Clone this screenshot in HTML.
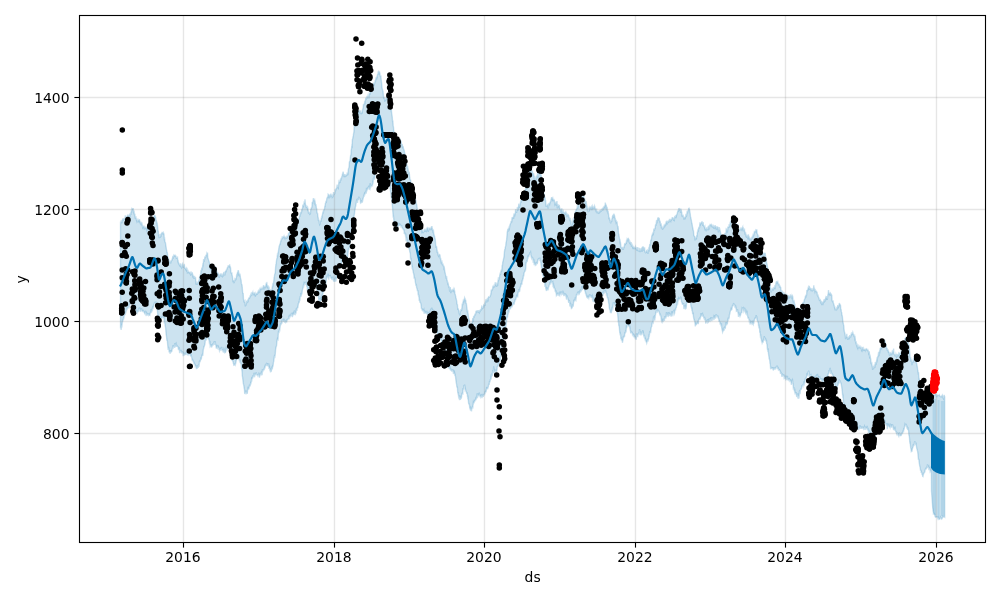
<!DOCTYPE html>
<html><head><meta charset="utf-8"><style>html,body{margin:0;padding:0;background:#fff;overflow:hidden}svg{display:block}</style></head>
<body><svg width="1000" height="600" viewBox="0 0 1000 600">
<rect width="1000" height="600" fill="#fff"/>
<polygon points="120.5,221.5 120.8,223.9 121.1,220.2 121.4,222.1 121.7,222.2 122,222.4 122.3,220.2 122.6,219.5 122.9,218.4 123.2,220.9 123.5,219.3 123.8,218.6 124.1,218.4 124.4,219 124.7,218.5 125,219.6 125.3,215.4 125.6,218.8 125.9,216.9 126.2,217.2 126.5,216.7 126.8,216.8 127.1,217.6 127.4,216.7 127.7,214.5 128,215.9 128.3,215.7 128.6,216 128.9,215.4 129.2,215.1 129.5,216.2 129.8,213.5 130.1,217.2 130.4,213.7 130.7,212.9 131,214.9 131.3,210.8 131.6,211.2 131.9,208.5 132.2,208.7 132.5,208.8 132.8,209.2 133.1,208.1 133.4,210.7 133.7,213.3 134,210.5 134.3,214.6 134.6,214.6 134.9,214.5 135.2,218.8 135.5,218 135.8,216.2 136.1,218.5 136.4,219.9 136.7,219.4 137,221.1 137.3,220.3 137.6,221.4 137.9,222.4 138.2,219.7 138.5,220.8 138.8,220 139.1,220.8 139.4,219.3 139.7,220.4 140,221.3 140.3,223.3 140.6,224.3 140.9,221.7 141.2,223 141.5,225.4 141.8,222.4 142.1,224.8 142.4,225.7 142.7,227.8 143,227.3 143.3,226.2 143.6,226.4 143.9,226.8 144.2,229.3 144.5,226.9 144.8,227.3 145.1,228.3 145.4,227.8 145.7,227.9 146,226.8 146.3,228.2 146.6,227.7 146.9,229.7 147.2,228.9 147.5,228 147.8,228.7 148.1,227.3 148.4,229 148.7,227.5 149,228.1 149.3,225.5 149.6,227.4 149.9,224.6 150.2,223.8 150.5,225.7 150.8,224.3 151.1,224.9 151.4,226.8 151.7,221.9 152,221.2 152.3,221.3 152.6,220.8 152.9,219 153.2,218.1 153.5,218.5 153.8,217.5 154.1,215 154.4,215.9 154.7,216.2 155,215 155.3,217.3 155.6,216.5 155.9,219.8 156.2,220 156.5,221.2 156.8,222.2 157.1,224.8 157.4,224.4 157.7,227.7 158,231.8 158.3,230.5 158.6,236.2 158.9,234.2 159.2,238.1 159.5,236.2 159.8,237.8 160.1,236.5 160.4,233.7 160.7,236.7 161,236.4 161.3,233.9 161.6,233.2 161.9,233.1 162.2,231.9 162.5,234.5 162.8,232.4 163.1,233.3 163.4,232.7 163.7,233.8 164,234 164.3,238.9 164.6,238.6 164.9,241.8 165.2,242.2 165.5,243 165.8,245.3 166.1,246.8 166.4,249.3 166.7,250.5 167,252.3 167.3,252.6 167.6,254.9 167.9,259.6 168.2,257.9 168.5,258.5 168.8,261.2 169.1,263.4 169.4,260.3 169.7,262.4 170,262.2 170.3,260.6 170.6,263.5 170.9,262 171.2,261.6 171.5,259.9 171.8,260.9 172.1,258.9 172.4,258.8 172.7,256.9 173,256 173.3,258.8 173.6,255.9 173.9,256.5 174.2,255.9 174.5,255.2 174.8,255.1 175.1,256.6 175.4,255.5 175.7,255.8 176,256.2 176.3,258.1 176.6,257.9 176.9,258.1 177.2,257.7 177.5,257.4 177.8,261.3 178.1,262.2 178.4,261.6 178.7,263.3 179,264.3 179.3,264.9 179.6,265.4 179.9,263.9 180.2,266.7 180.5,263.2 180.8,266.1 181.1,265.7 181.4,266.4 181.7,267.8 182,267.4 182.3,264.1 182.6,263.6 182.9,267.1 183.2,265 183.5,266.5 183.8,267.9 184.1,265 184.4,264.8 184.7,268.2 185,268.3 185.3,268.4 185.6,269.2 185.9,268.5 186.2,268.1 186.5,270.3 186.8,269.8 187.1,269.3 187.4,272.5 187.7,272.1 188,273.1 188.3,271.5 188.6,272.2 188.9,271.9 189.2,272.1 189.5,273.5 189.8,272.2 190.1,273.6 190.4,273.5 190.7,275.6 191,271.2 191.3,274.4 191.6,273.4 191.9,273.8 192.2,272.3 192.5,274 192.8,276.1 193.1,275.5 193.4,276.2 193.7,276.3 194,278.8 194.3,278 194.6,275.9 194.9,278.7 195.2,277.9 195.5,277.1 195.8,281.5 196.1,284.8 196.4,283.7 196.7,282.4 197,282.8 197.3,285 197.6,283.3 197.9,282.5 198.2,281.7 198.5,281.1 198.8,281.3 199.1,280.1 199.4,278.7 199.7,276.1 200,277 200.3,274.4 200.6,275.5 200.9,271.2 201.2,271.5 201.5,270.4 201.8,267.5 202.1,270.2 202.4,268.7 202.7,265 203,265.5 203.3,264 203.6,259.1 203.9,261.9 204.2,260.5 204.5,259.8 204.8,257.4 205.1,257.6 205.4,256.8 205.7,257.7 206,255.7 206.3,254.6 206.6,256 206.9,253.2 207.2,253.7 207.5,252.5 207.8,258 208.1,258.4 208.4,259.6 208.7,260.5 209,261 209.3,262.4 209.6,263 209.9,264.3 210.2,265.8 210.5,268.9 210.8,268.4 211.1,268.3 211.4,267.9 211.7,267.9 212,270.8 212.3,269.3 212.6,268.6 212.9,267.9 213.2,266.7 213.5,267.9 213.8,269 214.1,267.2 214.4,267.4 214.7,267.4 215,268 215.3,266.2 215.6,268.5 215.9,268.4 216.2,271.3 216.5,269.8 216.8,272.3 217.1,274.1 217.4,272.3 217.7,272.5 218,274.1 218.3,274.3 218.6,273.4 218.9,275.7 219.2,278 219.5,275.3 219.8,275.5 220.1,274.5 220.4,276.1 220.7,273.9 221,273.9 221.3,276.8 221.6,273.7 221.9,276.1 222.2,276.5 222.5,274.7 222.8,274.9 223.1,276.6 223.4,273.7 223.7,273.1 224,272 224.3,273.7 224.6,275.5 224.9,274.5 225.2,271.6 225.5,271.2 225.8,271 226.1,271.3 226.4,269.9 226.7,269.8 227,269.1 227.3,267.7 227.6,267.3 227.9,266.8 228.2,265.8 228.5,265.9 228.8,267.4 229.1,265.8 229.4,265.7 229.7,264.4 230,268.1 230.3,266.3 230.6,268.1 230.9,272.2 231.2,273.1 231.5,273.2 231.8,272.3 232.1,275.3 232.4,276.1 232.7,279 233,282.3 233.3,280.8 233.6,280.5 233.9,280.6 234.2,282.2 234.5,281.8 234.8,279.8 235.1,280.6 235.4,278.1 235.7,280.1 236,279.1 236.3,278.2 236.6,275.2 236.9,275.5 237.2,273.8 237.5,272.6 237.8,272.1 238.1,270.7 238.4,270.7 238.7,274 239,273.4 239.3,274.6 239.6,276.4 239.9,273.6 240.2,275.6 240.5,277.7 240.8,279.3 241.1,279.7 241.4,283.4 241.7,284.4 242,284.8 242.3,287.5 242.6,292 242.9,293.9 243.2,293 243.5,299.4 243.8,300.1 244.1,302.5 244.4,301.2 244.7,301.9 245,301.3 245.3,306.4 245.6,303.2 245.9,305.6 246.2,302.5 246.5,303.4 246.8,300.5 247.1,301.7 247.4,303 247.7,299.6 248,302.1 248.3,300.7 248.6,298.4 248.9,298.6 249.2,298.2 249.5,298.2 249.8,297.1 250.1,296.2 250.4,296.4 250.7,295 251,294.1 251.3,295.3 251.6,296 251.9,292.4 252.2,294 252.5,292.7 252.8,292 253.1,294.2 253.4,292.5 253.7,295.2 254,292.4 254.3,294.1 254.6,293.5 254.9,293 255.2,294.9 255.5,294.2 255.8,295.2 256.1,294.4 256.4,292.9 256.7,294 257,294 257.3,294.9 257.6,292.2 257.9,293 258.2,290.5 258.5,293.3 258.8,290.7 259.1,289.5 259.4,291.4 259.7,292.6 260,288.9 260.3,289.2 260.6,289.3 260.9,288.5 261.2,290.2 261.5,288.4 261.8,288.3 262.1,289.7 262.4,287.7 262.7,288.9 263,286.8 263.3,286.3 263.6,285.2 263.9,289.7 264.2,286.7 264.5,287.1 264.8,286.5 265.1,286.5 265.4,286.1 265.7,288.3 266,284.1 266.3,283.2 266.6,283.8 266.9,283.4 267.2,286.5 267.5,287.1 267.8,285.6 268.1,285.8 268.4,288 268.7,291.2 269,286.6 269.3,291.7 269.6,290.4 269.9,293.6 270.2,290.9 270.5,291.9 270.8,289.9 271.1,290.1 271.4,292.6 271.7,291.2 272,288.9 272.3,287.5 272.6,285.2 272.9,285.9 273.2,284.8 273.5,283 273.8,280.8 274.1,277.3 274.4,276.4 274.7,274.2 275,273.6 275.3,272.1 275.6,267.2 275.9,264.3 276.2,263.2 276.5,260.7 276.8,258.7 277.1,257.9 277.4,255 277.7,255.5 278,253 278.3,252 278.6,249.9 278.9,247.7 279.2,246 279.5,245.6 279.8,244.2 280.1,244.2 280.4,243.1 280.7,240.6 281,241.7 281.3,239.2 281.6,239.4 281.9,239.2 282.2,236.3 282.5,238.5 282.8,238.2 283.1,237.4 283.4,236.9 283.7,237 284,236.2 284.3,237.3 284.6,237.1 284.9,238 285.2,236.5 285.5,238.4 285.8,238.4 286.1,238 286.4,237.6 286.7,238.7 287,235.5 287.3,237.7 287.6,236.8 287.9,236.1 288.2,235.5 288.5,233.4 288.8,233.2 289.1,233.6 289.4,232.6 289.7,231.7 290,228.7 290.3,230.8 290.6,231.1 290.9,230.5 291.2,229.2 291.5,226.6 291.8,229.6 292.1,227.9 292.4,224.6 292.7,228.1 293,225.4 293.3,225.4 293.6,226 293.9,228.2 294.2,225.8 294.5,226.4 294.8,228 295.1,227.5 295.4,224.9 295.7,224.2 296,222.4 296.3,222.5 296.6,223.4 296.9,222.8 297.2,221.8 297.5,222.4 297.8,219.5 298.1,219.8 298.4,220.2 298.7,219.4 299,219.3 299.3,217.7 299.6,216 299.9,216.1 300.2,213.6 300.5,212 300.8,214.2 301.1,212.6 301.4,212.4 301.7,209.1 302,210.1 302.3,208.9 302.6,207.6 302.9,204.6 303.2,205.9 303.5,206.2 303.8,204.5 304.1,202.4 304.4,202.7 304.7,203.7 305,199.3 305.3,203.3 305.6,204.7 305.9,205.5 306.2,207.3 306.5,207.2 306.8,206.7 307.1,207.3 307.4,208.7 307.7,207.8 308,209.3 308.3,211.4 308.6,213.7 308.9,211.8 309.2,212.7 309.5,213.6 309.8,215 310.1,212.8 310.4,213.9 310.7,209.5 311,209.3 311.3,207.9 311.6,207.9 311.9,207 312.2,202.4 312.5,202 312.8,202.5 313.1,200.2 313.4,198.1 313.7,200.9 314,199.9 314.3,200.5 314.6,200 314.9,203 315.2,202.5 315.5,205.4 315.8,204.1 316.1,205.5 316.4,208.3 316.7,208.7 317,212.2 317.3,213.4 317.6,213.5 317.9,216.6 318.2,217.7 318.5,220.9 318.8,220 319.1,221 319.4,223.4 319.7,224.6 320,224 320.3,221 320.6,220.7 320.9,221.9 321.2,219.2 321.5,217.5 321.8,218.1 322.1,217.6 322.4,214.9 322.7,212.8 323,211.9 323.3,213.5 323.6,210.4 323.9,210.1 324.2,209.3 324.5,208.7 324.8,206.3 325.1,206.3 325.4,203.3 325.7,202.9 326,200.9 326.3,202.6 326.6,200 326.9,198 327.2,197.6 327.5,197 327.8,197.7 328.1,194.2 328.4,194.5 328.7,195 329,198.5 329.3,196.3 329.6,194.7 329.9,195.7 330.2,197.4 330.5,194.4 330.8,194.2 331.1,196.3 331.4,195.5 331.7,195.8 332,194.3 332.3,197.5 332.6,197.3 332.9,195.7 333.2,195.8 333.5,192.1 333.8,195.2 334.1,193.7 334.4,193.9 334.7,193.6 335,191.7 335.3,189.2 335.6,191.2 335.9,189.1 336.2,189 336.5,188 336.8,187.7 337.1,184.5 337.4,188.5 337.7,186.7 338,187.2 338.3,187.8 338.6,184.7 338.9,181.8 339.2,182.4 339.5,181.5 339.8,181.8 340.1,182 340.4,178.7 340.7,181 341,177.8 341.3,179.2 341.6,177.6 341.9,176.2 342.2,175.5 342.5,173.9 342.8,173.2 343.1,171.5 343.4,173.6 343.7,176.1 344,176.5 344.3,176 344.6,175.5 344.9,174.1 345.2,177.1 345.5,175.4 345.8,175.5 346.1,175.2 346.4,175.6 346.7,174.7 347,174.9 347.3,172.9 347.6,173 347.9,175.2 348.2,170.6 348.5,168.7 348.8,167.9 349.1,166.3 349.4,162 349.7,161.3 350,160.7 350.3,157.8 350.6,155.5 350.9,155.2 351.2,150.1 351.5,148.8 351.8,145.8 352.1,146.2 352.4,139.4 352.7,138.8 353,136.7 353.3,135.9 353.6,133.4 353.9,132.1 354.2,125.9 354.5,126.6 354.8,122.9 355.1,120.3 355.4,119.8 355.7,116.1 356,113 356.3,114.4 356.6,112.2 356.9,112.9 357.2,113.9 357.5,113.5 357.8,114.9 358.1,112.3 358.4,110.4 358.7,111.3 359,111.1 359.3,110.8 359.6,113.1 359.9,111.8 360.2,110.3 360.5,113.9 360.8,112.9 361.1,113.5 361.4,112.9 361.7,113 362,111.4 362.3,111.9 362.6,109.8 362.9,108.6 363.2,107.6 363.5,104.1 363.8,104.9 364.1,103.9 364.4,103.7 364.7,100.9 365,104.1 365.3,101.4 365.6,99 365.9,97.7 366.2,98.9 366.5,98.4 366.8,97 367.1,97.5 367.4,96.1 367.7,97.3 368,95.3 368.3,95.8 368.6,96.8 368.9,98.5 369.2,93.5 369.5,93.8 369.8,92.9 370.1,94.6 370.4,91.7 370.7,91.9 371,91.9 371.3,89.9 371.6,89.1 371.9,89 372.2,86 372.5,86.1 372.8,86.6 373.1,86.6 373.4,85.4 373.7,82.6 374,83.5 374.3,84.4 374.6,83.4 374.9,81.9 375.2,80.1 375.5,81.4 375.8,79.2 376.1,77.6 376.4,77.3 376.7,79.3 377,76.7 377.3,76.9 377.6,73.8 377.9,74.6 378.2,71.8 378.5,71.5 378.8,74.7 379.1,72.5 379.4,71.4 379.7,72.7 380,74.2 380.3,76.7 380.6,75.8 380.9,75.9 381.2,79.8 381.5,82.2 381.8,84.6 382.1,88.3 382.4,89 382.7,91.4 383,90.6 383.3,94.5 383.6,97.5 383.9,97.1 384.2,97.6 384.5,98.7 384.8,101.6 385.1,98.6 385.4,99.7 385.7,100.2 386,100.1 386.3,98 386.6,98.4 386.9,97 387.2,97 387.5,96.1 387.8,94.4 388.1,95.4 388.4,96.3 388.7,93.9 389,95.1 389.3,97.4 389.6,96.5 389.9,99.9 390.2,100.1 390.5,104.9 390.8,108.6 391.1,110.4 391.4,109.7 391.7,113.3 392,115 392.3,117.4 392.6,121.7 392.9,120.5 393.2,126 393.5,127 393.8,131.3 394.1,132 394.4,132.8 394.7,135.4 395,137.2 395.3,136.9 395.6,138.1 395.9,137.4 396.2,135.8 396.5,140.2 396.8,140.4 397.1,140.1 397.4,140.2 397.7,141.7 398,139.9 398.3,139.6 398.6,140.3 398.9,142.1 399.2,138.8 399.5,142.1 399.8,139.9 400.1,139.5 400.4,143 400.7,141.7 401,140.7 401.3,142.5 401.6,144.7 401.9,145.6 402.2,144.1 402.5,145.9 402.8,147.1 403.1,146.3 403.4,148.6 403.7,149.2 404,149.7 404.3,151 404.6,153 404.9,154.2 405.2,154.8 405.5,156.3 405.8,159.7 406.1,160 406.4,162.4 406.7,164.3 407,165 407.3,168.7 407.6,166.1 407.9,169.7 408.2,169.6 408.5,173.8 408.8,175 409.1,171.5 409.4,174.1 409.7,177.5 410,178.8 410.3,180 410.6,180.1 410.9,181.9 411.2,183.3 411.5,183.4 411.8,185.9 412.1,182.6 412.4,187.4 412.7,186.2 413,189.8 413.3,189.3 413.6,189.5 413.9,192.3 414.2,191.7 414.5,192.9 414.8,193.3 415.1,196.6 415.4,198.7 415.7,200.8 416,200.8 416.3,203.9 416.6,204.1 416.9,205.5 417.2,208 417.5,210.2 417.8,210 418.1,211.7 418.4,213.4 418.7,215.3 419,215.5 419.3,219.6 419.6,219.3 419.9,221.9 420.2,221.6 420.5,224.6 420.8,225.9 421.1,226 421.4,230.4 421.7,229.3 422,232.2 422.3,231.8 422.6,230.3 422.9,231 423.2,232.3 423.5,231.9 423.8,231.9 424.1,231.4 424.4,229.3 424.7,231.3 425,228.6 425.3,231.8 425.6,230.2 425.9,230 426.2,230.5 426.5,231 426.8,228.6 427.1,228 427.4,228.8 427.7,227.5 428,228.8 428.3,232 428.6,228.5 428.9,230.5 429.2,227.6 429.5,229.4 429.8,228.3 430.1,228.3 430.4,228.8 430.7,230.1 431,227.8 431.3,227.6 431.6,226.2 431.9,228.4 432.2,227.9 432.5,230.1 432.8,229.9 433.1,233.2 433.4,229.5 433.7,232.8 434,235.5 434.3,235.4 434.6,236.3 434.9,238.5 435.2,238.7 435.5,242.3 435.8,247 436.1,247 436.4,245.8 436.7,247.7 437,249.9 437.3,252.9 437.6,251.6 437.9,252.6 438.2,255.4 438.5,256 438.8,254.9 439.1,254.5 439.4,254.5 439.7,256.1 440,254.6 440.3,259.1 440.6,257.9 440.9,260.1 441.2,262.7 441.5,262.6 441.8,260.4 442.1,263.9 442.4,265.2 442.7,263.6 443,264.2 443.3,266.3 443.6,265.3 443.9,270.3 444.2,266.3 444.5,269.1 444.8,271.3 445.1,272.5 445.4,274.2 445.7,275.5 446,276.1 446.3,279 446.6,276 446.9,280 447.2,280.2 447.5,282.5 447.8,283.7 448.1,283.2 448.4,284.4 448.7,287.1 449,287.2 449.3,286.4 449.6,290.6 449.9,291.4 450.2,287.1 450.5,289.8 450.8,293.1 451.1,291.2 451.4,290.8 451.7,290.4 452,290 452.3,290.4 452.6,290 452.9,291.6 453.2,290.1 453.5,290 453.8,289.1 454.1,290.7 454.4,289.9 454.7,291.5 455,294 455.3,294.5 455.6,296.1 455.9,297.5 456.2,298.7 456.5,300.2 456.8,301.7 457.1,304.8 457.4,304.1 457.7,308.8 458,308.6 458.3,308.8 458.6,310.3 458.9,311 459.2,313 459.5,312.7 459.8,315.5 460.1,313.1 460.4,310.7 460.7,311.8 461,309 461.3,310.2 461.6,310.2 461.9,308.2 462.2,304.2 462.5,303.5 462.8,305.3 463.1,302 463.4,300.2 463.7,300.4 464,301.2 464.3,299.4 464.6,297.9 464.9,298.8 465.2,300.2 465.5,299.8 465.8,300.6 466.1,303.5 466.4,303.6 466.7,306.3 467,308 467.3,312.4 467.6,309.9 467.9,312.6 468.2,314.3 468.5,316.9 468.8,319.6 469.1,319.4 469.4,320.8 469.7,321.3 470,323.6 470.3,326.2 470.6,325.9 470.9,324.3 471.2,324.6 471.5,324.5 471.8,324.3 472.1,322.1 472.4,321.7 472.7,318.8 473,318.8 473.3,321.6 473.6,315.8 473.9,317.4 474.2,317.3 474.5,315.8 474.8,314.7 475.1,315 475.4,314.5 475.7,313.8 476,310.9 476.3,312.5 476.6,311 476.9,310.9 477.2,311.4 477.5,311.6 477.8,311.9 478.1,310 478.4,311.9 478.7,312.3 479,312.3 479.3,312.7 479.6,310.8 479.9,310.8 480.2,312.1 480.5,309.1 480.8,310.8 481.1,309.5 481.4,309.2 481.7,306.8 482,307.3 482.3,307.9 482.6,308.5 482.9,308.1 483.2,306.2 483.5,305.6 483.8,304.3 484.1,305.4 484.4,304.2 484.7,304.8 485,305.9 485.3,303.1 485.6,300.7 485.9,301.1 486.2,299.8 486.5,299.7 486.8,302.5 487.1,300.5 487.4,297.8 487.7,300.1 488,300.4 488.3,297.8 488.6,296.9 488.9,296.8 489.2,297 489.5,296.9 489.8,296.9 490.1,296.2 490.4,295.4 490.7,294.9 491,293.2 491.3,289.6 491.6,290.7 491.9,290.5 492.2,288.8 492.5,289.7 492.8,287.2 493.1,285.7 493.4,288.1 493.7,286.6 494,285.7 494.3,286.6 494.6,286.7 494.9,285.8 495.2,282.2 495.5,284.6 495.8,285 496.1,284.3 496.4,285.8 496.7,286.8 497,284.3 497.3,282.6 497.6,285.9 497.9,281.6 498.2,279.6 498.5,280.4 498.8,279.7 499.1,277.2 499.4,278.2 499.7,275.5 500,274 500.3,274.4 500.6,274.1 500.9,271.2 501.2,271.2 501.5,269.3 501.8,271.5 502.1,265.3 502.4,266.3 502.7,262.7 503,260.9 503.3,260.2 503.6,258.6 503.9,257.3 504.2,254.2 504.5,251.2 504.8,249.3 505.1,248.7 505.4,246.9 505.7,245.9 506,242.7 506.3,241.5 506.6,240.1 506.9,236.3 507.2,232.3 507.5,230.9 507.8,229.1 508.1,231.8 508.4,227.7 508.7,229.6 509,228 509.3,228.8 509.6,227.1 509.9,224.9 510.2,224 510.5,223.6 510.8,222.9 511.1,221.2 511.4,221.1 511.7,222.5 512,217.4 512.3,219.2 512.6,217 512.9,217.8 513.2,218 513.5,216.3 513.8,216.8 514.1,213.2 514.4,216.2 514.7,213.5 515,214.6 515.3,213.4 515.6,209.2 515.9,211 516.2,211.7 516.5,212.8 516.8,210.5 517.1,209.9 517.4,207.1 517.7,210.2 518,210 518.3,207.1 518.6,206.1 518.9,203.6 519.2,206.2 519.5,208 519.8,204.7 520.1,204.8 520.4,203.2 520.7,200.6 521,202.9 521.3,199 521.6,199.7 521.9,199.7 522.2,199.9 522.5,198.7 522.8,198.1 523.1,196 523.4,194.8 523.7,195.9 524,194.3 524.3,192.9 524.6,192.3 524.9,192.5 525.2,189.7 525.5,189.3 525.8,187.7 526.1,188.8 526.4,187.7 526.7,188.4 527,182.5 527.3,182.1 527.6,182.7 527.9,179.8 528.2,178.1 528.5,179.3 528.8,175.1 529.1,172.5 529.4,170.8 529.7,171.8 530,170.7 530.3,168.3 530.6,168.8 530.9,171.1 531.2,171.5 531.5,170.4 531.8,172.5 532.1,173 532.4,170.6 532.7,173.1 533,174.8 533.3,174.2 533.6,173 533.9,176.2 534.2,178.3 534.5,180.2 534.8,175.7 535.1,182.3 535.4,177.4 535.7,179.9 536,179.9 536.3,179.2 536.6,177.6 536.9,175.4 537.2,177.2 537.5,174.9 537.8,172 538.1,178.3 538.4,175 538.7,175.8 539,171.7 539.3,174.3 539.6,174.2 539.9,174.3 540.2,173 540.5,172.5 540.8,175.5 541.1,174.6 541.4,177.1 541.7,181.2 542,181.6 542.3,184.4 542.6,186.3 542.9,190.6 543.2,191.5 543.5,191.4 543.8,194.5 544.1,193.5 544.4,195.5 544.7,198.6 545,197.4 545.3,200.1 545.6,200.3 545.9,203.6 546.2,206.9 546.5,204.9 546.8,206.7 547.1,205.5 547.4,205.1 547.7,204.7 548,207.8 548.3,208.5 548.6,205.5 548.9,203.4 549.2,204.7 549.5,202.7 549.8,203.6 550.1,202.3 550.4,201.7 550.7,201.5 551,199.3 551.3,199.1 551.6,197.1 551.9,198.6 552.2,197.4 552.5,199.3 552.8,198.5 553.1,200.2 553.4,201 553.7,198.9 554,200 554.3,200.2 554.6,202.7 554.9,204.3 555.2,203.5 555.5,202.3 555.8,205.1 556.1,201.6 556.4,205.9 556.7,203.4 557,201 557.3,208.3 557.6,207.1 557.9,204 558.2,205.9 558.5,205.7 558.8,206.5 559.1,204.8 559.4,206.3 559.7,208.2 560,208.4 560.3,210.1 560.6,209.1 560.9,212.6 561.2,209 561.5,210.7 561.8,208.3 562.1,209.6 562.4,213.4 562.7,210.8 563,213.1 563.3,212.6 563.6,211.5 563.9,212.6 564.2,212.6 564.5,212.7 564.8,214.3 565.1,214.2 565.4,212.6 565.7,212.1 566,213.6 566.3,213.2 566.6,214.7 566.9,217.1 567.2,215.2 567.5,214.5 567.8,214.9 568.1,214.7 568.4,215.2 568.7,215.8 569,217.3 569.3,217.9 569.6,220.2 569.9,219.4 570.2,220.4 570.5,219.8 570.8,224.2 571.1,223.4 571.4,225.4 571.7,224.2 572,224.9 572.3,222 572.6,222.5 572.9,224.2 573.2,218.2 573.5,220.4 573.8,220.2 574.1,217.6 574.4,217.1 574.7,216.9 575,213.4 575.3,213.9 575.6,211.2 575.9,210.5 576.2,209.5 576.5,209.2 576.8,208.7 577.1,208.2 577.4,204.9 577.7,208.6 578,206.7 578.3,205.4 578.6,203.2 578.9,202.9 579.2,203 579.5,202.2 579.8,198.7 580.1,201.4 580.4,203.7 580.7,196.8 581,200.1 581.3,198.7 581.6,197.6 581.9,199.1 582.2,195.3 582.5,196.7 582.8,198.2 583.1,195.9 583.4,195.9 583.7,197.1 584,197 584.3,200.5 584.6,198.2 584.9,201.6 585.2,199.7 585.5,203.3 585.8,203.3 586.1,201 586.4,205.5 586.7,205.1 587,206.9 587.3,210.5 587.6,207.8 587.9,208.5 588.2,212.2 588.5,210.5 588.8,212 589.1,209.8 589.4,207.4 589.7,207.9 590,209.1 590.3,208.5 590.6,207.2 590.9,207.3 591.2,207.2 591.5,206.7 591.8,210.1 592.1,207.6 592.4,206.1 592.7,207 593,208.7 593.3,208.6 593.6,207.6 593.9,207 594.2,208 594.5,205.9 594.8,206.5 595.1,209.5 595.4,208 595.7,209.4 596,210.9 596.3,210.5 596.6,210 596.9,213.3 597.2,211.8 597.5,210.9 597.8,212.8 598.1,212.9 598.4,211.6 598.7,213 599,212.8 599.3,210.3 599.6,212.5 599.9,212.2 600.2,211.7 600.5,209.7 600.8,211.1 601.1,211.2 601.4,211 601.7,209 602,210.9 602.3,208 602.6,208.9 602.9,210.5 603.2,207.4 603.5,207.2 603.8,208.9 604.1,206.5 604.4,206.1 604.7,206.4 605,207 605.3,202.6 605.6,204.5 605.9,204.7 606.2,205.3 606.5,206.5 606.8,207.4 607.1,209.9 607.4,209.2 607.7,211.5 608,212.8 608.3,212.4 608.6,214.6 608.9,218 609.2,217.6 609.5,217.8 609.8,219.9 610.1,220 610.4,222.4 610.7,223.4 611,221 611.3,221 611.6,221.9 611.9,218.7 612.2,218.6 612.5,216.1 612.8,215.5 613.1,215.1 613.4,218.1 613.7,214.5 614,214.3 614.3,214.9 614.6,216 614.9,218 615.2,218.2 615.5,221.5 615.8,219.9 616.1,222.2 616.4,221.5 616.7,222.8 617,221.2 617.3,224.5 617.6,226.3 617.9,228 618.2,227.6 618.5,233.6 618.8,234 619.1,235.9 619.4,238 619.7,239.7 620,242.2 620.3,241.5 620.6,243.5 620.9,246.6 621.2,247.5 621.5,247.8 621.8,247.8 622.1,247.6 622.4,248.5 622.7,249.9 623,246.8 623.3,249.9 623.6,248.7 623.9,246.7 624.2,247.9 624.5,244.6 624.8,243.7 625.1,243.8 625.4,244.3 625.7,243.8 626,242.9 626.3,243.1 626.6,239.5 626.9,242.2 627.2,239.1 627.5,239.6 627.8,239.7 628.1,238.6 628.4,238.5 628.7,239.4 629,241.1 629.3,242.4 629.6,242.9 629.9,241.5 630.2,242.3 630.5,242.7 630.8,244.9 631.1,242.1 631.4,246.7 631.7,244.7 632,244.5 632.3,246.1 632.6,247.2 632.9,246.4 633.2,247.5 633.5,246.5 633.8,248.1 634.1,248.3 634.4,246.8 634.7,249 635,247.7 635.3,247.9 635.6,246.8 635.9,247.9 636.2,249.6 636.5,247.2 636.8,250 637.1,249.9 637.4,250.1 637.7,247.1 638,250.1 638.3,251.4 638.6,249.7 638.9,251 639.2,247.9 639.5,252 639.8,250.2 640.1,252.1 640.4,248.4 640.7,251.5 641,250 641.3,251 641.6,248.3 641.9,248.3 642.2,251.6 642.5,247.1 642.8,247 643.1,247.4 643.4,246.5 643.7,249.7 644,250.8 644.3,248.2 644.6,247.4 644.9,251.7 645.2,252.2 645.5,252.4 645.8,253.2 646.1,251 646.4,252 646.7,250.4 647,250.2 647.3,253 647.6,250.5 647.9,254 648.2,250.7 648.5,249.2 648.8,250.1 649.1,250.4 649.4,247.5 649.7,244.1 650,244.9 650.3,244.9 650.6,241.3 650.9,239.7 651.2,240.8 651.5,238.5 651.8,235.7 652.1,235.6 652.4,234.1 652.7,234.5 653,233.3 653.3,233.8 653.6,232.3 653.9,228.5 654.2,230.2 654.5,230 654.8,228.6 655.1,228.5 655.4,225.6 655.7,224.2 656,225.8 656.3,222.3 656.6,220.1 656.9,223.4 657.2,220.3 657.5,220 657.8,218 658.1,217.7 658.4,217.8 658.7,219.1 659,220.5 659.3,217.8 659.6,222.5 659.9,220.8 660.2,221.7 660.5,224.7 660.8,224.5 661.1,223.4 661.4,228.5 661.7,225.7 662,227.8 662.3,228.1 662.6,230 662.9,227.4 663.2,229 663.5,226.3 663.8,228.1 664.1,225 664.4,224.9 664.7,227.2 665,224.6 665.3,223.7 665.6,226 665.9,223.2 666.2,221.4 666.5,223.3 666.8,220.7 667.1,223.7 667.4,223.7 667.7,221.3 668,221.2 668.3,222.1 668.6,221.8 668.9,220.5 669.2,222.4 669.5,218.9 669.8,220.8 670.1,220.6 670.4,220.6 670.7,221.1 671,218.8 671.3,220.8 671.6,219.6 671.9,218.7 672.2,217.6 672.5,217.6 672.8,219.5 673.1,217.6 673.4,218.8 673.7,220 674,219.8 674.3,220.2 674.6,217.4 674.9,215.9 675.2,218.1 675.5,216.6 675.8,217 676.1,214.9 676.4,215.8 676.7,214.7 677,213.9 677.3,212.9 677.6,212.1 677.9,211.1 678.2,210.4 678.5,210.7 678.8,208.2 679.1,210.7 679.4,208.2 679.7,209.9 680,208.9 680.3,209.3 680.6,213 680.9,210.6 681.2,210.1 681.5,211.5 681.8,212.7 682.1,216.6 682.4,214.8 682.7,216.4 683,214.6 683.3,216.9 683.6,217.8 683.9,219.7 684.2,216.7 684.5,218.6 684.8,218.3 685.1,216.6 685.4,217.8 685.7,217.1 686,213.9 686.3,216.7 686.6,215.6 686.9,213.2 687.2,210.9 687.5,213.5 687.8,210.9 688.1,210.9 688.4,210.6 688.7,207.7 689,209.3 689.3,208.8 689.6,210.1 689.9,211.7 690.2,213.5 690.5,216.8 690.8,217.4 691.1,218.9 691.4,220.5 691.7,223.1 692,223.2 692.3,225.3 692.6,227.5 692.9,228.3 693.2,230.3 693.5,231 693.8,235.7 694.1,236 694.4,236.1 694.7,236.5 695,240.4 695.3,238.5 695.6,238.2 695.9,238.4 696.2,237.6 696.5,238.1 696.8,235.1 697.1,236.6 697.4,231.6 697.7,232.5 698,229.2 698.3,231.8 698.6,228 698.9,227.5 699.2,228 699.5,227.7 699.8,224 700.1,224.5 700.4,222.6 700.7,224.1 701,223.4 701.3,222.8 701.6,222.1 701.9,222.4 702.2,222.1 702.5,224.1 702.8,226 703.1,222.1 703.4,225.1 703.7,225.3 704,227.1 704.3,225.8 704.6,227.4 704.9,226.7 705.2,229.4 705.5,229.1 705.8,229 706.1,230 706.4,229.2 706.7,227.4 707,230.1 707.3,229.3 707.6,228.4 707.9,229.6 708.2,229.5 708.5,226.2 708.8,226.2 709.1,229 709.4,228.6 709.7,225.5 710,224.8 710.3,225.4 710.6,225.5 710.9,224 711.2,226.1 711.5,224.4 711.8,224.6 712.1,227.4 712.4,225.4 712.7,226.3 713,227.3 713.3,227.6 713.6,226.2 713.9,226.8 714.2,225.7 714.5,229 714.8,227.6 715.1,225.2 715.4,226.6 715.7,227.5 716,227.2 716.3,229.1 716.6,228.7 716.9,226.6 717.2,227.5 717.5,226.4 717.8,228.7 718.1,228.9 718.4,232.5 718.7,229.5 719,227 719.3,229.3 719.6,230.9 719.9,229.8 720.2,231 720.5,232.5 720.8,234.3 721.1,234.6 721.4,234.6 721.7,237.7 722,237 722.3,237.7 722.6,237 722.9,237.9 723.2,239.5 723.5,236.1 723.8,237.4 724.1,237.7 724.4,235.5 724.7,235.5 725,232.9 725.3,235.3 725.6,234.3 725.9,232.4 726.2,229.1 726.5,229.4 726.8,231.4 727.1,231.8 727.4,229.4 727.7,230.1 728,227.2 728.3,227.3 728.6,227 728.9,227.1 729.2,224.1 729.5,226.7 729.8,226.6 730.1,222.8 730.4,221.9 730.7,223.5 731,221.5 731.3,218.6 731.6,222.1 731.9,220.6 732.2,219 732.5,221.7 732.8,218.5 733.1,216.8 733.4,217.6 733.7,216.2 734,216.8 734.3,219 734.6,218.4 734.9,219.3 735.2,222.8 735.5,222.4 735.8,223.1 736.1,223.4 736.4,224.1 736.7,226 737,224.8 737.3,227.9 737.6,224.9 737.9,226.4 738.2,225.6 738.5,227.5 738.8,229.2 739.1,231 739.4,228.9 739.7,230.1 740,230 740.3,229.4 740.6,228.8 740.9,230.1 741.2,227.5 741.5,229.7 741.8,229.3 742.1,228.2 742.4,227.5 742.7,226.9 743,231.1 743.3,227.2 743.6,231.3 743.9,230.6 744.2,230 744.5,229.6 744.8,233.2 745.1,234.7 745.4,231.9 745.7,233.4 746,235.7 746.3,235.4 746.6,238 746.9,235.1 747.2,236.9 747.5,234.9 747.8,239.5 748.1,236.1 748.4,234.4 748.7,237.3 749,237.5 749.3,240.3 749.6,237.6 749.9,238.1 750.2,239 750.5,240.3 750.8,238.2 751.1,239.7 751.4,239 751.7,237.8 752,238.1 752.3,237.5 752.6,235.6 752.9,237.7 753.2,233.5 753.5,236.1 753.8,235.1 754.1,233.1 754.4,231.5 754.7,231.6 755,231.9 755.3,231.7 755.6,230.6 755.9,231.3 756.2,229.4 756.5,230.7 756.8,229.3 757.1,233.4 757.4,233.9 757.7,234.4 758,237.8 758.3,238.5 758.6,235.3 758.9,240.3 759.2,239.8 759.5,244.5 759.8,248 760.1,245.7 760.4,248.2 760.7,249.5 761,252 761.3,253.8 761.6,255.8 761.9,253.6 762.2,257.2 762.5,254 762.8,255.4 763.1,256.4 763.4,255.5 763.7,253.1 764,253.1 764.3,253.1 764.6,253.5 764.9,255.3 765.2,252.8 765.5,256 765.8,257.6 766.1,259.1 766.4,260.5 766.7,263.5 767,263.8 767.3,266 767.6,267.6 767.9,271.2 768.2,268.7 768.5,275.1 768.8,275.4 769.1,277.8 769.4,279.2 769.7,280.4 770,284.6 770.3,286.2 770.6,289.4 770.9,288 771.2,292.4 771.5,291.2 771.8,290.5 772.1,289.7 772.4,289.4 772.7,288.8 773,289.3 773.3,289.7 773.6,289.2 773.9,287.2 774.2,288.2 774.5,286.8 774.8,287.5 775.1,289.1 775.4,286.8 775.7,284.8 776,282.4 776.3,282 776.6,281 776.9,283.6 777.2,281.4 777.5,282.4 777.8,281.8 778.1,283.2 778.4,285.5 778.7,283.4 779,284.6 779.3,284.7 779.6,287.7 779.9,286 780.2,286.6 780.5,287 780.8,287.7 781.1,290.7 781.4,294.1 781.7,290 782,293 782.3,292.6 782.6,291.4 782.9,292.9 783.2,293.4 783.5,293.2 783.8,297.1 784.1,292.5 784.4,295.8 784.7,296.1 785,295.1 785.3,296.2 785.6,297.3 785.9,296.5 786.2,296.9 786.5,297.3 786.8,293.8 787.1,298.4 787.4,299.6 787.7,298 788,298.1 788.3,295 788.6,296.8 788.9,296 789.2,296.3 789.5,298.3 789.8,296 790.1,296.8 790.4,294.4 790.7,296.7 791,296.9 791.3,295.8 791.6,295.8 791.9,299.2 792.2,295.4 792.5,295.9 792.8,296.9 793.1,300.3 793.4,302.4 793.7,301.2 794,300.9 794.3,302.3 794.6,305.4 794.9,303.9 795.2,308.1 795.5,309.2 795.8,308.5 796.1,310.3 796.4,311.4 796.7,313.5 797,311.1 797.3,314.8 797.6,313.5 797.9,313.4 798.2,314.5 798.5,313.9 798.8,312.3 799.1,310.9 799.4,311.1 799.7,313.5 800,313.4 800.3,311 800.6,310.9 800.9,307.9 801.2,307.8 801.5,307.5 801.8,305.1 802.1,304.5 802.4,305.2 802.7,304 803,302.3 803.3,303.4 803.6,301.7 803.9,302.6 804.2,300.5 804.5,299.3 804.8,299 805.1,297.8 805.4,296.3 805.7,295.7 806,296.3 806.3,295.1 806.6,295 806.9,290.1 807.2,290.8 807.5,289.9 807.8,289.7 808.1,288 808.4,287.2 808.7,288.4 809,287.3 809.3,285.8 809.6,289.3 809.9,289.3 810.2,287.7 810.5,290 810.8,288.4 811.1,291.2 811.4,289.8 811.7,289.3 812,290.1 812.3,289.6 812.6,290.7 812.9,290.5 813.2,290.2 813.5,289.3 813.8,285.2 814.1,290.1 814.4,287.6 814.7,290.4 815,291.8 815.3,290.9 815.6,290.3 815.9,290.9 816.2,291.4 816.5,291.4 816.8,292 817.1,292.3 817.4,295.8 817.7,295 818,297.1 818.3,296.2 818.6,297.4 818.9,297.8 819.2,299.3 819.5,300.4 819.8,300.3 820.1,299.6 820.4,300 820.7,303.5 821,301.3 821.3,301.5 821.6,303.9 821.9,303.5 822.2,302.8 822.5,301.6 822.8,305.1 823.1,302.5 823.4,302.6 823.7,301.5 824,299.7 824.3,299.6 824.6,301.6 824.9,301.3 825.2,300 825.5,298.3 825.8,297.3 826.1,298.1 826.4,296.1 826.7,298.6 827,298.3 827.3,300 827.6,297 827.9,294.6 828.2,293.8 828.5,290 828.8,293.2 829.1,293.2 829.4,294.3 829.7,293.5 830,293.2 830.3,292.9 830.6,293.9 830.9,295.8 831.2,293.6 831.5,295.5 831.8,295.5 832.1,300.6 832.4,301.3 832.7,301.7 833,300.2 833.3,303 833.6,303.5 833.9,304.9 834.2,305.5 834.5,307.3 834.8,307.1 835.1,309.6 835.4,309.5 835.7,309.2 836,309.7 836.3,308.9 836.6,310.2 836.9,308.2 837.2,308.4 837.5,307 837.8,305.1 838.1,307.8 838.4,304.9 838.7,306.8 839,306.1 839.3,303.1 839.6,303.9 839.9,304.5 840.2,304.7 840.5,305.1 840.8,309.1 841.1,309.3 841.4,311.9 841.7,312.6 842,315.3 842.3,315.8 842.6,318.7 842.9,321.6 843.2,323 843.5,324.5 843.8,325.8 844.1,329.5 844.4,331.8 844.7,332.7 845,333.6 845.3,336.1 845.6,339.2 845.9,335.9 846.2,337 846.5,337.3 846.8,333.8 847.1,337.6 847.4,336.8 847.7,339.9 848,338 848.3,337.5 848.6,338.3 848.9,338.6 849.2,337.3 849.5,337.5 849.8,335.2 850.1,336 850.4,336.6 850.7,337.4 851,335 851.3,333.8 851.6,334.4 851.9,333.7 852.2,334.2 852.5,333.4 852.8,332.3 853.1,333.4 853.4,334.2 853.7,335.4 854,336.4 854.3,336.3 854.6,335.8 854.9,338.8 855.2,338.2 855.5,341.9 855.8,342.7 856.1,341.3 856.4,344.9 856.7,345.7 857,345.1 857.3,347.5 857.6,348.1 857.9,344.4 858.2,347.6 858.5,347.1 858.8,347.4 859.1,348.4 859.4,346.6 859.7,347.1 860,347.1 860.3,347.4 860.6,348.5 860.9,347 861.2,347.7 861.5,349.9 861.8,349.2 862.1,349.9 862.4,347 862.7,348.5 863,348.8 863.3,349.6 863.6,348.8 863.9,350.8 864.2,349.5 864.5,349.5 864.8,349.4 865.1,350.2 865.4,348.5 865.7,350.4 866,349.4 866.3,349 866.6,348.8 866.9,349.4 867.2,350.1 867.5,350.2 867.8,349.9 868.1,351.2 868.4,351.1 868.7,353.5 869,352.9 869.3,351.3 869.6,356.9 869.9,356.4 870.2,356 870.5,358.5 870.8,358.9 871.1,364.1 871.4,363.3 871.7,361.9 872,365.9 872.3,365.9 872.6,370 872.9,367 873.2,365.9 873.5,369.1 873.8,368.1 874.1,367.4 874.4,364.4 874.7,366.9 875,367.6 875.3,362 875.6,365.1 875.9,361.8 876.2,364.7 876.5,361.2 876.8,359.5 877.1,360.3 877.4,358.6 877.7,356.3 878,357.1 878.3,354.7 878.6,352.1 878.9,356.3 879.2,352.4 879.5,351.2 879.8,351.7 880.1,348.5 880.4,348.1 880.7,348.5 881,347.7 881.3,347.6 881.6,348.2 881.9,345.2 882.2,345.6 882.5,344.9 882.8,341.9 883.1,342.8 883.4,340.5 883.7,342.6 884,341.4 884.3,341.2 884.6,339.8 884.9,342.5 885.2,342.1 885.5,344.9 885.8,344.7 886.1,344.7 886.4,347.9 886.7,348.5 887,347.7 887.3,350.8 887.6,349.6 887.9,350.3 888.2,351.4 888.5,350.9 888.8,351.8 889.1,352.6 889.4,355.1 889.7,355.2 890,352.9 890.3,355.2 890.6,353 890.9,353.3 891.2,353.8 891.5,352.8 891.8,355.3 892.1,352.3 892.4,350.3 892.7,353.5 893,351.4 893.3,351.8 893.6,348.6 893.9,354.1 894.2,354.2 894.5,354.5 894.8,355 895.1,356.3 895.4,354.3 895.7,355.9 896,354 896.3,354.8 896.6,356.9 896.9,356.2 897.2,354 897.5,356.3 897.8,355.5 898.1,354.6 898.4,356.1 898.7,354.9 899,353.2 899.3,353.6 899.6,357.2 899.9,352.6 900.2,354.6 900.5,354.8 900.8,354.4 901.1,351.4 901.4,351.8 901.7,351.5 902,351.4 902.3,348.3 902.6,346.5 902.9,348.1 903.2,347.1 903.5,345.1 903.8,342.7 904.1,343 904.4,341.6 904.7,341.6 905,338 905.3,339.1 905.6,338.3 905.9,337 906.2,338.9 906.5,339.1 906.8,339.1 907.1,340.8 907.4,339.2 907.7,341.7 908,343.1 908.3,343.8 908.6,345.9 908.9,344.4 909.2,345.8 909.5,350.1 909.8,352.8 910.1,357.3 910.4,357.8 910.7,357.8 911,361.8 911.3,360.4 911.6,360.1 911.9,365.3 912.2,362.1 912.5,362.2 912.8,361.5 913.1,362.6 913.4,360.1 913.7,360.7 914,357.1 914.3,356 914.6,359.1 914.9,358.7 915.2,357.5 915.5,357.3 915.8,358.3 916.1,358.5 916.4,363 916.7,363.6 917,365.2 917.3,366.8 917.6,369.4 917.9,370.5 918.2,372.7 918.5,372 918.8,376 919.1,380 919.4,378.4 919.7,380.7 920,383.9 920.3,385.9 920.6,387.4 920.9,386.4 921.2,391 921.5,390.6 921.8,392.4 922.1,395.2 922.4,394.6 922.7,396.1 923,399.1 923.3,395.9 923.6,395.6 923.9,393.3 924.2,393.4 924.5,392.6 924.8,393 925.1,392 925.4,392.3 925.7,392.7 926,391.4 926.3,390.6 926.6,390.5 926.9,392.8 927.2,392.4 927.5,393.9 927.8,394.5 928.1,393.4 928.4,395.5 928.7,393.5 929,399.1 929.3,398.5 929.6,397.4 929.9,396.9 930.2,399.6 930.5,397.4 930.8,399.5 931.1,402.2 931.4,401.9 931.5,397.1 932.1,397 932.7,396.9 933.3,395.7 933.9,395 934.5,395 935.1,394.4 935.7,393.6 936.3,395.8 936.9,396.5 937.5,395.1 938.1,395.3 938.7,395.5 939.3,394.8 939.9,396.2 940.5,396.5 941.1,397 941.7,396 942.3,395.1 942.9,397.7 943.5,398.7 944.1,394.9 944.7,396.9 944.7,517.2 944.1,516.8 943.5,517 942.9,516.4 942.3,518.1 941.7,519.1 941.1,518.3 940.5,517.1 939.9,519 939.3,519.3 938.7,517.7 938.1,518.9 937.5,517.2 936.9,516.8 936.3,517 935.7,517.2 935.1,516.7 934.5,513.9 933.9,513.4 933.3,511.2 932.7,507.4 932.1,499.6 931.5,490.9 931.4,472.2 931.1,469 930.8,471.1 930.5,471.1 930.2,471.6 929.9,468.2 929.6,468.8 929.3,468.1 929,470.2 928.7,466.8 928.4,467.3 928.1,466.9 927.8,465.2 927.5,464.4 927.2,468 926.9,466.2 926.6,469 926.3,467.3 926,469.6 925.7,468.6 925.4,469 925.1,470.2 924.8,472 924.5,472.4 924.2,472.5 923.9,473.2 923.6,474 923.3,474.3 923,476.6 922.7,476.4 922.4,474 922.1,474.9 921.8,472.7 921.5,472 921.2,473 920.9,469.8 920.6,471 920.3,468.8 920,466.8 919.7,466.2 919.4,463.9 919.1,462.1 918.8,458.9 918.5,459.9 918.2,457.1 917.9,453.6 917.6,451.3 917.3,450.5 917,449.2 916.7,448.2 916.4,446.1 916.1,442.9 915.8,445.2 915.5,442.3 915.2,442.1 914.9,442 914.6,442 914.3,443.5 914,445.5 913.7,445.9 913.4,444.1 913.1,446.7 912.8,447.6 912.5,448.4 912.2,449.6 911.9,451.3 911.6,451.3 911.3,451.6 911,448.9 910.7,447.9 910.4,445.4 910.1,442.4 909.8,442.6 909.5,438.4 909.2,435.4 908.9,435.3 908.6,430.7 908.3,430.1 908,427.4 907.7,429.8 907.4,428.6 907.1,427 906.8,427.3 906.5,425.3 906.2,423.9 905.9,426.3 905.6,424.2 905.3,425 905,424.3 904.7,426 904.4,427.5 904.1,429.1 903.8,429 903.5,432.2 903.2,430.6 902.9,431.4 902.6,433.2 902.3,433.5 902,433.1 901.7,433.1 901.4,434.7 901.1,435.5 900.8,435.7 900.5,435.4 900.2,435.1 899.9,436 899.6,433.4 899.3,433.1 899,433.5 898.7,436 898.4,435.4 898.1,433.9 897.8,433.1 897.5,433.1 897.2,433.2 896.9,434.3 896.6,433.5 896.3,431 896,432.1 895.7,431.4 895.4,429.9 895.1,426.5 894.8,430.5 894.5,429.3 894.2,429.3 893.9,427.7 893.6,430.1 893.3,428.4 893,426.7 892.7,424.7 892.4,426.6 892.1,424 891.8,426.4 891.5,427.7 891.2,425.6 890.9,427.4 890.6,424.5 890.3,424.3 890,427.5 889.7,426.9 889.4,426.9 889.1,426.4 888.8,425.1 888.5,425.9 888.2,426.1 887.9,424.9 887.6,425.9 887.3,429.2 887,424.3 886.7,423.3 886.4,425.9 886.1,424.4 885.8,423.3 885.5,424.6 885.2,421.2 884.9,421.3 884.6,421.8 884.3,420.7 884,418.6 883.7,420.7 883.4,418.8 883.1,420.5 882.8,422.1 882.5,426.2 882.2,424.9 881.9,425.6 881.6,424.8 881.3,427.1 881,428.3 880.7,424 880.4,427.3 880.1,425.7 879.8,427 879.5,430.5 879.2,427.2 878.9,428.6 878.6,428.9 878.3,426.4 878,430 877.7,429.7 877.4,429 877.1,427.6 876.8,431 876.5,429.8 876.2,435.2 875.9,433.4 875.6,434.6 875.3,436.9 875,435.4 874.7,437.2 874.4,440.6 874.1,440.2 873.8,439.9 873.5,441.1 873.2,442.3 872.9,444.1 872.6,441.3 872.3,440.6 872,440.8 871.7,436.5 871.4,437.9 871.1,435.9 870.8,435.9 870.5,436.4 870.2,431.7 869.9,433.7 869.6,435.1 869.3,430.5 869,433.2 868.7,431.1 868.4,431.6 868.1,427.9 867.8,429.4 867.5,430.3 867.2,425.9 866.9,428.5 866.6,427.9 866.3,428.3 866,427.7 865.7,427.3 865.4,427.5 865.1,429.8 864.8,428.1 864.5,426.3 864.2,427.1 863.9,429.6 863.6,427.5 863.3,428.6 863,427.6 862.7,427.9 862.4,427.7 862.1,426.5 861.8,428.9 861.5,427.6 861.2,427.8 860.9,426.9 860.6,426.6 860.3,428.9 860,425.2 859.7,427.5 859.4,428.1 859.1,429.3 858.8,426.9 858.5,430.2 858.2,427.6 857.9,427.4 857.6,426.7 857.3,429.1 857,424 856.7,424.6 856.4,423.8 856.1,424.4 855.8,425.9 855.5,426.1 855.2,424.9 854.9,422.7 854.6,421.9 854.3,422.1 854,417.4 853.7,418.7 853.4,416.2 853.1,419.7 852.8,416.7 852.5,413.6 852.2,414.6 851.9,415.6 851.6,418.1 851.3,421.4 851,417.9 850.7,419.5 850.4,421 850.1,421.2 849.8,421.2 849.5,421.8 849.2,423.4 848.9,421.7 848.6,423.4 848.3,421.4 848,422.7 847.7,419.8 847.4,422.1 847.1,421.5 846.8,418.2 846.5,417.2 846.2,416.7 845.9,418.1 845.6,416.2 845.3,416.2 845,414.5 844.7,413.6 844.4,412.8 844.1,406.7 843.8,403.6 843.5,402.6 843.2,396.4 842.9,395.1 842.6,395.7 842.3,391.7 842,389.5 841.7,387.1 841.4,385.1 841.1,383.2 840.8,383 840.5,382.3 840.2,380.6 839.9,381.7 839.6,380.6 839.3,379.6 839,381.8 838.7,382.8 838.4,384 838.1,383.5 837.8,384.6 837.5,385.9 837.2,386.6 836.9,388.5 836.6,387.9 836.3,390.2 836,386.2 835.7,387 835.4,385.3 835.1,386.4 834.8,382.3 834.5,385.2 834.2,379.3 833.9,380.9 833.6,379.5 833.3,375.7 833,377.5 832.7,374.1 832.4,375.2 832.1,373.4 831.8,373.3 831.5,373.4 831.2,371.3 830.9,370.4 830.6,373.9 830.3,367.9 830,368.7 829.7,370.9 829.4,372.3 829.1,370.1 828.8,373.3 828.5,373.6 828.2,373.9 827.9,376.3 827.6,378.1 827.3,377.7 827,378 826.7,378.4 826.4,376.9 826.1,379.2 825.8,379.4 825.5,377.7 825.2,379.1 824.9,381.9 824.6,381.4 824.3,383.3 824,382.6 823.7,379.3 823.4,380.8 823.1,378.4 822.8,381 822.5,382.1 822.2,380 821.9,381 821.6,379.4 821.3,379.7 821,378.1 820.7,379.2 820.4,379.3 820.1,379 819.8,377.3 819.5,377.7 819.2,376.7 818.9,379.4 818.6,377.8 818.3,378.5 818,377.6 817.7,375.7 817.4,376.5 817.1,374.1 816.8,377.2 816.5,376.6 816.2,375.9 815.9,376 815.6,377.9 815.3,377.1 815,376.1 814.7,377.7 814.4,377.6 814.1,379.9 813.8,378.9 813.5,376.4 813.2,379.7 812.9,376.4 812.6,381 812.3,379.8 812,377 811.7,380.8 811.4,378 811.1,377.7 810.8,374.6 810.5,374.8 810.2,374.8 809.9,374.4 809.6,374.2 809.3,378.2 809,372.2 808.7,370.7 808.4,372.6 808.1,371.6 807.8,375.2 807.5,375.4 807.2,374.5 806.9,374.2 806.6,376.5 806.3,378 806,378.1 805.7,378.1 805.4,378.5 805.1,380.7 804.8,382.6 804.5,383.8 804.2,382.7 803.9,381.4 803.6,385.5 803.3,383.8 803,385.9 802.7,385.2 802.4,385.3 802.1,385.5 801.8,386.7 801.5,388.9 801.2,389.3 800.9,389 800.6,389.3 800.3,390 800,394.3 799.7,390.8 799.4,391.2 799.1,396.6 798.8,396 798.5,395.4 798.2,399 797.9,393.4 797.6,397.7 797.3,394.6 797,394.5 796.7,397 796.4,394.9 796.1,392.8 795.8,392.8 795.5,393.3 795.2,393.6 794.9,391 794.6,391.7 794.3,390.6 794,387.3 793.7,388.6 793.4,388.8 793.1,384.5 792.8,382.7 792.5,380.1 792.2,380.8 791.9,383.1 791.6,383.6 791.3,384.8 791,379.5 790.7,381.7 790.4,380.5 790.1,381 789.8,379.7 789.5,379.1 789.2,379.9 788.9,378.2 788.6,379.5 788.3,380.6 788,378.8 787.7,378.8 787.4,375.9 787.1,380 786.8,378.9 786.5,377.2 786.2,377.3 785.9,375.6 785.6,379 785.3,378.4 785,379.3 784.7,375.6 784.4,376.9 784.1,377.5 783.8,374.4 783.5,376.4 783.2,375.1 782.9,375.3 782.6,375.6 782.3,373.3 782,376.9 781.7,374.9 781.4,373 781.1,372.7 780.8,372.1 780.5,374 780.2,371 779.9,370.2 779.6,369.9 779.3,370.2 779,369.8 778.7,369 778.4,369.5 778.1,367.5 777.8,367.3 777.5,369.2 777.2,365.5 776.9,367.3 776.6,365.8 776.3,367 776,367.3 775.7,368.5 775.4,368 775.1,368.4 774.8,367.6 774.5,369.7 774.2,368.2 773.9,367.1 773.6,369.4 773.3,370.5 773,368.5 772.7,368.1 772.4,368.6 772.1,368.3 771.8,367.2 771.5,368.9 771.2,367.7 770.9,367.1 770.6,369.3 770.3,364.2 770,363.5 769.7,360.1 769.4,359.2 769.1,358.5 768.8,355.8 768.5,353.8 768.2,349.5 767.9,349.8 767.6,350.3 767.3,348.4 767,343.8 766.7,344.5 766.4,339.9 766.1,341.5 765.8,340.1 765.5,338.2 765.2,340.4 764.9,337.4 764.6,338.4 764.3,336.2 764,338.8 763.7,341 763.4,338.9 763.1,342.6 762.8,341.7 762.5,342.1 762.2,342.9 761.9,341.1 761.6,341.3 761.3,339.1 761,338.6 760.7,335.6 760.4,336 760.1,331.4 759.8,332.9 759.5,327.6 759.2,328.6 758.9,325.8 758.6,326.1 758.3,322.6 758,322.4 757.7,321.2 757.4,321.1 757.1,319.6 756.8,317.5 756.5,317.9 756.2,315 755.9,318.3 755.6,317.6 755.3,317.9 755,319.1 754.7,317.8 754.4,321.1 754.1,319.9 753.8,323.7 753.5,321.8 753.2,324.4 752.9,323.8 752.6,322.9 752.3,323.5 752,321.4 751.7,321.7 751.4,323.8 751.1,321.7 750.8,323.4 750.5,322.9 750.2,323.3 749.9,319.8 749.6,320.5 749.3,321.3 749,319.5 748.7,318.5 748.4,317.2 748.1,318.6 747.8,316.9 747.5,315.3 747.2,312.1 746.9,311.4 746.6,313.1 746.3,313.8 746,312.7 745.7,313 745.4,311.3 745.1,308.6 744.8,309.8 744.5,307.6 744.2,310.7 743.9,311.5 743.6,310 743.3,307.5 743,307.6 742.7,307.8 742.4,309.4 742.1,308.8 741.8,313.1 741.5,312.4 741.2,313 740.9,313.4 740.6,314.9 740.3,315.5 740,316.3 739.7,315.4 739.4,314.1 739.1,316.2 738.8,312.2 738.5,317 738.2,313.6 737.9,312.4 737.6,310.3 737.3,310.6 737,309.5 736.7,311.1 736.4,311.3 736.1,306.8 735.8,308.6 735.5,305.2 735.2,308.1 734.9,304.6 734.6,305.6 734.3,304.3 734,304.1 733.7,304.5 733.4,304.1 733.1,305.7 732.8,305.7 732.5,305.6 732.2,307.4 731.9,309.2 731.6,309.9 731.3,310.1 731,309.1 730.7,310.4 730.4,311 730.1,312.3 729.8,314.1 729.5,314.4 729.2,317.8 728.9,318.7 728.6,319.3 728.3,317.6 728,319.3 727.7,319.7 727.4,323.7 727.1,324 726.8,322.4 726.5,324.9 726.2,324.8 725.9,322 725.6,325 725.3,328.7 725,327.5 724.7,328.4 724.4,327.6 724.1,327.9 723.8,331 723.5,329.6 723.2,330.7 722.9,331.6 722.6,332.2 722.3,329.4 722,329.5 721.7,327.6 721.4,323.4 721.1,326.4 720.8,323.6 720.5,323.4 720.2,324.6 719.9,322.1 719.6,321.8 719.3,321 719,321.1 718.7,318.3 718.4,319.1 718.1,315.6 717.8,316.8 717.5,316.9 717.2,315.8 716.9,315.5 716.6,315.2 716.3,316.1 716,314.5 715.7,315.8 715.4,318.6 715.1,315 714.8,318.1 714.5,318.6 714.2,317.5 713.9,316.5 713.6,317.7 713.3,318.3 713,320.2 712.7,317.8 712.4,318.9 712.1,317.5 711.8,321.2 711.5,318.1 711.2,317.3 710.9,319.5 710.6,320.2 710.3,318.7 710,319.2 709.7,318.4 709.4,321 709.1,320.7 708.8,320.1 708.5,321.3 708.2,322.3 707.9,322.6 707.6,319.1 707.3,320.8 707,321.6 706.7,321.3 706.4,320.3 706.1,322.6 705.8,323.6 705.5,319.6 705.2,319.1 704.9,320.4 704.6,316.9 704.3,317.8 704,318.2 703.7,317.2 703.4,316.2 703.1,314.7 702.8,316.7 702.5,313.6 702.2,313.9 701.9,316.3 701.6,315.5 701.3,315.2 701,313.1 700.7,316.7 700.4,317.9 700.1,316.9 699.8,318.4 699.5,318.6 699.2,319.9 698.9,318.7 698.6,320.1 698.3,324.1 698,323 697.7,322.3 697.4,324 697.1,322.9 696.8,324.2 696.5,322.8 696.2,325.2 695.9,324 695.6,324.9 695.3,326.3 695,323.6 694.7,321 694.4,320.5 694.1,319.9 693.8,318.6 693.5,316.8 693.2,313.8 692.9,314.1 692.6,313.8 692.3,310.2 692,308.7 691.7,309.3 691.4,307.5 691.1,306.7 690.8,305.1 690.5,302.3 690.2,299 689.9,299 689.6,297.7 689.3,298.5 689,298.3 688.7,296.2 688.4,298.4 688.1,300.3 687.8,303 687.5,300.2 687.2,302.3 686.9,302.5 686.6,302.2 686.3,307.2 686,306.8 685.7,306.2 685.4,309.5 685.1,308 684.8,307 684.5,305.4 684.2,308.3 683.9,308.4 683.6,303.8 683.3,303.9 683,304 682.7,304.3 682.4,304.2 682.1,303 681.8,302.2 681.5,301.7 681.2,297.9 680.9,297.2 680.6,297.1 680.3,298.9 680,299 679.7,298.8 679.4,298.5 679.1,299.2 678.8,299.8 678.5,298.7 678.2,299.8 677.9,299.5 677.6,304.6 677.3,300.8 677,305.7 676.7,304.2 676.4,307.4 676.1,307.8 675.8,308.4 675.5,310.6 675.2,308.9 674.9,310.6 674.6,313.4 674.3,314.1 674,311.3 673.7,309.7 673.4,313.5 673.1,311 672.8,313.8 672.5,313.1 672.2,314.2 671.9,316.4 671.6,311.4 671.3,315 671,316.6 670.7,313.5 670.4,315.6 670.1,314.2 669.8,314.1 669.5,313.6 669.2,315.4 668.9,315.7 668.6,316 668.3,312.1 668,315.1 667.7,315 667.4,313.2 667.1,316.3 666.8,316.4 666.5,312 666.2,315.4 665.9,318.5 665.6,317.7 665.3,316.1 665,317.3 664.7,316.3 664.4,320.9 664.1,318.9 663.8,319 663.5,320.5 663.2,320.5 662.9,322.1 662.6,320.8 662.3,321.7 662,320.4 661.7,321.3 661.4,320.5 661.1,318.1 660.8,316.1 660.5,314.7 660.2,314.2 659.9,314.8 659.6,313.9 659.3,312.3 659,311.8 658.7,311.3 658.4,309.8 658.1,310.9 657.8,311 657.5,309.2 657.2,312.7 656.9,308.8 656.6,310.8 656.3,311 656,312.9 655.7,313 655.4,315.7 655.1,315 654.8,320.4 654.5,315.2 654.2,320.6 653.9,319.1 653.6,316.2 653.3,319.9 653,324.1 652.7,321.3 652.4,322.6 652.1,323 651.8,326.2 651.5,326.8 651.2,327.6 650.9,329.8 650.6,333.1 650.3,330.8 650,332.9 649.7,331.3 649.4,335.6 649.1,335.3 648.8,338.1 648.5,339.1 648.2,339.7 647.9,341.7 647.6,338.7 647.3,340.1 647,341.9 646.7,343.1 646.4,342 646.1,341.8 645.8,340.2 645.5,339.1 645.2,339.6 644.9,338 644.6,336 644.3,334.9 644,336.5 643.7,335.6 643.4,332.9 643.1,333.3 642.8,330 642.5,332.7 642.2,332.9 641.9,331.6 641.6,333.8 641.3,333.8 641,335.4 640.7,331.4 640.4,332.9 640.1,335.3 639.8,330.5 639.5,329.2 639.2,334.5 638.9,332 638.6,334.6 638.3,333.2 638,335.1 637.7,334.3 637.4,337 637.1,335.6 636.8,335 636.5,333.4 636.2,339.8 635.9,338.6 635.6,336.6 635.3,339.3 635,336.1 634.7,337.6 634.4,336.3 634.1,337.3 633.8,335.7 633.5,334.8 633.2,335.2 632.9,333.4 632.6,335.6 632.3,332.2 632,333.4 631.7,331.3 631.4,333.1 631.1,332.2 630.8,333.4 630.5,331.4 630.2,330.3 629.9,327.2 629.6,327.4 629.3,323.5 629,326 628.7,326 628.4,326 628.1,325.7 627.8,323.6 627.5,323.4 627.2,323.2 626.9,327.1 626.6,328 626.3,327.4 626,332.4 625.7,330.2 625.4,332.4 625.1,333.7 624.8,332 624.5,337 624.2,335.9 623.9,336.9 623.6,338 623.3,336.4 623,339.9 622.7,341.3 622.4,342.8 622.1,340 621.8,339.4 621.5,340.6 621.2,337.3 620.9,339 620.6,334.7 620.3,333.3 620,333.8 619.7,332.2 619.4,328.8 619.1,324.9 618.8,326.1 618.5,321 618.2,321.2 617.9,316.8 617.6,314.2 617.3,311.5 617,311.6 616.7,308.8 616.4,309.6 616.1,307.5 615.8,305.7 615.5,306.1 615.2,304.5 614.9,305.1 614.6,303.5 614.3,303.8 614,303.1 613.7,303.6 613.4,302.3 613.1,305.9 612.8,308.9 612.5,308.5 612.2,306.7 611.9,310.7 611.6,311.1 611.3,313.1 611,310.9 610.7,312.5 610.4,312.4 610.1,310.5 609.8,309.6 609.5,309.2 609.2,307.2 608.9,303.6 608.6,303 608.3,299.7 608,299.2 607.7,297.2 607.4,298.3 607.1,296 606.8,293 606.5,296.1 606.2,292.8 605.9,291.6 605.6,292.7 605.3,291.2 605,290.8 604.7,291.6 604.4,289.7 604.1,293.2 603.8,294.1 603.5,292.1 603.2,291.2 602.9,296 602.6,292.7 602.3,292.8 602,293.9 601.7,296.1 601.4,293.3 601.1,297.4 600.8,299.3 600.5,298.3 600.2,301.4 599.9,299.3 599.6,299 599.3,299 599,300.5 598.7,302.1 598.4,300.5 598.1,300.8 597.8,301 597.5,300.2 597.2,301.4 596.9,300.4 596.6,299.4 596.3,301.7 596,303 595.7,301.6 595.4,301.5 595.1,301.2 594.8,301.1 594.5,302.3 594.2,300.9 593.9,298.7 593.6,297.3 593.3,301.8 593,300.2 592.7,297.6 592.4,298.3 592.1,295.8 591.8,296.5 591.5,296.7 591.2,297.9 590.9,296.1 590.6,296.2 590.3,294.6 590,297 589.7,294.2 589.4,296.6 589.1,296.6 588.8,298.2 588.5,297.4 588.2,296.6 587.9,298.3 587.6,296.9 587.3,297.5 587,296.7 586.7,296.9 586.4,295.7 586.1,294.9 585.8,293.3 585.5,293.4 585.2,290.4 584.9,291.5 584.6,289.5 584.3,288.4 584,288.2 583.7,286.8 583.4,287.6 583.1,287.4 582.8,287 582.5,288.7 582.2,290.2 581.9,287.5 581.6,287.3 581.3,290.3 581,291.7 580.7,289.4 580.4,292.6 580.1,289.9 579.8,292.4 579.5,293 579.2,294.5 578.9,291 578.6,293.8 578.3,293.2 578,293.5 577.7,292.6 577.4,293 577.1,294.7 576.8,294.5 576.5,294.6 576.2,297.3 575.9,300.2 575.6,299.7 575.3,297.3 575,301.1 574.7,300.4 574.4,299.1 574.1,301.2 573.8,301.1 573.5,303.3 573.2,306.6 572.9,304.2 572.6,306.2 572.3,307.3 572,307.3 571.7,308.5 571.4,308.6 571.1,307 570.8,304.1 570.5,303.6 570.2,306.6 569.9,305.7 569.6,301.1 569.3,300.9 569,300.5 568.7,302.9 568.4,300.8 568.1,299.1 567.8,298.3 567.5,297.3 567.2,296.4 566.9,295.6 566.6,299.6 566.3,297.9 566,295.3 565.7,295.6 565.4,293.4 565.1,295.2 564.8,295.2 564.5,294.1 564.2,294 563.9,296.2 563.6,293.4 563.3,293.7 563,290.7 562.7,293.1 562.4,294.5 562.1,292.3 561.8,293.1 561.5,293.8 561.2,291.3 560.9,292.3 560.6,294.6 560.3,293.7 560,293.1 559.7,295.7 559.4,295.3 559.1,292.7 558.8,293.9 558.5,292.8 558.2,295.7 557.9,294.3 557.6,294.5 557.3,293.6 557,294 556.7,295.3 556.4,295.7 556.1,291.2 555.8,291.3 555.5,291.9 555.2,291.3 554.9,288.8 554.6,288.1 554.3,288.2 554,285.7 553.7,288.2 553.4,283.2 553.1,287.1 552.8,282.3 552.5,282.7 552.2,281.2 551.9,282.3 551.6,282.5 551.3,280 551,280.3 550.7,282.9 550.4,282.4 550.1,283.6 549.8,283.3 549.5,284.9 549.2,285.1 548.9,286.6 548.6,287 548.3,287.7 548,290.3 547.7,288.3 547.4,290.1 547.1,288.4 546.8,288 546.5,291 546.2,289.8 545.9,289.2 545.6,286.5 545.3,282.7 545,287 544.7,282.2 544.4,280.9 544.1,280.2 543.8,276.4 543.5,276.9 543.2,276 542.9,275 542.6,273.9 542.3,271.6 542,269.7 541.7,267.8 541.4,267.7 541.1,262.3 540.8,263 540.5,260.6 540.2,259.9 539.9,258.7 539.6,259.3 539.3,257.9 539,259.1 538.7,259.1 538.4,259.6 538.1,259.3 537.8,259.9 537.5,262.6 537.2,264 536.9,262.8 536.6,262.6 536.3,264.1 536,263.7 535.7,265 535.4,265.3 535.1,262.8 534.8,264.7 534.5,261.9 534.2,265.2 533.9,259.9 533.6,258.9 533.3,263 533,260.7 532.7,257.9 532.4,257.9 532.1,257.2 531.8,257.2 531.5,258.1 531.2,256.8 530.9,254.9 530.6,252.4 530.3,253.1 530,252 529.7,255.3 529.4,254.2 529.1,254.7 528.8,257.2 528.5,255.7 528.2,257.2 527.9,256.5 527.6,257.4 527.3,261 527,260.9 526.7,260.1 526.4,263.4 526.1,261.9 525.8,267.8 525.5,270.2 525.2,270.1 524.9,271.5 524.6,271.9 524.3,272.2 524,273.8 523.7,276.4 523.4,275.4 523.1,279.1 522.8,278 522.5,281.4 522.2,279.8 521.9,284.7 521.6,283 521.3,285.2 521,283.4 520.7,286.6 520.4,286.9 520.1,287.9 519.8,290.4 519.5,291.8 519.2,289.7 518.9,289.7 518.6,292.7 518.3,291 518,293.8 517.7,296.5 517.4,296.2 517.1,296.4 516.8,296.9 516.5,296 516.2,297.3 515.9,298.9 515.6,299.8 515.3,299.8 515,299.9 514.7,301.8 514.4,302 514.1,304.7 513.8,302.4 513.5,304.6 513.2,303.5 512.9,304.9 512.6,304.9 512.3,306.1 512,306.7 511.7,306.5 511.4,306.7 511.1,307.2 510.8,307.4 510.5,308.8 510.2,308.8 509.9,308.2 509.6,307.5 509.3,308.1 509,311.7 508.7,312.3 508.4,310.6 508.1,314.3 507.8,314.4 507.5,317 507.2,317.5 506.9,316.8 506.6,320.6 506.3,323.4 506,325.6 505.7,327.4 505.4,325.3 505.1,329.2 504.8,333.5 504.5,331.9 504.2,336 503.9,338.1 503.6,338.6 503.3,341.2 503,345.5 502.7,342.3 502.4,347.1 502.1,346.2 501.8,351.6 501.5,353.4 501.2,354.4 500.9,353.9 500.6,356.5 500.3,360.7 500,358.6 499.7,358.1 499.4,363.1 499.1,360.5 498.8,363.4 498.5,363.1 498.2,366.3 497.9,364.9 497.6,367.2 497.3,366.2 497,370 496.7,370.9 496.4,372.6 496.1,370.9 495.8,369.5 495.5,371.5 495.2,370.6 494.9,372.9 494.6,371 494.3,371.8 494,370.5 493.7,366.4 493.4,370.4 493.1,373.3 492.8,370.1 492.5,372.7 492.2,376.3 491.9,373.7 491.6,374.7 491.3,377.4 491,376.7 490.7,379.1 490.4,379.3 490.1,381.1 489.8,382.4 489.5,381.1 489.2,385 488.9,384.1 488.6,384.3 488.3,387.1 488,387.3 487.7,389.2 487.4,387 487.1,388.8 486.8,389.1 486.5,388.5 486.2,390.8 485.9,392.5 485.6,391.6 485.3,392.6 485,392.2 484.7,394 484.4,393.7 484.1,394.7 483.8,395.3 483.5,394.1 483.2,397 482.9,395.3 482.6,397 482.3,394.5 482,398.2 481.7,394.9 481.4,395.2 481.1,396.7 480.8,396.5 480.5,395.8 480.2,396.9 479.9,396.1 479.6,395.1 479.3,392.7 479,395 478.7,394.7 478.4,396.3 478.1,394.5 477.8,393.5 477.5,398.1 477.2,393.4 476.9,397.3 476.6,397.6 476.3,399.3 476,396.9 475.7,400.5 475.4,399.4 475.1,400.4 474.8,401.2 474.5,401.7 474.2,401.1 473.9,402.5 473.6,403.4 473.3,402.7 473,405.6 472.7,408.6 472.4,406.8 472.1,407.3 471.8,408.7 471.5,411.4 471.2,408.4 470.9,409.6 470.6,409.9 470.3,408 470,408.7 469.7,407.8 469.4,404.6 469.1,403.3 468.8,404.4 468.5,402.3 468.2,398.7 467.9,396.8 467.6,397.4 467.3,394.6 467,392.4 466.7,394 466.4,392.1 466.1,391.4 465.8,390.7 465.5,389.3 465.2,389.9 464.9,386.4 464.6,384.7 464.3,386.7 464,385.1 463.7,387.9 463.4,389.8 463.1,388.1 462.8,394 462.5,393.9 462.2,393.1 461.9,393.3 461.6,396.5 461.3,398.7 461,396.5 460.7,398.1 460.4,399.8 460.1,396.9 459.8,395.4 459.5,400.3 459.2,397 458.9,396.3 458.6,396.8 458.3,392.4 458,393.5 457.7,392.3 457.4,387.4 457.1,387.4 456.8,386.5 456.5,383.8 456.2,382.7 455.9,380.3 455.6,377.3 455.3,375.4 455,374.6 454.7,373.2 454.4,374.1 454.1,373.2 453.8,370 453.5,373.9 453.2,372.1 452.9,369.4 452.6,370.2 452.3,370 452,371.7 451.7,370.5 451.4,368.9 451.1,370.4 450.8,370.1 450.5,369.1 450.2,369.2 449.9,366.8 449.6,366.9 449.3,368.9 449,367.9 448.7,365.7 448.4,367.9 448.1,365.8 447.8,365.3 447.5,365.2 447.2,363.6 446.9,363 446.6,358.9 446.3,360.4 446,358.5 445.7,359.3 445.4,356.9 445.1,354.9 444.8,353.5 444.5,349.8 444.2,350.3 443.9,349.7 443.6,349.4 443.3,348.7 443,346 442.7,344.2 442.4,344.5 442.1,343.1 441.8,343.8 441.5,342.4 441.2,339.3 440.9,339.3 440.6,340.5 440.3,338.3 440,337.3 439.7,337.6 439.4,337.3 439.1,336.2 438.8,336.2 438.5,334.1 438.2,336.2 437.9,334.9 437.6,334.6 437.3,332.9 437,331.5 436.7,330.6 436.4,328 436.1,326.6 435.8,326.9 435.5,322.3 435.2,320 434.9,318.8 434.6,318.7 434.3,318.2 434,313.1 433.7,314 433.4,312.5 433.1,312.5 432.8,309.4 432.5,312 432.2,310 431.9,310.7 431.6,308.4 431.3,308.7 431,311.1 430.7,308.9 430.4,312.4 430.1,311.7 429.8,312.8 429.5,315.4 429.2,313.5 428.9,313.6 428.6,311.9 428.3,314 428,312.8 427.7,315.1 427.4,313.7 427.1,312.6 426.8,313.7 426.5,313.5 426.2,310.8 425.9,312.9 425.6,313 425.3,313 425,310.9 424.7,313.3 424.4,310 424.1,313.7 423.8,309.7 423.5,310.3 423.2,311.7 422.9,309.9 422.6,310.1 422.3,310.9 422,308 421.7,309 421.4,308.6 421.1,305.4 420.8,303.6 420.5,302.7 420.2,302.3 419.9,302.2 419.6,299.7 419.3,301 419,297.6 418.7,294.6 418.4,295.3 418.1,294.2 417.8,290 417.5,291.5 417.2,289.6 416.9,288.4 416.6,287.6 416.3,284.2 416,285.8 415.7,283.8 415.4,282.7 415.1,280.2 414.8,278.6 414.5,277.1 414.2,278.8 413.9,275.1 413.6,273.5 413.3,272.5 413,270.8 412.7,269.5 412.4,267.1 412.1,267.5 411.8,263.9 411.5,263.3 411.2,259.4 410.9,258 410.6,259.7 410.3,253.3 410,252.8 409.7,251.3 409.4,248.9 409.1,248.1 408.8,248.2 408.5,244.4 408.2,245.8 407.9,243.8 407.6,239.6 407.3,242.7 407,241.4 406.7,237.9 406.4,236.9 406.1,241.1 405.8,235.3 405.5,235.7 405.2,232.8 404.9,234.3 404.6,232.4 404.3,233.9 404,229.8 403.7,229.6 403.4,229.8 403.1,229 402.8,228.7 402.5,228 402.2,227.9 401.9,226.9 401.6,225 401.3,226.3 401,226.6 400.7,225 400.4,224.6 400.1,225.4 399.8,225.4 399.5,223.6 399.2,225.6 398.9,223 398.6,224.3 398.3,226.2 398,226 397.7,224 397.4,227.5 397.1,225.3 396.8,227.1 396.5,226.2 396.2,226.1 395.9,226 395.6,225.6 395.3,223.8 395,224.4 394.7,222.2 394.4,222.2 394.1,221.8 393.8,219.8 393.5,216.4 393.2,216.6 392.9,213.1 392.6,208.5 392.3,205.5 392,201.7 391.7,200.7 391.4,198 391.1,196.7 390.8,192.6 390.5,191.4 390.2,188.6 389.9,185.6 389.6,178.8 389.3,178.8 389,176.4 388.7,178.3 388.4,177.8 388.1,177.5 387.8,177.1 387.5,177.5 387.2,177.9 386.9,179.6 386.6,179.1 386.3,179.5 386,181.1 385.7,184.2 385.4,182.3 385.1,182.6 384.8,182.4 384.5,182.4 384.2,181.8 383.9,179.6 383.6,179.2 383.3,177.3 383,176.3 382.7,175.8 382.4,173.3 382.1,171.9 381.8,169.7 381.5,169 381.2,164.4 380.9,165.1 380.6,160.7 380.3,159.7 380,160.6 379.7,159 379.4,157.3 379.1,155.2 378.8,155.4 378.5,157.5 378.2,160.9 377.9,159.8 377.6,161.4 377.3,165.4 377,161.8 376.7,168.1 376.4,169.9 376.1,170.2 375.8,171.4 375.5,172.5 375.2,172.2 374.9,175.7 374.6,179.2 374.3,179.1 374,176.7 373.7,179.1 373.4,178.1 373.1,182.3 372.8,182 372.5,185.2 372.2,184.7 371.9,185.4 371.6,185.7 371.3,186 371,186.8 370.7,187.4 370.4,185.4 370.1,183.2 369.8,189.4 369.5,189.2 369.2,186.1 368.9,188.2 368.6,186.7 368.3,187.1 368,188.5 367.7,188.2 367.4,189.2 367.1,189.8 366.8,191.4 366.5,187.9 366.2,193.6 365.9,191 365.6,192 365.3,193.3 365,194 364.7,194.9 364.4,193.8 364.1,194.9 363.8,195.4 363.5,196.9 363.2,198.2 362.9,199.6 362.6,198.8 362.3,201.6 362,202.7 361.7,200 361.4,202.4 361.1,202.3 360.8,202.7 360.5,203 360.2,200 359.9,198.5 359.6,198.3 359.3,198.6 359,197.7 358.7,196.8 358.4,200.3 358.1,199.4 357.8,198.6 357.5,202.9 357.2,198.8 356.9,200.2 356.6,200.4 356.3,202.6 356,204.2 355.7,206.2 355.4,206.7 355.1,209.4 354.8,210.2 354.5,213.7 354.2,215.1 353.9,217.3 353.6,219.9 353.3,223 353,222.9 352.7,225.3 352.4,229.3 352.1,229.7 351.8,231.7 351.5,234.7 351.2,234.6 350.9,239.5 350.6,239.9 350.3,240.8 350,242.6 349.7,246.7 349.4,247.5 349.1,248.1 348.8,250 348.5,248.5 348.2,251.7 347.9,253.5 347.6,257.8 347.3,258.6 347,260.8 346.7,258.8 346.4,260.9 346.1,260.9 345.8,260 345.5,263.3 345.2,260.2 344.9,258.7 344.6,259.3 344.3,261.3 344,258.9 343.7,260.1 343.4,257.6 343.1,257.5 342.8,260.2 342.5,259.3 342.2,258.6 341.9,261.5 341.6,263.8 341.3,263.6 341,262.7 340.7,266.2 340.4,265.5 340.1,268 339.8,265.3 339.5,269.1 339.2,268.3 338.9,269.2 338.6,268.6 338.3,270.6 338,272.4 337.7,274 337.4,275.9 337.1,272.4 336.8,276 336.5,277.3 336.2,279.5 335.9,278.8 335.6,278.3 335.3,281 335,280.9 334.7,279.2 334.4,279.7 334.1,281.9 333.8,281 333.5,280.3 333.2,279.1 332.9,277.3 332.6,277.9 332.3,279 332,280 331.7,278.2 331.4,278.5 331.1,278.4 330.8,276.7 330.5,275.9 330.2,276.5 329.9,275.9 329.6,275.9 329.3,275.7 329,276.9 328.7,279.6 328.4,275.4 328.1,276 327.8,275.3 327.5,276.9 327.2,277.1 326.9,278.3 326.6,275.6 326.3,280.9 326,282.8 325.7,284.2 325.4,283.9 325.1,283.4 324.8,285 324.5,288 324.2,289.6 323.9,288.8 323.6,290.9 323.3,290.9 323,293.1 322.7,294 322.4,295.4 322.1,294.5 321.8,298.6 321.5,300.8 321.2,299.6 320.9,298.6 320.6,299.7 320.3,302.7 320,298.9 319.7,299.2 319.4,299.5 319.1,301.3 318.8,299.9 318.5,296.7 318.2,295 317.9,295.1 317.6,293 317.3,290.2 317,288.6 316.7,288.9 316.4,287.8 316.1,286.5 315.8,282.4 315.5,286.6 315.2,282 314.9,282.4 314.6,280.5 314.3,281.5 314,279.3 313.7,278.4 313.4,279.8 313.1,281.6 312.8,282.4 312.5,287.6 312.2,285.2 311.9,284.5 311.6,285.9 311.3,288.3 311,287 310.7,291 310.4,291.2 310.1,291.5 309.8,294.1 309.5,290 309.2,294.4 308.9,291.4 308.6,287.6 308.3,291.3 308,290.6 307.7,288 307.4,291.5 307.1,284.9 306.8,287 306.5,285 306.2,284.3 305.9,282.5 305.6,283.1 305.3,282.1 305,283.5 304.7,283 304.4,284 304.1,283.4 303.8,285.4 303.5,284.6 303.2,287.3 302.9,288.2 302.6,289.4 302.3,290.4 302,293.3 301.7,294.1 301.4,295.1 301.1,294.4 300.8,294.1 300.5,297.2 300.2,296.2 299.9,300.8 299.6,298.5 299.3,302.6 299,301.4 298.7,303.2 298.4,303.6 298.1,305.7 297.8,308.2 297.5,307.4 297.2,307.8 296.9,310.9 296.6,310 296.3,308.2 296,312.9 295.7,313.6 295.4,312.1 295.1,313.5 294.8,314.7 294.5,310.5 294.2,311.7 293.9,315.1 293.6,314.2 293.3,313.5 293,314.6 292.7,314.1 292.4,317.3 292.1,314.5 291.8,313.7 291.5,312.9 291.2,315.4 290.9,315.8 290.6,316.1 290.3,314.6 290,316.8 289.7,317.5 289.4,314.8 289.1,316.8 288.8,317.9 288.5,318.7 288.2,318.9 287.9,319.5 287.6,319.8 287.3,319.5 287,319.6 286.7,321.8 286.4,321.7 286.1,322.1 285.8,322.5 285.5,321.3 285.2,321.2 284.9,320.7 284.6,322.7 284.3,318.9 284,319.8 283.7,321.8 283.4,320.9 283.1,319.9 282.8,320.5 282.5,319.6 282.2,321.7 281.9,321.3 281.6,324 281.3,322.9 281,325.1 280.7,323.3 280.4,324.9 280.1,327.5 279.8,330 279.5,329.6 279.2,330.6 278.9,333.1 278.6,330.8 278.3,334.1 278,339.7 277.7,339.4 277.4,338.9 277.1,340.4 276.8,343 276.5,346 276.2,346.6 275.9,348 275.6,349.7 275.3,353.9 275,356.2 274.7,355.6 274.4,356 274.1,358.7 273.8,361.4 273.5,362.1 273.2,364.8 272.9,366.5 272.6,367 272.3,369.5 272,367.2 271.7,367.8 271.4,370.7 271.1,371.8 270.8,369 270.5,372.4 270.2,369.4 269.9,369.7 269.6,367.4 269.3,368 269,368.1 268.7,363.3 268.4,367 268.1,363.2 267.8,365.2 267.5,366 267.2,363.9 266.9,363.6 266.6,365.3 266.3,363.2 266,366.3 265.7,364.3 265.4,366.2 265.1,365.9 264.8,367.9 264.5,367.6 264.2,369.4 263.9,369.3 263.6,370.1 263.3,369.9 263,369 262.7,372.1 262.4,369.3 262.1,375.1 261.8,372.5 261.5,372.3 261.2,375.4 260.9,372.6 260.6,374.5 260.3,374.3 260,374.5 259.7,376.4 259.4,377.7 259.1,373.6 258.8,372.7 258.5,375 258.2,375.1 257.9,375.8 257.6,375 257.3,375.1 257,375 256.7,374.3 256.4,373.1 256.1,372.3 255.8,375.3 255.5,373.5 255.2,375.1 254.9,373.3 254.6,377.3 254.3,375.1 254,372.7 253.7,377.1 253.4,376.1 253.1,375 252.8,377.5 252.5,378.8 252.2,376.9 251.9,379.6 251.6,379 251.3,381.4 251,383.1 250.7,382.7 250.4,384.2 250.1,385.9 249.8,386.2 249.5,384.7 249.2,387 248.9,388.9 248.6,389.1 248.3,388.4 248,387.8 247.7,388.6 247.4,392.4 247.1,393.9 246.8,390.7 246.5,391.5 246.2,393.2 245.9,392.9 245.6,391.7 245.3,391.2 245,393.6 244.7,393.4 244.4,389.2 244.1,388 243.8,385.5 243.5,384.4 243.2,382.9 242.9,380.2 242.6,377.4 242.3,375.8 242,369.3 241.7,369.8 241.4,368 241.1,362.8 240.8,364.1 240.5,362.6 240.2,360.9 239.9,361.4 239.6,359.8 239.3,360.1 239,357.5 238.7,359.4 238.4,357.6 238.1,353.9 237.8,355.4 237.5,356.6 237.2,357.7 236.9,358.6 236.6,359 236.3,360.7 236,360.2 235.7,363.3 235.4,364.5 235.1,363.6 234.8,364.1 234.5,364.7 234.2,365.3 233.9,365.4 233.6,363.9 233.3,363.3 233,361.7 232.7,361 232.4,360.8 232.1,360.3 231.8,358.8 231.5,356.8 231.2,356.1 230.9,355.9 230.6,353.6 230.3,353.1 230,350.3 229.7,350.3 229.4,348.5 229.1,345.8 228.8,348.1 228.5,348 228.2,345.1 227.9,347.8 227.6,348.6 227.3,347.3 227,348.9 226.7,347.6 226.4,349.4 226.1,348.8 225.8,351.2 225.5,352.4 225.2,352.4 224.9,352.8 224.6,352.2 224.3,349.8 224,349.1 223.7,350.6 223.4,352.6 223.1,350.2 222.8,350.1 222.5,349.8 222.2,350.4 221.9,349.9 221.6,346.9 221.3,348.8 221,348.4 220.7,349.7 220.4,349.2 220.1,349.2 219.8,350.1 219.5,350.8 219.2,348.2 218.9,347.9 218.6,347.1 218.3,348.3 218,347.7 217.7,346.6 217.4,345 217.1,347.7 216.8,347.1 216.5,348 216.2,347.9 215.9,344.9 215.6,344.9 215.3,342.2 215,341.1 214.7,344.9 214.4,341.5 214.1,342.3 213.8,341.6 213.5,345.1 213.2,343.1 212.9,345.7 212.6,343.9 212.3,344.9 212,346.3 211.7,346.2 211.4,347.5 211.1,344.1 210.8,344.8 210.5,345.8 210.2,346.3 209.9,340.8 209.6,344.3 209.3,342.1 209,337.7 208.7,340.1 208.4,338.2 208.1,339.2 207.8,335.2 207.5,336.5 207.2,336 206.9,336.1 206.6,336.6 206.3,339.2 206,340.6 205.7,339.1 205.4,339.6 205.1,342.9 204.8,345 204.5,345.4 204.2,346.7 203.9,346.7 203.6,348.7 203.3,349.5 203,353.5 202.7,355.9 202.4,353.9 202.1,356.2 201.8,354.7 201.5,358 201.2,359.5 200.9,357.4 200.6,359.2 200.3,361.7 200,360.2 199.7,362.1 199.4,361.9 199.1,365.6 198.8,365.3 198.5,364.2 198.2,367.9 197.9,365.2 197.6,367 197.3,367.9 197,367.7 196.7,368.1 196.4,369.1 196.1,365.1 195.8,366.9 195.5,365.8 195.2,366.3 194.9,364.2 194.6,363.6 194.3,364.7 194,362.4 193.7,362.6 193.4,361.7 193.1,360.8 192.8,360.1 192.5,360.6 192.2,360.4 191.9,358.4 191.6,357.2 191.3,355.6 191,356.3 190.7,356 190.4,354.9 190.1,352.4 189.8,353.7 189.5,353.7 189.2,354.2 188.9,350.6 188.6,354.9 188.3,354.1 188,354 187.7,354.5 187.4,353.3 187.1,352.7 186.8,353.3 186.5,351.8 186.2,353.7 185.9,353.3 185.6,354.4 185.3,354.4 185,354.3 184.7,354.9 184.4,354.5 184.1,353.2 183.8,354.3 183.5,351.9 183.2,356.1 182.9,353 182.6,352.3 182.3,351.4 182,353.7 181.7,352 181.4,352.1 181.1,349.9 180.8,352.1 180.5,350 180.2,351.1 179.9,349.9 179.6,353.1 179.3,347.4 179,349.4 178.7,349.3 178.4,349.4 178.1,347 177.8,346.6 177.5,346.5 177.2,346.4 176.9,344.9 176.6,346.8 176.3,345.8 176,343.4 175.7,343.8 175.4,346.5 175.1,346.3 174.8,343 174.5,345.1 174.2,347.9 173.9,346.4 173.6,347.2 173.3,346 173,345.1 172.7,347 172.4,348.3 172.1,349.6 171.8,351.3 171.5,351.6 171.2,351.7 170.9,352.2 170.6,350 170.3,352.1 170,353.7 169.7,351.5 169.4,351.7 169.1,351.7 168.8,348.2 168.5,347 168.2,350 167.9,347.3 167.6,344 167.3,340.2 167,341 166.7,338.7 166.4,335.7 166.1,334.2 165.8,330.1 165.5,327.3 165.2,325.8 164.9,323.5 164.6,321.9 164.3,322.2 164,317.6 163.7,318 163.4,316.9 163.1,318.1 162.8,316.9 162.5,315.6 162.2,317 161.9,317.9 161.6,317.7 161.3,318.2 161,319.1 160.7,316.6 160.4,320.1 160.1,317.6 159.8,322.7 159.5,322.2 159.2,321.6 158.9,319.9 158.6,320.1 158.3,319.5 158,316.8 157.7,314.2 157.4,310.7 157.1,309.4 156.8,306.7 156.5,306.8 156.2,304.4 155.9,301.6 155.6,304.3 155.3,302.6 155,302.5 154.7,302.5 154.4,303 154.1,304.1 153.8,304.6 153.5,307.3 153.2,306.9 152.9,306.7 152.6,309.1 152.3,308.5 152,309.9 151.7,311.9 151.4,312.2 151.1,309.1 150.8,313.1 150.5,312.4 150.2,313.2 149.9,315 149.6,314.6 149.3,315.9 149,314.7 148.7,315.2 148.4,313.7 148.1,313.6 147.8,315.5 147.5,314.1 147.2,313.7 146.9,314.7 146.6,315 146.3,312.8 146,313.2 145.7,312.5 145.4,310.7 145.1,314.2 144.8,313.7 144.5,313 144.2,312.7 143.9,312.1 143.6,311 143.3,310.6 143,311.1 142.7,310.9 142.4,311.3 142.1,310.7 141.8,309.8 141.5,308 141.2,310.6 140.9,308.7 140.6,311.8 140.3,309.9 140,309.7 139.7,307.4 139.4,309.5 139.1,308.8 138.8,307.9 138.5,309.7 138.2,312.2 137.9,310.3 137.6,311.4 137.3,312.5 137,311.5 136.7,312.2 136.4,310.5 136.1,312.6 135.8,309.3 135.5,307.3 135.2,309.4 134.9,304.2 134.6,305.1 134.3,304.3 134,304 133.7,303.5 133.4,301.4 133.1,300.7 132.8,298.1 132.5,300.1 132.2,299.1 131.9,298.7 131.6,299.6 131.3,304.5 131,299.6 130.7,300.2 130.4,303.8 130.1,303.7 129.8,305.1 129.5,304.3 129.2,304.9 128.9,308.5 128.6,305.6 128.3,306 128,306.8 127.7,308.1 127.4,308.7 127.1,307.4 126.8,310.2 126.5,308.6 126.2,310.9 125.9,312.2 125.6,313.3 125.3,312.3 125,313.7 124.7,314.3 124.4,314.9 124.1,316.5 123.8,318.3 123.5,318.1 123.2,319.7 122.9,319.7 122.6,321.7 122.3,322.1 122,325.5 121.7,324.9 121.4,326.1 121.1,329.9 120.8,326.4 120.5,328.4" fill="#0072B2" fill-opacity="0.2" stroke="#0072B2" stroke-opacity="0.2" stroke-width="1.39"/>
<g stroke="#808080" stroke-opacity="0.2" stroke-width="1.39"><line x1="183.5" y1="15.5" x2="183.5" y2="542.5"/><line x1="334.5" y1="15.5" x2="334.5" y2="542.5"/><line x1="484.5" y1="15.5" x2="484.5" y2="542.5"/><line x1="635.5" y1="15.5" x2="635.5" y2="542.5"/><line x1="785.5" y1="15.5" x2="785.5" y2="542.5"/><line x1="936.5" y1="15.5" x2="936.5" y2="542.5"/><line x1="79.5" y1="433.5" x2="985.5" y2="433.5"/><line x1="79.5" y1="321.5" x2="985.5" y2="321.5"/><line x1="79.5" y1="209.5" x2="985.5" y2="209.5"/><line x1="79.5" y1="97.5" x2="985.5" y2="97.5"/></g>
<g fill="#000"><circle cx="121.7" cy="312.9" r="2.75"/><circle cx="121.7" cy="310.4" r="2.75"/><circle cx="121.7" cy="311.7" r="2.75"/><circle cx="121.7" cy="308.4" r="2.75"/><circle cx="121.7" cy="312.7" r="2.75"/><circle cx="121.7" cy="309.1" r="2.75"/><circle cx="121.7" cy="305.8" r="2.75"/><circle cx="122.2" cy="244.8" r="2.75"/><circle cx="122.2" cy="242.7" r="2.75"/><circle cx="122.2" cy="255.6" r="2.75"/><circle cx="122.2" cy="270.1" r="2.75"/><circle cx="122.2" cy="292.2" r="2.75"/><circle cx="122.2" cy="277.8" r="2.75"/><circle cx="122.2" cy="242.4" r="2.75"/><circle cx="124.7" cy="252.5" r="2.75"/><circle cx="125.1" cy="254" r="2.75"/><circle cx="125.2" cy="246.8" r="2.75"/><circle cx="125.4" cy="255.2" r="2.75"/><circle cx="125.4" cy="304.1" r="2.75"/><circle cx="125.7" cy="268.8" r="2.75"/><circle cx="126.2" cy="283.1" r="2.75"/><circle cx="126.2" cy="277.7" r="2.75"/><circle cx="126.3" cy="282.7" r="2.75"/><circle cx="126.3" cy="256.2" r="2.75"/><circle cx="126.4" cy="274.1" r="2.75"/><circle cx="126.4" cy="281.2" r="2.75"/><circle cx="127" cy="223.1" r="2.75"/><circle cx="127.1" cy="274.4" r="2.75"/><circle cx="127.4" cy="244.6" r="2.75"/><circle cx="127.7" cy="221.1" r="2.75"/><circle cx="127.7" cy="269.9" r="2.75"/><circle cx="127.8" cy="235.9" r="2.75"/><circle cx="127.9" cy="219.5" r="2.75"/><circle cx="131.7" cy="293.3" r="2.75"/><circle cx="132.2" cy="300.8" r="2.75"/><circle cx="132.3" cy="289.1" r="2.75"/><circle cx="132.5" cy="271.7" r="2.75"/><circle cx="132.5" cy="301.7" r="2.75"/><circle cx="132.8" cy="311.2" r="2.75"/><circle cx="133.1" cy="291.3" r="2.75"/><circle cx="133.4" cy="307.6" r="2.75"/><circle cx="133.5" cy="313.2" r="2.75"/><circle cx="134.1" cy="297.3" r="2.75"/><circle cx="134.2" cy="274.4" r="2.75"/><circle cx="134.4" cy="274.3" r="2.75"/><circle cx="134.7" cy="280.7" r="2.75"/><circle cx="134.7" cy="298.2" r="2.75"/><circle cx="134.9" cy="275.2" r="2.75"/><circle cx="134.9" cy="284.8" r="2.75"/><circle cx="135" cy="271" r="2.75"/><circle cx="135.1" cy="290" r="2.75"/><circle cx="135.3" cy="288.3" r="2.75"/><circle cx="139.3" cy="284.6" r="2.75"/><circle cx="139.4" cy="281.2" r="2.75"/><circle cx="139.4" cy="282.9" r="2.75"/><circle cx="139.7" cy="279" r="2.75"/><circle cx="140.1" cy="282" r="2.75"/><circle cx="140.5" cy="294.7" r="2.75"/><circle cx="140.6" cy="291.7" r="2.75"/><circle cx="140.6" cy="288.2" r="2.75"/><circle cx="140.9" cy="296.2" r="2.75"/><circle cx="141.1" cy="286.1" r="2.75"/><circle cx="141.1" cy="283.6" r="2.75"/><circle cx="141.2" cy="297.9" r="2.75"/><circle cx="141.3" cy="299.6" r="2.75"/><circle cx="141.8" cy="291.5" r="2.75"/><circle cx="142" cy="298.3" r="2.75"/><circle cx="142.1" cy="298.2" r="2.75"/><circle cx="142.5" cy="301" r="2.75"/><circle cx="142.6" cy="297.8" r="2.75"/><circle cx="142.9" cy="299.5" r="2.75"/><circle cx="143" cy="291.2" r="2.75"/><circle cx="143.7" cy="295.6" r="2.75"/><circle cx="143.8" cy="288.1" r="2.75"/><circle cx="143.9" cy="302.2" r="2.75"/><circle cx="144.7" cy="304" r="2.75"/><circle cx="145.1" cy="299.8" r="2.75"/><circle cx="145.2" cy="302.3" r="2.75"/><circle cx="145.4" cy="299.9" r="2.75"/><circle cx="145.5" cy="281.6" r="2.75"/><circle cx="145.9" cy="301.3" r="2.75"/><circle cx="145.9" cy="304.1" r="2.75"/><circle cx="149.8" cy="227" r="2.75"/><circle cx="149.8" cy="225.6" r="2.75"/><circle cx="150.3" cy="233.2" r="2.75"/><circle cx="150.6" cy="208.5" r="2.75"/><circle cx="150.6" cy="212.9" r="2.75"/><circle cx="151" cy="218.9" r="2.75"/><circle cx="151" cy="211.2" r="2.75"/><circle cx="151.1" cy="223.3" r="2.75"/><circle cx="151.1" cy="221.5" r="2.75"/><circle cx="151.2" cy="212.7" r="2.75"/><circle cx="151.5" cy="235.1" r="2.75"/><circle cx="151.7" cy="236.9" r="2.75"/><circle cx="152" cy="212.6" r="2.75"/><circle cx="152.1" cy="219.7" r="2.75"/><circle cx="152.1" cy="228.4" r="2.75"/><circle cx="152.3" cy="237.6" r="2.75"/><circle cx="152.3" cy="242.9" r="2.75"/><circle cx="153" cy="245.6" r="2.75"/><circle cx="153.1" cy="231.2" r="2.75"/><circle cx="149.8" cy="260.2" r="2.75"/><circle cx="149.8" cy="262.4" r="2.75"/><circle cx="149.8" cy="260" r="2.75"/><circle cx="149.9" cy="259.9" r="2.75"/><circle cx="150.1" cy="260.9" r="2.75"/><circle cx="150.9" cy="261" r="2.75"/><circle cx="151.3" cy="261.5" r="2.75"/><circle cx="151.3" cy="261.1" r="2.75"/><circle cx="151.7" cy="262.5" r="2.75"/><circle cx="151.7" cy="260.7" r="2.75"/><circle cx="151.9" cy="261.8" r="2.75"/><circle cx="152.2" cy="260.1" r="2.75"/><circle cx="152.4" cy="260.4" r="2.75"/><circle cx="152.4" cy="261.3" r="2.75"/><circle cx="152.4" cy="260.9" r="2.75"/><circle cx="152.8" cy="262.1" r="2.75"/><circle cx="152.9" cy="263.9" r="2.75"/><circle cx="153.1" cy="260.3" r="2.75"/><circle cx="153.1" cy="260.7" r="2.75"/><circle cx="157" cy="276.5" r="2.75"/><circle cx="157.1" cy="275.1" r="2.75"/><circle cx="157.1" cy="279.8" r="2.75"/><circle cx="157.2" cy="293.7" r="2.75"/><circle cx="157.4" cy="318.2" r="2.75"/><circle cx="157.6" cy="320.5" r="2.75"/><circle cx="157.6" cy="325.3" r="2.75"/><circle cx="157.6" cy="335.3" r="2.75"/><circle cx="157.7" cy="339.7" r="2.75"/><circle cx="157.7" cy="305.6" r="2.75"/><circle cx="157.9" cy="261" r="2.75"/><circle cx="158" cy="260.3" r="2.75"/><circle cx="158.1" cy="326.2" r="2.75"/><circle cx="158.2" cy="325" r="2.75"/><circle cx="158.5" cy="306.9" r="2.75"/><circle cx="158.7" cy="337.5" r="2.75"/><circle cx="159" cy="320.4" r="2.75"/><circle cx="159.4" cy="295.9" r="2.75"/><circle cx="159.4" cy="291.9" r="2.75"/><circle cx="160.9" cy="286.5" r="2.75"/><circle cx="161.1" cy="305.4" r="2.75"/><circle cx="161.2" cy="272.1" r="2.75"/><circle cx="164.9" cy="262.9" r="2.75"/><circle cx="164.9" cy="259.4" r="2.75"/><circle cx="164.9" cy="258.3" r="2.75"/><circle cx="165" cy="258" r="2.75"/><circle cx="165.2" cy="262.8" r="2.75"/><circle cx="165.3" cy="263.7" r="2.75"/><circle cx="165.4" cy="263.7" r="2.75"/><circle cx="165.4" cy="263.4" r="2.75"/><circle cx="165.5" cy="259.3" r="2.75"/><circle cx="165.5" cy="259.8" r="2.75"/><circle cx="165.9" cy="261" r="2.75"/><circle cx="165.9" cy="264" r="2.75"/><circle cx="166" cy="262.5" r="2.75"/><circle cx="166" cy="264.1" r="2.75"/><circle cx="164.7" cy="284.2" r="2.75"/><circle cx="165.4" cy="288.2" r="2.75"/><circle cx="165.4" cy="314.1" r="2.75"/><circle cx="165.6" cy="302.8" r="2.75"/><circle cx="165.7" cy="295.3" r="2.75"/><circle cx="166.2" cy="298.3" r="2.75"/><circle cx="166.2" cy="290.5" r="2.75"/><circle cx="166.6" cy="288" r="2.75"/><circle cx="166.9" cy="288.4" r="2.75"/><circle cx="167.5" cy="314" r="2.75"/><circle cx="168.1" cy="314.2" r="2.75"/><circle cx="168.9" cy="295.5" r="2.75"/><circle cx="169" cy="312.6" r="2.75"/><circle cx="169.1" cy="285.9" r="2.75"/><circle cx="169.2" cy="292.4" r="2.75"/><circle cx="169.2" cy="283.1" r="2.75"/><circle cx="169.3" cy="296.5" r="2.75"/><circle cx="169.4" cy="273.7" r="2.75"/><circle cx="169.4" cy="282.3" r="2.75"/><circle cx="169.7" cy="317.6" r="2.75"/><circle cx="169.8" cy="319.5" r="2.75"/><circle cx="169.9" cy="315.7" r="2.75"/><circle cx="169.9" cy="315.1" r="2.75"/><circle cx="170" cy="299.4" r="2.75"/><circle cx="170.3" cy="303.1" r="2.75"/><circle cx="174.1" cy="306.9" r="2.75"/><circle cx="175" cy="312.1" r="2.75"/><circle cx="175.3" cy="291.3" r="2.75"/><circle cx="175.3" cy="321.1" r="2.75"/><circle cx="175.3" cy="298.6" r="2.75"/><circle cx="176" cy="300.5" r="2.75"/><circle cx="176.5" cy="292.9" r="2.75"/><circle cx="176.8" cy="309.4" r="2.75"/><circle cx="176.9" cy="321.8" r="2.75"/><circle cx="176.9" cy="317.9" r="2.75"/><circle cx="177" cy="322.6" r="2.75"/><circle cx="177.2" cy="306" r="2.75"/><circle cx="178" cy="300.9" r="2.75"/><circle cx="178" cy="305.3" r="2.75"/><circle cx="178.1" cy="321.3" r="2.75"/><circle cx="178.2" cy="305.3" r="2.75"/><circle cx="178.4" cy="310.4" r="2.75"/><circle cx="178.5" cy="319.4" r="2.75"/><circle cx="178.7" cy="310" r="2.75"/><circle cx="178.7" cy="308.1" r="2.75"/><circle cx="178.7" cy="311.9" r="2.75"/><circle cx="178.9" cy="319.8" r="2.75"/><circle cx="179" cy="312.2" r="2.75"/><circle cx="179.6" cy="296.2" r="2.75"/><circle cx="179.8" cy="294.5" r="2.75"/><circle cx="180.3" cy="296.3" r="2.75"/><circle cx="180.4" cy="323.3" r="2.75"/><circle cx="180.9" cy="291.3" r="2.75"/><circle cx="181.3" cy="315.7" r="2.75"/><circle cx="181.4" cy="320.5" r="2.75"/><circle cx="181.4" cy="322.9" r="2.75"/><circle cx="181.6" cy="301.2" r="2.75"/><circle cx="181.6" cy="295.4" r="2.75"/><circle cx="181.8" cy="291" r="2.75"/><circle cx="182.5" cy="309.5" r="2.75"/><circle cx="182.6" cy="298.7" r="2.75"/><circle cx="182.6" cy="290.9" r="2.75"/><circle cx="182.9" cy="307.2" r="2.75"/><circle cx="183.2" cy="319" r="2.75"/><circle cx="183.6" cy="305.3" r="2.75"/><circle cx="184.1" cy="301.2" r="2.75"/><circle cx="184.5" cy="300.4" r="2.75"/><circle cx="188.9" cy="248.4" r="2.75"/><circle cx="189" cy="252.6" r="2.75"/><circle cx="189.2" cy="255.1" r="2.75"/><circle cx="189.4" cy="247.7" r="2.75"/><circle cx="189.5" cy="247.3" r="2.75"/><circle cx="189.7" cy="247.4" r="2.75"/><circle cx="189.8" cy="245.7" r="2.75"/><circle cx="190" cy="254.6" r="2.75"/><circle cx="190.2" cy="248.4" r="2.75"/><circle cx="190.2" cy="245.4" r="2.75"/><circle cx="190.2" cy="249.4" r="2.75"/><circle cx="190.2" cy="250.1" r="2.75"/><circle cx="190.3" cy="251.4" r="2.75"/><circle cx="190.3" cy="247.7" r="2.75"/><circle cx="188.8" cy="313.6" r="2.75"/><circle cx="189" cy="340.2" r="2.75"/><circle cx="189.1" cy="315.3" r="2.75"/><circle cx="189.2" cy="290.6" r="2.75"/><circle cx="189.3" cy="298.2" r="2.75"/><circle cx="189.3" cy="350.9" r="2.75"/><circle cx="189.5" cy="366.5" r="2.75"/><circle cx="189.5" cy="334.4" r="2.75"/><circle cx="189.5" cy="314.6" r="2.75"/><circle cx="189.7" cy="314.1" r="2.75"/><circle cx="189.7" cy="311.5" r="2.75"/><circle cx="189.8" cy="337.6" r="2.75"/><circle cx="190.1" cy="322.4" r="2.75"/><circle cx="190.2" cy="366.2" r="2.75"/><circle cx="193.8" cy="340.2" r="2.75"/><circle cx="193.9" cy="338" r="2.75"/><circle cx="193.9" cy="346.3" r="2.75"/><circle cx="193.9" cy="329.7" r="2.75"/><circle cx="194" cy="327.7" r="2.75"/><circle cx="194.1" cy="331.7" r="2.75"/><circle cx="194.4" cy="328.2" r="2.75"/><circle cx="194.5" cy="348" r="2.75"/><circle cx="194.9" cy="334.8" r="2.75"/><circle cx="195.3" cy="327.3" r="2.75"/><circle cx="195.4" cy="334" r="2.75"/><circle cx="195.6" cy="334.3" r="2.75"/><circle cx="195.7" cy="339.8" r="2.75"/><circle cx="195.8" cy="336.9" r="2.75"/><circle cx="195.9" cy="328.2" r="2.75"/><circle cx="195.9" cy="341.1" r="2.75"/><circle cx="199.9" cy="322.7" r="2.75"/><circle cx="200.5" cy="334" r="2.75"/><circle cx="200.7" cy="313.3" r="2.75"/><circle cx="201.3" cy="318.8" r="2.75"/><circle cx="201.6" cy="336" r="2.75"/><circle cx="201.8" cy="292.1" r="2.75"/><circle cx="202" cy="301.4" r="2.75"/><circle cx="203.3" cy="315.5" r="2.75"/><circle cx="203.3" cy="280.5" r="2.75"/><circle cx="203.8" cy="307.4" r="2.75"/><circle cx="203.8" cy="316.7" r="2.75"/><circle cx="203.8" cy="321.6" r="2.75"/><circle cx="204" cy="289.1" r="2.75"/><circle cx="204" cy="319.5" r="2.75"/><circle cx="204.1" cy="315.9" r="2.75"/><circle cx="204.3" cy="291.2" r="2.75"/><circle cx="204.4" cy="276" r="2.75"/><circle cx="204.8" cy="279.9" r="2.75"/><circle cx="204.8" cy="284.4" r="2.75"/><circle cx="204.9" cy="289.6" r="2.75"/><circle cx="205.7" cy="284.8" r="2.75"/><circle cx="205.9" cy="297.5" r="2.75"/><circle cx="206" cy="297.3" r="2.75"/><circle cx="206.5" cy="323.1" r="2.75"/><circle cx="206.6" cy="313.6" r="2.75"/><circle cx="206.8" cy="335.1" r="2.75"/><circle cx="207.1" cy="291.3" r="2.75"/><circle cx="207.2" cy="287.7" r="2.75"/><circle cx="207.3" cy="315.7" r="2.75"/><circle cx="207.4" cy="325.4" r="2.75"/><circle cx="207.6" cy="328.6" r="2.75"/><circle cx="207.8" cy="301.5" r="2.75"/><circle cx="208.2" cy="276.8" r="2.75"/><circle cx="201.7" cy="283.6" r="2.75"/><circle cx="201.7" cy="299.7" r="2.75"/><circle cx="201.8" cy="309.3" r="2.75"/><circle cx="202" cy="324.4" r="2.75"/><circle cx="202.1" cy="337" r="2.75"/><circle cx="202.1" cy="332.4" r="2.75"/><circle cx="202.4" cy="295.8" r="2.75"/><circle cx="202.5" cy="277.3" r="2.75"/><circle cx="202.5" cy="282.5" r="2.75"/><circle cx="202.5" cy="290.1" r="2.75"/><circle cx="202.6" cy="289.9" r="2.75"/><circle cx="202.7" cy="293.1" r="2.75"/><circle cx="203" cy="313.3" r="2.75"/><circle cx="203.3" cy="333.9" r="2.75"/><circle cx="206.7" cy="323.7" r="2.75"/><circle cx="206.7" cy="329.8" r="2.75"/><circle cx="206.7" cy="328.4" r="2.75"/><circle cx="206.8" cy="330.4" r="2.75"/><circle cx="206.9" cy="326.4" r="2.75"/><circle cx="206.9" cy="315" r="2.75"/><circle cx="207.2" cy="312.6" r="2.75"/><circle cx="207.3" cy="329.7" r="2.75"/><circle cx="207.7" cy="321.1" r="2.75"/><circle cx="207.7" cy="328.7" r="2.75"/><circle cx="207.9" cy="325.3" r="2.75"/><circle cx="208.2" cy="309.9" r="2.75"/><circle cx="208.3" cy="312.8" r="2.75"/><circle cx="208.3" cy="318.5" r="2.75"/><circle cx="211.7" cy="300.2" r="2.75"/><circle cx="212" cy="276.2" r="2.75"/><circle cx="212" cy="266.3" r="2.75"/><circle cx="212.1" cy="291" r="2.75"/><circle cx="212.2" cy="304.9" r="2.75"/><circle cx="212.5" cy="301.4" r="2.75"/><circle cx="212.5" cy="277.9" r="2.75"/><circle cx="212.7" cy="276.7" r="2.75"/><circle cx="212.7" cy="298.9" r="2.75"/><circle cx="212.9" cy="307.8" r="2.75"/><circle cx="213" cy="296.5" r="2.75"/><circle cx="213" cy="296.2" r="2.75"/><circle cx="213.2" cy="306.2" r="2.75"/><circle cx="213.3" cy="288.2" r="2.75"/><circle cx="214" cy="301.9" r="2.75"/><circle cx="214" cy="272" r="2.75"/><circle cx="214.1" cy="296.5" r="2.75"/><circle cx="214.2" cy="269.2" r="2.75"/><circle cx="214.8" cy="275.1" r="2.75"/><circle cx="218.7" cy="287" r="2.75"/><circle cx="218.8" cy="301.4" r="2.75"/><circle cx="218.9" cy="310.8" r="2.75"/><circle cx="219.1" cy="303.4" r="2.75"/><circle cx="219.2" cy="316" r="2.75"/><circle cx="219.6" cy="302.1" r="2.75"/><circle cx="220" cy="309.5" r="2.75"/><circle cx="220.3" cy="311.6" r="2.75"/><circle cx="220.4" cy="306.6" r="2.75"/><circle cx="220.6" cy="306.5" r="2.75"/><circle cx="220.7" cy="293.7" r="2.75"/><circle cx="220.7" cy="299.1" r="2.75"/><circle cx="220.9" cy="298.1" r="2.75"/><circle cx="221" cy="300.9" r="2.75"/><circle cx="221.1" cy="307.2" r="2.75"/><circle cx="221.2" cy="297.4" r="2.75"/><circle cx="222.4" cy="323.7" r="2.75"/><circle cx="222.7" cy="320.1" r="2.75"/><circle cx="222.9" cy="321" r="2.75"/><circle cx="223.5" cy="316.5" r="2.75"/><circle cx="223.8" cy="316.4" r="2.75"/><circle cx="223.9" cy="316.1" r="2.75"/><circle cx="224.1" cy="322.1" r="2.75"/><circle cx="224.3" cy="317.6" r="2.75"/><circle cx="224.6" cy="316.2" r="2.75"/><circle cx="225" cy="318.5" r="2.75"/><circle cx="225" cy="322.8" r="2.75"/><circle cx="225.6" cy="327.7" r="2.75"/><circle cx="225.7" cy="318.7" r="2.75"/><circle cx="226.2" cy="323.1" r="2.75"/><circle cx="226.5" cy="323.5" r="2.75"/><circle cx="226.7" cy="331.8" r="2.75"/><circle cx="226.8" cy="326.2" r="2.75"/><circle cx="226.8" cy="327.1" r="2.75"/><circle cx="226.9" cy="319.7" r="2.75"/><circle cx="227" cy="324.8" r="2.75"/><circle cx="227.2" cy="325" r="2.75"/><circle cx="227.4" cy="328.1" r="2.75"/><circle cx="227.6" cy="321.6" r="2.75"/><circle cx="227.6" cy="328" r="2.75"/><circle cx="228" cy="319.3" r="2.75"/><circle cx="228.2" cy="315.9" r="2.75"/><circle cx="228.3" cy="320.4" r="2.75"/><circle cx="228.3" cy="318.3" r="2.75"/><circle cx="229.7" cy="346.2" r="2.75"/><circle cx="230.1" cy="341.4" r="2.75"/><circle cx="230.4" cy="337.7" r="2.75"/><circle cx="230.6" cy="335.5" r="2.75"/><circle cx="231.2" cy="342.8" r="2.75"/><circle cx="231.3" cy="343.4" r="2.75"/><circle cx="231.4" cy="350.7" r="2.75"/><circle cx="231.6" cy="336.5" r="2.75"/><circle cx="231.9" cy="352" r="2.75"/><circle cx="232.2" cy="344.2" r="2.75"/><circle cx="232.2" cy="354.7" r="2.75"/><circle cx="232.5" cy="356.9" r="2.75"/><circle cx="232.8" cy="342.5" r="2.75"/><circle cx="233" cy="340.9" r="2.75"/><circle cx="233" cy="326.8" r="2.75"/><circle cx="233.5" cy="336.1" r="2.75"/><circle cx="234" cy="332.2" r="2.75"/><circle cx="234.1" cy="351.9" r="2.75"/><circle cx="234.1" cy="345.1" r="2.75"/><circle cx="234.8" cy="345.4" r="2.75"/><circle cx="235.3" cy="351.4" r="2.75"/><circle cx="235.4" cy="342.6" r="2.75"/><circle cx="235.7" cy="346.5" r="2.75"/><circle cx="235.9" cy="350" r="2.75"/><circle cx="236.5" cy="340.7" r="2.75"/><circle cx="236.5" cy="343.5" r="2.75"/><circle cx="236.7" cy="356.4" r="2.75"/><circle cx="237.3" cy="343.4" r="2.75"/><circle cx="237.9" cy="338" r="2.75"/><circle cx="238.1" cy="334.6" r="2.75"/><circle cx="238.3" cy="339.2" r="2.75"/><circle cx="238.5" cy="334.5" r="2.75"/><circle cx="238.7" cy="323.4" r="2.75"/><circle cx="239.1" cy="337" r="2.75"/><circle cx="239.6" cy="348.4" r="2.75"/><circle cx="239.8" cy="339.8" r="2.75"/><circle cx="239.9" cy="337" r="2.75"/><circle cx="240.1" cy="329.2" r="2.75"/><circle cx="240.1" cy="326.1" r="2.75"/><circle cx="244.9" cy="365.9" r="2.75"/><circle cx="245" cy="366.3" r="2.75"/><circle cx="245.1" cy="360.7" r="2.75"/><circle cx="245.3" cy="351.3" r="2.75"/><circle cx="245.8" cy="345.7" r="2.75"/><circle cx="246" cy="358.9" r="2.75"/><circle cx="246.4" cy="351.5" r="2.75"/><circle cx="246.5" cy="350.1" r="2.75"/><circle cx="246.6" cy="351.8" r="2.75"/><circle cx="246.6" cy="353.2" r="2.75"/><circle cx="247" cy="350.8" r="2.75"/><circle cx="247.2" cy="343.6" r="2.75"/><circle cx="247.9" cy="348.6" r="2.75"/><circle cx="248.1" cy="345" r="2.75"/><circle cx="248.8" cy="364.2" r="2.75"/><circle cx="248.9" cy="362.5" r="2.75"/><circle cx="250" cy="349.8" r="2.75"/><circle cx="250" cy="345.2" r="2.75"/><circle cx="250.3" cy="348" r="2.75"/><circle cx="250.3" cy="344.3" r="2.75"/><circle cx="250.3" cy="343.7" r="2.75"/><circle cx="250.4" cy="353.2" r="2.75"/><circle cx="250.4" cy="343.7" r="2.75"/><circle cx="250.8" cy="348.6" r="2.75"/><circle cx="251" cy="355.8" r="2.75"/><circle cx="251.1" cy="360.6" r="2.75"/><circle cx="251.2" cy="366.9" r="2.75"/><circle cx="251.3" cy="364.6" r="2.75"/><circle cx="255.1" cy="319.5" r="2.75"/><circle cx="255.2" cy="321.5" r="2.75"/><circle cx="255.3" cy="340.6" r="2.75"/><circle cx="255.4" cy="336.9" r="2.75"/><circle cx="255.7" cy="316.7" r="2.75"/><circle cx="256" cy="336.3" r="2.75"/><circle cx="256.3" cy="336" r="2.75"/><circle cx="256.4" cy="340.7" r="2.75"/><circle cx="256.5" cy="330.8" r="2.75"/><circle cx="256.6" cy="335.3" r="2.75"/><circle cx="256.6" cy="340.2" r="2.75"/><circle cx="256.6" cy="332.8" r="2.75"/><circle cx="257.1" cy="320.2" r="2.75"/><circle cx="258.1" cy="328.3" r="2.75"/><circle cx="258.5" cy="328.9" r="2.75"/><circle cx="258.7" cy="325.7" r="2.75"/><circle cx="258.9" cy="316.1" r="2.75"/><circle cx="259.4" cy="324.3" r="2.75"/><circle cx="259.4" cy="321.8" r="2.75"/><circle cx="259.8" cy="318.2" r="2.75"/><circle cx="259.8" cy="317.4" r="2.75"/><circle cx="260.2" cy="324" r="2.75"/><circle cx="260.3" cy="326.9" r="2.75"/><circle cx="260.5" cy="317.7" r="2.75"/><circle cx="260.7" cy="321.8" r="2.75"/><circle cx="260.8" cy="330.1" r="2.75"/><circle cx="261.1" cy="326.1" r="2.75"/><circle cx="261.3" cy="322.4" r="2.75"/><circle cx="264.8" cy="326.1" r="2.75"/><circle cx="264.8" cy="326.7" r="2.75"/><circle cx="264.8" cy="326.8" r="2.75"/><circle cx="265" cy="324.1" r="2.75"/><circle cx="265.3" cy="324.5" r="2.75"/><circle cx="265.8" cy="318.5" r="2.75"/><circle cx="265.8" cy="314.3" r="2.75"/><circle cx="266.5" cy="307.2" r="2.75"/><circle cx="266.5" cy="300.9" r="2.75"/><circle cx="266.5" cy="305.1" r="2.75"/><circle cx="266.9" cy="299.2" r="2.75"/><circle cx="267.1" cy="293.2" r="2.75"/><circle cx="268.1" cy="315" r="2.75"/><circle cx="268.8" cy="311.2" r="2.75"/><circle cx="268.9" cy="292.9" r="2.75"/><circle cx="269.7" cy="317.5" r="2.75"/><circle cx="269.7" cy="325.5" r="2.75"/><circle cx="269.8" cy="314.1" r="2.75"/><circle cx="270.3" cy="317.7" r="2.75"/><circle cx="270.5" cy="324.8" r="2.75"/><circle cx="271" cy="325.7" r="2.75"/><circle cx="271.2" cy="320.3" r="2.75"/><circle cx="271.6" cy="322" r="2.75"/><circle cx="271.7" cy="310.1" r="2.75"/><circle cx="271.8" cy="295.1" r="2.75"/><circle cx="271.9" cy="302.2" r="2.75"/><circle cx="272.5" cy="326.1" r="2.75"/><circle cx="272.6" cy="307.8" r="2.75"/><circle cx="272.7" cy="293.1" r="2.75"/><circle cx="273.3" cy="297.7" r="2.75"/><circle cx="273.4" cy="301.7" r="2.75"/><circle cx="273.5" cy="305.3" r="2.75"/><circle cx="273.8" cy="313.8" r="2.75"/><circle cx="274.5" cy="326.7" r="2.75"/><circle cx="274.5" cy="302.6" r="2.75"/><circle cx="274.7" cy="319.2" r="2.75"/><circle cx="274.9" cy="325.5" r="2.75"/><circle cx="275.1" cy="324" r="2.75"/><circle cx="275.3" cy="321" r="2.75"/><circle cx="278.9" cy="315.9" r="2.75"/><circle cx="279" cy="309.8" r="2.75"/><circle cx="279" cy="283.9" r="2.75"/><circle cx="279.2" cy="311.6" r="2.75"/><circle cx="279.2" cy="301.7" r="2.75"/><circle cx="279.3" cy="299.5" r="2.75"/><circle cx="279.4" cy="316.2" r="2.75"/><circle cx="279.4" cy="313.7" r="2.75"/><circle cx="279.5" cy="302.5" r="2.75"/><circle cx="279.7" cy="285.5" r="2.75"/><circle cx="279.8" cy="312.1" r="2.75"/><circle cx="279.9" cy="304.3" r="2.75"/><circle cx="280" cy="310.4" r="2.75"/><circle cx="280.1" cy="290.6" r="2.75"/><circle cx="281.8" cy="276.6" r="2.75"/><circle cx="282.1" cy="270.9" r="2.75"/><circle cx="282.7" cy="256.3" r="2.75"/><circle cx="283.3" cy="256" r="2.75"/><circle cx="283.5" cy="268.4" r="2.75"/><circle cx="283.7" cy="262.1" r="2.75"/><circle cx="284" cy="260.5" r="2.75"/><circle cx="284.1" cy="270.5" r="2.75"/><circle cx="284.1" cy="280.7" r="2.75"/><circle cx="284.2" cy="281.5" r="2.75"/><circle cx="284.5" cy="278.2" r="2.75"/><circle cx="284.6" cy="259.5" r="2.75"/><circle cx="285" cy="256.9" r="2.75"/><circle cx="285.1" cy="258.3" r="2.75"/><circle cx="285.3" cy="257" r="2.75"/><circle cx="285.3" cy="260.9" r="2.75"/><circle cx="285.7" cy="256.9" r="2.75"/><circle cx="285.8" cy="267.2" r="2.75"/><circle cx="286.1" cy="260.7" r="2.75"/><circle cx="286.2" cy="261.1" r="2.75"/><circle cx="286.2" cy="277.1" r="2.75"/><circle cx="286.3" cy="267.7" r="2.75"/><circle cx="289.9" cy="243.9" r="2.75"/><circle cx="290.1" cy="270.6" r="2.75"/><circle cx="290.2" cy="228.5" r="2.75"/><circle cx="290.2" cy="268.3" r="2.75"/><circle cx="290.3" cy="266" r="2.75"/><circle cx="290.5" cy="268" r="2.75"/><circle cx="291.1" cy="245.5" r="2.75"/><circle cx="291.6" cy="262.5" r="2.75"/><circle cx="291.7" cy="238.5" r="2.75"/><circle cx="291.8" cy="237.2" r="2.75"/><circle cx="291.9" cy="272.9" r="2.75"/><circle cx="292.1" cy="244.3" r="2.75"/><circle cx="292.1" cy="259.8" r="2.75"/><circle cx="292.1" cy="258.6" r="2.75"/><circle cx="292.5" cy="241.5" r="2.75"/><circle cx="292.5" cy="231.8" r="2.75"/><circle cx="292.7" cy="240.2" r="2.75"/><circle cx="293.1" cy="244.3" r="2.75"/><circle cx="293.3" cy="276.6" r="2.75"/><circle cx="293.8" cy="215.4" r="2.75"/><circle cx="294" cy="233.9" r="2.75"/><circle cx="294" cy="225.8" r="2.75"/><circle cx="294" cy="219.7" r="2.75"/><circle cx="294.3" cy="218.7" r="2.75"/><circle cx="294.6" cy="234.1" r="2.75"/><circle cx="294.6" cy="209.5" r="2.75"/><circle cx="294.6" cy="227.5" r="2.75"/><circle cx="295" cy="225.1" r="2.75"/><circle cx="295.1" cy="233.7" r="2.75"/><circle cx="295.4" cy="233.1" r="2.75"/><circle cx="295.6" cy="213.7" r="2.75"/><circle cx="295.7" cy="205.1" r="2.75"/><circle cx="295.8" cy="220.7" r="2.75"/><circle cx="295.8" cy="221.3" r="2.75"/><circle cx="296.1" cy="222" r="2.75"/><circle cx="296.8" cy="265.9" r="2.75"/><circle cx="296.8" cy="272.6" r="2.75"/><circle cx="296.8" cy="268.3" r="2.75"/><circle cx="297" cy="257.5" r="2.75"/><circle cx="297" cy="252.3" r="2.75"/><circle cx="297" cy="266.2" r="2.75"/><circle cx="297.1" cy="265.3" r="2.75"/><circle cx="297.2" cy="261" r="2.75"/><circle cx="297.3" cy="257.1" r="2.75"/><circle cx="297.5" cy="271.6" r="2.75"/><circle cx="297.8" cy="269.9" r="2.75"/><circle cx="298" cy="273.9" r="2.75"/><circle cx="298.1" cy="271" r="2.75"/><circle cx="298.2" cy="268.6" r="2.75"/><circle cx="299.7" cy="266.4" r="2.75"/><circle cx="300.1" cy="264.9" r="2.75"/><circle cx="300.4" cy="254.6" r="2.75"/><circle cx="300.7" cy="248.8" r="2.75"/><circle cx="300.8" cy="251.3" r="2.75"/><circle cx="301.6" cy="261.2" r="2.75"/><circle cx="301.7" cy="255.7" r="2.75"/><circle cx="301.9" cy="264.3" r="2.75"/><circle cx="302" cy="262.7" r="2.75"/><circle cx="302" cy="252.7" r="2.75"/><circle cx="302.2" cy="252.8" r="2.75"/><circle cx="302.3" cy="256.4" r="2.75"/><circle cx="302.4" cy="252.5" r="2.75"/><circle cx="302.8" cy="247.1" r="2.75"/><circle cx="303.1" cy="232.7" r="2.75"/><circle cx="303.5" cy="239.2" r="2.75"/><circle cx="304" cy="246" r="2.75"/><circle cx="304.2" cy="249.4" r="2.75"/><circle cx="304.7" cy="248" r="2.75"/><circle cx="305.1" cy="251.7" r="2.75"/><circle cx="305.3" cy="230.6" r="2.75"/><circle cx="305.4" cy="236" r="2.75"/><circle cx="305.5" cy="234.3" r="2.75"/><circle cx="305.5" cy="251" r="2.75"/><circle cx="305.5" cy="233.7" r="2.75"/><circle cx="305.6" cy="251.5" r="2.75"/><circle cx="305.6" cy="261.4" r="2.75"/><circle cx="306.3" cy="267.1" r="2.75"/><circle cx="309.7" cy="299.9" r="2.75"/><circle cx="309.9" cy="291.4" r="2.75"/><circle cx="309.9" cy="283.4" r="2.75"/><circle cx="310.4" cy="293.7" r="2.75"/><circle cx="310.5" cy="273" r="2.75"/><circle cx="310.9" cy="278.6" r="2.75"/><circle cx="311" cy="281.4" r="2.75"/><circle cx="311.6" cy="281.7" r="2.75"/><circle cx="311.6" cy="301" r="2.75"/><circle cx="311.8" cy="291.6" r="2.75"/><circle cx="312.1" cy="287.1" r="2.75"/><circle cx="312.1" cy="300.9" r="2.75"/><circle cx="312.3" cy="298.1" r="2.75"/><circle cx="312.7" cy="274" r="2.75"/><circle cx="313" cy="287" r="2.75"/><circle cx="313.8" cy="284.9" r="2.75"/><circle cx="313.9" cy="271.7" r="2.75"/><circle cx="314" cy="284.4" r="2.75"/><circle cx="314.3" cy="266.3" r="2.75"/><circle cx="314.6" cy="268.1" r="2.75"/><circle cx="315.4" cy="261.9" r="2.75"/><circle cx="315.8" cy="257.3" r="2.75"/><circle cx="316.3" cy="258.4" r="2.75"/><circle cx="316.5" cy="281.2" r="2.75"/><circle cx="316.6" cy="293.6" r="2.75"/><circle cx="316.7" cy="305.4" r="2.75"/><circle cx="317.2" cy="305.9" r="2.75"/><circle cx="317.8" cy="303.4" r="2.75"/><circle cx="318.6" cy="266.2" r="2.75"/><circle cx="319.1" cy="287.5" r="2.75"/><circle cx="319.1" cy="263.6" r="2.75"/><circle cx="319.2" cy="275.2" r="2.75"/><circle cx="319.3" cy="264.2" r="2.75"/><circle cx="319.4" cy="286.9" r="2.75"/><circle cx="320.2" cy="274.3" r="2.75"/><circle cx="320.2" cy="269.2" r="2.75"/><circle cx="320.4" cy="304.5" r="2.75"/><circle cx="320.5" cy="287.2" r="2.75"/><circle cx="320.5" cy="256.3" r="2.75"/><circle cx="320.5" cy="271.5" r="2.75"/><circle cx="321.1" cy="275.9" r="2.75"/><circle cx="321.9" cy="270.3" r="2.75"/><circle cx="322.9" cy="288.9" r="2.75"/><circle cx="323" cy="272.8" r="2.75"/><circle cx="323.1" cy="282.3" r="2.75"/><circle cx="323.2" cy="261" r="2.75"/><circle cx="323.3" cy="256.6" r="2.75"/><circle cx="324.2" cy="269.1" r="2.75"/><circle cx="324.2" cy="286.2" r="2.75"/><circle cx="324.5" cy="299.6" r="2.75"/><circle cx="324.5" cy="304.9" r="2.75"/><circle cx="324.6" cy="300" r="2.75"/><circle cx="324.6" cy="297.7" r="2.75"/><circle cx="326.8" cy="228.1" r="2.75"/><circle cx="327" cy="227.5" r="2.75"/><circle cx="327.2" cy="232.1" r="2.75"/><circle cx="327.2" cy="233.8" r="2.75"/><circle cx="327.5" cy="238.6" r="2.75"/><circle cx="328.1" cy="228" r="2.75"/><circle cx="328.2" cy="234.5" r="2.75"/><circle cx="328.6" cy="244.1" r="2.75"/><circle cx="328.8" cy="240.9" r="2.75"/><circle cx="328.9" cy="232" r="2.75"/><circle cx="329.1" cy="231.5" r="2.75"/><circle cx="329.4" cy="241.9" r="2.75"/><circle cx="330" cy="237" r="2.75"/><circle cx="330.4" cy="235.5" r="2.75"/><circle cx="330.5" cy="240.7" r="2.75"/><circle cx="330.8" cy="233.2" r="2.75"/><circle cx="330.9" cy="240.3" r="2.75"/><circle cx="331" cy="232.1" r="2.75"/><circle cx="331" cy="219.5" r="2.75"/><circle cx="331.2" cy="233.5" r="2.75"/><circle cx="331.2" cy="240.6" r="2.75"/><circle cx="331.2" cy="232.5" r="2.75"/><circle cx="334.7" cy="234.9" r="2.75"/><circle cx="335.1" cy="234.8" r="2.75"/><circle cx="335.2" cy="249.4" r="2.75"/><circle cx="335.3" cy="236.4" r="2.75"/><circle cx="335.3" cy="236.2" r="2.75"/><circle cx="335.4" cy="241.6" r="2.75"/><circle cx="335.7" cy="271.5" r="2.75"/><circle cx="335.9" cy="267.9" r="2.75"/><circle cx="336.4" cy="237.9" r="2.75"/><circle cx="336.6" cy="251.3" r="2.75"/><circle cx="336.8" cy="272.6" r="2.75"/><circle cx="336.9" cy="234.3" r="2.75"/><circle cx="337" cy="248.1" r="2.75"/><circle cx="338.4" cy="252.3" r="2.75"/><circle cx="339.4" cy="239.5" r="2.75"/><circle cx="339.4" cy="243.3" r="2.75"/><circle cx="339.5" cy="252.1" r="2.75"/><circle cx="339.7" cy="265.7" r="2.75"/><circle cx="339.9" cy="276.4" r="2.75"/><circle cx="339.9" cy="275.9" r="2.75"/><circle cx="340" cy="275.6" r="2.75"/><circle cx="340.2" cy="237.1" r="2.75"/><circle cx="340.5" cy="253.4" r="2.75"/><circle cx="340.9" cy="246.9" r="2.75"/><circle cx="341.1" cy="238.4" r="2.75"/><circle cx="341.5" cy="256.1" r="2.75"/><circle cx="341.8" cy="281.6" r="2.75"/><circle cx="342.1" cy="250.7" r="2.75"/><circle cx="342.2" cy="279.1" r="2.75"/><circle cx="342.8" cy="251.3" r="2.75"/><circle cx="343.7" cy="256.9" r="2.75"/><circle cx="344" cy="241.1" r="2.75"/><circle cx="344" cy="266.6" r="2.75"/><circle cx="344.7" cy="260.2" r="2.75"/><circle cx="344.8" cy="276.4" r="2.75"/><circle cx="345.4" cy="258.9" r="2.75"/><circle cx="345.7" cy="261.8" r="2.75"/><circle cx="346.1" cy="262.1" r="2.75"/><circle cx="346.2" cy="264.1" r="2.75"/><circle cx="346.3" cy="282.3" r="2.75"/><circle cx="346.5" cy="271.9" r="2.75"/><circle cx="347.1" cy="264.2" r="2.75"/><circle cx="347.4" cy="233.5" r="2.75"/><circle cx="347.5" cy="235.4" r="2.75"/><circle cx="348" cy="241.7" r="2.75"/><circle cx="348" cy="262" r="2.75"/><circle cx="349.5" cy="277.4" r="2.75"/><circle cx="349.7" cy="260.5" r="2.75"/><circle cx="349.9" cy="270.6" r="2.75"/><circle cx="350.2" cy="267.6" r="2.75"/><circle cx="350.3" cy="262.6" r="2.75"/><circle cx="350.9" cy="235.2" r="2.75"/><circle cx="351.3" cy="276.4" r="2.75"/><circle cx="351.6" cy="279.4" r="2.75"/><circle cx="351.7" cy="272.9" r="2.75"/><circle cx="352.2" cy="237.6" r="2.75"/><circle cx="352.5" cy="246.5" r="2.75"/><circle cx="352.7" cy="253.5" r="2.75"/><circle cx="353" cy="256.2" r="2.75"/><circle cx="353.1" cy="267.4" r="2.75"/><circle cx="353.3" cy="276.5" r="2.75"/><circle cx="353.7" cy="220" r="2.75"/><circle cx="353.7" cy="230.2" r="2.75"/><circle cx="353.7" cy="231.2" r="2.75"/><circle cx="353.7" cy="225.7" r="2.75"/><circle cx="353.7" cy="222.7" r="2.75"/><circle cx="353.7" cy="224.7" r="2.75"/><circle cx="353.7" cy="231.4" r="2.75"/><circle cx="353.7" cy="220.4" r="2.75"/><circle cx="354.8" cy="105" r="2.75"/><circle cx="354.8" cy="107.6" r="2.75"/><circle cx="354.9" cy="111.5" r="2.75"/><circle cx="354.9" cy="106.5" r="2.75"/><circle cx="355.2" cy="115" r="2.75"/><circle cx="355.5" cy="108.8" r="2.75"/><circle cx="355.7" cy="114.9" r="2.75"/><circle cx="355.8" cy="123.6" r="2.75"/><circle cx="355.8" cy="110.9" r="2.75"/><circle cx="355.8" cy="117" r="2.75"/><circle cx="355.8" cy="117.6" r="2.75"/><circle cx="356" cy="108.3" r="2.75"/><circle cx="356.1" cy="121.3" r="2.75"/><circle cx="356.2" cy="121.1" r="2.75"/><circle cx="357" cy="79.8" r="2.75"/><circle cx="357.1" cy="74.9" r="2.75"/><circle cx="357.1" cy="70.9" r="2.75"/><circle cx="357.2" cy="71" r="2.75"/><circle cx="357.5" cy="75.1" r="2.75"/><circle cx="357.5" cy="58.1" r="2.75"/><circle cx="357.8" cy="64.9" r="2.75"/><circle cx="358.3" cy="85.2" r="2.75"/><circle cx="358.5" cy="86.7" r="2.75"/><circle cx="358.9" cy="86.6" r="2.75"/><circle cx="359.2" cy="70.4" r="2.75"/><circle cx="359.3" cy="84.2" r="2.75"/><circle cx="359.9" cy="81.1" r="2.75"/><circle cx="359.9" cy="91.8" r="2.75"/><circle cx="360.9" cy="63.5" r="2.75"/><circle cx="361.2" cy="73.1" r="2.75"/><circle cx="361.8" cy="59.2" r="2.75"/><circle cx="361.9" cy="60.5" r="2.75"/><circle cx="362.6" cy="70.3" r="2.75"/><circle cx="362.7" cy="71" r="2.75"/><circle cx="363.9" cy="79" r="2.75"/><circle cx="364" cy="78.6" r="2.75"/><circle cx="364.2" cy="80.1" r="2.75"/><circle cx="364.3" cy="86.3" r="2.75"/><circle cx="364.5" cy="86.3" r="2.75"/><circle cx="364.6" cy="76" r="2.75"/><circle cx="364.7" cy="65.4" r="2.75"/><circle cx="365.1" cy="83.8" r="2.75"/><circle cx="365.2" cy="78.4" r="2.75"/><circle cx="365.3" cy="65.4" r="2.75"/><circle cx="365.7" cy="69.6" r="2.75"/><circle cx="365.8" cy="64" r="2.75"/><circle cx="366.6" cy="65.7" r="2.75"/><circle cx="366.7" cy="64.6" r="2.75"/><circle cx="366.8" cy="74.3" r="2.75"/><circle cx="367.4" cy="88.3" r="2.75"/><circle cx="367.6" cy="75.3" r="2.75"/><circle cx="367.8" cy="59.2" r="2.75"/><circle cx="368.1" cy="83.9" r="2.75"/><circle cx="368.6" cy="73.1" r="2.75"/><circle cx="368.9" cy="66.7" r="2.75"/><circle cx="369.6" cy="78.4" r="2.75"/><circle cx="369.7" cy="77.7" r="2.75"/><circle cx="369.9" cy="67.5" r="2.75"/><circle cx="369.9" cy="76.6" r="2.75"/><circle cx="370.1" cy="61.7" r="2.75"/><circle cx="370.7" cy="70.4" r="2.75"/><circle cx="370.8" cy="85.7" r="2.75"/><circle cx="370.9" cy="89.2" r="2.75"/><circle cx="371" cy="88.8" r="2.75"/><circle cx="369.2" cy="106.6" r="2.75"/><circle cx="369.3" cy="111.4" r="2.75"/><circle cx="370.5" cy="110.7" r="2.75"/><circle cx="370.8" cy="108.2" r="2.75"/><circle cx="371.2" cy="108" r="2.75"/><circle cx="371.4" cy="110.5" r="2.75"/><circle cx="371.8" cy="111.2" r="2.75"/><circle cx="372" cy="107.8" r="2.75"/><circle cx="372.5" cy="103.8" r="2.75"/><circle cx="372.7" cy="105.4" r="2.75"/><circle cx="372.8" cy="111.3" r="2.75"/><circle cx="373.2" cy="104.6" r="2.75"/><circle cx="373.5" cy="105.4" r="2.75"/><circle cx="373.6" cy="104.9" r="2.75"/><circle cx="373.9" cy="108.5" r="2.75"/><circle cx="374.1" cy="105.3" r="2.75"/><circle cx="374.4" cy="105.6" r="2.75"/><circle cx="374.5" cy="105.2" r="2.75"/><circle cx="374.9" cy="106.9" r="2.75"/><circle cx="374.9" cy="110.4" r="2.75"/><circle cx="375.1" cy="110.2" r="2.75"/><circle cx="375.2" cy="109.2" r="2.75"/><circle cx="375.2" cy="111.9" r="2.75"/><circle cx="375.3" cy="110.8" r="2.75"/><circle cx="375.3" cy="106" r="2.75"/><circle cx="375.4" cy="106.1" r="2.75"/><circle cx="375.5" cy="110.2" r="2.75"/><circle cx="375.8" cy="110.5" r="2.75"/><circle cx="376" cy="112" r="2.75"/><circle cx="376.4" cy="111.2" r="2.75"/><circle cx="376.7" cy="110.3" r="2.75"/><circle cx="377.1" cy="112.2" r="2.75"/><circle cx="377.1" cy="105.4" r="2.75"/><circle cx="377.2" cy="106.9" r="2.75"/><circle cx="377.4" cy="104.5" r="2.75"/><circle cx="377.8" cy="104" r="2.75"/><circle cx="371.7" cy="127.3" r="2.75"/><circle cx="372.7" cy="135.6" r="2.75"/><circle cx="372.8" cy="125.9" r="2.75"/><circle cx="373.2" cy="136.6" r="2.75"/><circle cx="373.4" cy="139.2" r="2.75"/><circle cx="373.7" cy="138.8" r="2.75"/><circle cx="374.1" cy="147.1" r="2.75"/><circle cx="374.2" cy="147.1" r="2.75"/><circle cx="374.3" cy="147.2" r="2.75"/><circle cx="374.4" cy="138.9" r="2.75"/><circle cx="374.4" cy="132.8" r="2.75"/><circle cx="374.5" cy="132.9" r="2.75"/><circle cx="374.5" cy="130" r="2.75"/><circle cx="374.5" cy="145.9" r="2.75"/><circle cx="374.6" cy="146.9" r="2.75"/><circle cx="375" cy="141.5" r="2.75"/><circle cx="375.1" cy="143.8" r="2.75"/><circle cx="375.5" cy="133.4" r="2.75"/><circle cx="375.6" cy="143.5" r="2.75"/><circle cx="376" cy="144.1" r="2.75"/><circle cx="376" cy="132.4" r="2.75"/><circle cx="376.1" cy="126.9" r="2.75"/><circle cx="373.8" cy="155.3" r="2.75"/><circle cx="373.8" cy="152" r="2.75"/><circle cx="373.9" cy="164.8" r="2.75"/><circle cx="374.2" cy="159.7" r="2.75"/><circle cx="374.2" cy="155.7" r="2.75"/><circle cx="374.6" cy="168.1" r="2.75"/><circle cx="374.7" cy="172.1" r="2.75"/><circle cx="374.9" cy="164.8" r="2.75"/><circle cx="375" cy="155.4" r="2.75"/><circle cx="375.1" cy="152.1" r="2.75"/><circle cx="375.1" cy="148.4" r="2.75"/><circle cx="375.4" cy="151" r="2.75"/><circle cx="376.2" cy="149.4" r="2.75"/><circle cx="376.3" cy="158.7" r="2.75"/><circle cx="376.5" cy="168" r="2.75"/><circle cx="376.8" cy="155.4" r="2.75"/><circle cx="377.3" cy="152.1" r="2.75"/><circle cx="378.8" cy="162" r="2.75"/><circle cx="379.6" cy="170.2" r="2.75"/><circle cx="379.6" cy="158.5" r="2.75"/><circle cx="380" cy="159.8" r="2.75"/><circle cx="380.3" cy="152.5" r="2.75"/><circle cx="380.3" cy="164.9" r="2.75"/><circle cx="380.3" cy="163.6" r="2.75"/><circle cx="380.5" cy="162" r="2.75"/><circle cx="381.5" cy="152.5" r="2.75"/><circle cx="381.6" cy="156.7" r="2.75"/><circle cx="381.7" cy="165.1" r="2.75"/><circle cx="381.8" cy="170.6" r="2.75"/><circle cx="382" cy="148.4" r="2.75"/><circle cx="382.2" cy="157.8" r="2.75"/><circle cx="382.4" cy="155.1" r="2.75"/><circle cx="382.4" cy="162.3" r="2.75"/><circle cx="382.5" cy="155.2" r="2.75"/><circle cx="382.6" cy="151.9" r="2.75"/><circle cx="382.9" cy="156.7" r="2.75"/><circle cx="378.8" cy="176.7" r="2.75"/><circle cx="379.3" cy="189.7" r="2.75"/><circle cx="379.4" cy="188.6" r="2.75"/><circle cx="379.8" cy="180.9" r="2.75"/><circle cx="380.1" cy="190" r="2.75"/><circle cx="380.2" cy="187.9" r="2.75"/><circle cx="380.7" cy="184.8" r="2.75"/><circle cx="380.7" cy="178" r="2.75"/><circle cx="381" cy="179.6" r="2.75"/><circle cx="381.3" cy="181.5" r="2.75"/><circle cx="382.3" cy="184.9" r="2.75"/><circle cx="382.6" cy="183.9" r="2.75"/><circle cx="382.6" cy="187.3" r="2.75"/><circle cx="383" cy="176.3" r="2.75"/><circle cx="383.1" cy="179.4" r="2.75"/><circle cx="383.6" cy="183.9" r="2.75"/><circle cx="383.9" cy="180.5" r="2.75"/><circle cx="384" cy="181.2" r="2.75"/><circle cx="384.1" cy="185.1" r="2.75"/><circle cx="384.1" cy="187.9" r="2.75"/><circle cx="384.6" cy="186.5" r="2.75"/><circle cx="384.7" cy="175.1" r="2.75"/><circle cx="384.9" cy="175.4" r="2.75"/><circle cx="385" cy="173.2" r="2.75"/><circle cx="385.1" cy="184.4" r="2.75"/><circle cx="385.5" cy="186.2" r="2.75"/><circle cx="385.6" cy="178" r="2.75"/><circle cx="385.7" cy="187" r="2.75"/><circle cx="385.8" cy="180.3" r="2.75"/><circle cx="386.3" cy="170.1" r="2.75"/><circle cx="386.4" cy="170.8" r="2.75"/><circle cx="386.5" cy="167.9" r="2.75"/><circle cx="387.1" cy="175.2" r="2.75"/><circle cx="387.5" cy="184.4" r="2.75"/><circle cx="387.6" cy="176.2" r="2.75"/><circle cx="388" cy="182" r="2.75"/><circle cx="383.8" cy="134.8" r="2.75"/><circle cx="383.8" cy="134.8" r="2.75"/><circle cx="384.2" cy="134.8" r="2.75"/><circle cx="384.7" cy="134.8" r="2.75"/><circle cx="385" cy="134.8" r="2.75"/><circle cx="386" cy="134.8" r="2.75"/><circle cx="386.1" cy="134.8" r="2.75"/><circle cx="386.1" cy="134.8" r="2.75"/><circle cx="386.2" cy="134.8" r="2.75"/><circle cx="386.6" cy="134.8" r="2.75"/><circle cx="386.8" cy="134.8" r="2.75"/><circle cx="387" cy="134.8" r="2.75"/><circle cx="387.1" cy="134.8" r="2.75"/><circle cx="387.4" cy="134.8" r="2.75"/><circle cx="387.5" cy="134.8" r="2.75"/><circle cx="387.9" cy="134.8" r="2.75"/><circle cx="388" cy="134.8" r="2.75"/><circle cx="388.7" cy="134.8" r="2.75"/><circle cx="388.8" cy="134.8" r="2.75"/><circle cx="388.9" cy="134.8" r="2.75"/><circle cx="389" cy="134.8" r="2.75"/><circle cx="389.3" cy="134.8" r="2.75"/><circle cx="389.5" cy="134.8" r="2.75"/><circle cx="390.3" cy="134.8" r="2.75"/><circle cx="390.3" cy="134.8" r="2.75"/><circle cx="390.4" cy="134.8" r="2.75"/><circle cx="390.8" cy="134.8" r="2.75"/><circle cx="390.8" cy="134.8" r="2.75"/><circle cx="390.9" cy="134.8" r="2.75"/><circle cx="391.1" cy="134.8" r="2.75"/><circle cx="392.9" cy="144" r="2.75"/><circle cx="393" cy="146.7" r="2.75"/><circle cx="393.1" cy="154.8" r="2.75"/><circle cx="393.4" cy="155.5" r="2.75"/><circle cx="393.5" cy="151.5" r="2.75"/><circle cx="393.6" cy="142" r="2.75"/><circle cx="393.7" cy="154.6" r="2.75"/><circle cx="393.7" cy="153" r="2.75"/><circle cx="393.8" cy="142.9" r="2.75"/><circle cx="393.8" cy="138.3" r="2.75"/><circle cx="394.5" cy="134.9" r="2.75"/><circle cx="395" cy="141.2" r="2.75"/><circle cx="395.1" cy="154.8" r="2.75"/><circle cx="395.2" cy="147.3" r="2.75"/><circle cx="395.5" cy="142.2" r="2.75"/><circle cx="396.2" cy="146.8" r="2.75"/><circle cx="396.6" cy="156.2" r="2.75"/><circle cx="396.8" cy="157.1" r="2.75"/><circle cx="396.9" cy="145.6" r="2.75"/><circle cx="396.9" cy="139.1" r="2.75"/><circle cx="397.3" cy="143" r="2.75"/><circle cx="397.9" cy="140.9" r="2.75"/><circle cx="397.9" cy="142.2" r="2.75"/><circle cx="398" cy="146.1" r="2.75"/><circle cx="398" cy="142.3" r="2.75"/><circle cx="397.7" cy="162.4" r="2.75"/><circle cx="397.9" cy="164.1" r="2.75"/><circle cx="398.5" cy="166.2" r="2.75"/><circle cx="398.7" cy="172" r="2.75"/><circle cx="398.8" cy="159.5" r="2.75"/><circle cx="399" cy="154.5" r="2.75"/><circle cx="399.1" cy="160.1" r="2.75"/><circle cx="399.1" cy="171.3" r="2.75"/><circle cx="399.5" cy="168.4" r="2.75"/><circle cx="399.7" cy="157.2" r="2.75"/><circle cx="399.7" cy="159.7" r="2.75"/><circle cx="400.1" cy="164.5" r="2.75"/><circle cx="400.6" cy="175" r="2.75"/><circle cx="400.9" cy="178" r="2.75"/><circle cx="401.3" cy="172.8" r="2.75"/><circle cx="401.8" cy="166.8" r="2.75"/><circle cx="402.3" cy="157.2" r="2.75"/><circle cx="402.4" cy="163" r="2.75"/><circle cx="402.5" cy="172.7" r="2.75"/><circle cx="402.5" cy="170" r="2.75"/><circle cx="402.7" cy="168.4" r="2.75"/><circle cx="403" cy="173.8" r="2.75"/><circle cx="403.3" cy="175" r="2.75"/><circle cx="403.4" cy="177.6" r="2.75"/><circle cx="403.7" cy="164.8" r="2.75"/><circle cx="403.8" cy="157.6" r="2.75"/><circle cx="403.8" cy="173.1" r="2.75"/><circle cx="404" cy="157" r="2.75"/><circle cx="404.9" cy="161.3" r="2.75"/><circle cx="405.3" cy="176.1" r="2.75"/><circle cx="394.8" cy="185" r="2.75"/><circle cx="394.9" cy="190.6" r="2.75"/><circle cx="395.5" cy="186.1" r="2.75"/><circle cx="395.5" cy="190.9" r="2.75"/><circle cx="395.6" cy="186" r="2.75"/><circle cx="395.7" cy="190.4" r="2.75"/><circle cx="395.7" cy="187.6" r="2.75"/><circle cx="395.9" cy="187" r="2.75"/><circle cx="396" cy="191.8" r="2.75"/><circle cx="396.2" cy="195.1" r="2.75"/><circle cx="397.2" cy="195.4" r="2.75"/><circle cx="397.5" cy="192" r="2.75"/><circle cx="397.6" cy="196.5" r="2.75"/><circle cx="398.1" cy="187.9" r="2.75"/><circle cx="398.5" cy="184.8" r="2.75"/><circle cx="398.6" cy="185.6" r="2.75"/><circle cx="399.5" cy="186" r="2.75"/><circle cx="399.9" cy="192.3" r="2.75"/><circle cx="400.6" cy="190.5" r="2.75"/><circle cx="400.6" cy="184.9" r="2.75"/><circle cx="401.1" cy="186.1" r="2.75"/><circle cx="401.4" cy="186.9" r="2.75"/><circle cx="401.5" cy="189.4" r="2.75"/><circle cx="401.6" cy="187.6" r="2.75"/><circle cx="402.5" cy="188.5" r="2.75"/><circle cx="402.8" cy="185.4" r="2.75"/><circle cx="403.3" cy="188.5" r="2.75"/><circle cx="403.9" cy="184.8" r="2.75"/><circle cx="404" cy="188.1" r="2.75"/><circle cx="404" cy="194.6" r="2.75"/><circle cx="404.3" cy="190.4" r="2.75"/><circle cx="405" cy="190.4" r="2.75"/><circle cx="405.2" cy="193.5" r="2.75"/><circle cx="405.4" cy="191.8" r="2.75"/><circle cx="405.5" cy="196.8" r="2.75"/><circle cx="405.6" cy="193.5" r="2.75"/><circle cx="405.6" cy="195.3" r="2.75"/><circle cx="405.9" cy="186.7" r="2.75"/><circle cx="406.7" cy="190.3" r="2.75"/><circle cx="406.8" cy="190.7" r="2.75"/><circle cx="406.9" cy="195.9" r="2.75"/><circle cx="407.7" cy="189.7" r="2.75"/><circle cx="408.7" cy="184.9" r="2.75"/><circle cx="409.2" cy="184.8" r="2.75"/><circle cx="409.5" cy="187.5" r="2.75"/><circle cx="409.7" cy="193.9" r="2.75"/><circle cx="409.7" cy="196.6" r="2.75"/><circle cx="410.1" cy="194.5" r="2.75"/><circle cx="410.1" cy="192.4" r="2.75"/><circle cx="410.7" cy="193.9" r="2.75"/><circle cx="411.1" cy="191" r="2.75"/><circle cx="411.2" cy="187.2" r="2.75"/><circle cx="411.4" cy="186.1" r="2.75"/><circle cx="411.5" cy="188.6" r="2.75"/><circle cx="411.5" cy="185.9" r="2.75"/><circle cx="411.7" cy="193.1" r="2.75"/><circle cx="411.8" cy="194.2" r="2.75"/><circle cx="412" cy="187.9" r="2.75"/><circle cx="412.1" cy="188.4" r="2.75"/><circle cx="412.7" cy="194.7" r="2.75"/><circle cx="413.2" cy="197.1" r="2.75"/><circle cx="381.7" cy="182.5" r="2.75"/><circle cx="381.7" cy="184.4" r="2.75"/><circle cx="381.8" cy="176.1" r="2.75"/><circle cx="381.9" cy="184.3" r="2.75"/><circle cx="381.9" cy="176.9" r="2.75"/><circle cx="381.9" cy="177.9" r="2.75"/><circle cx="382" cy="176" r="2.75"/><circle cx="382.1" cy="183.8" r="2.75"/><circle cx="382.1" cy="178.3" r="2.75"/><circle cx="382.1" cy="176" r="2.75"/><circle cx="382.2" cy="173.3" r="2.75"/><circle cx="393.4" cy="179.9" r="2.75"/><circle cx="393.6" cy="177.6" r="2.75"/><circle cx="394.2" cy="175.7" r="2.75"/><circle cx="394.6" cy="172.9" r="2.75"/><circle cx="394.7" cy="175" r="2.75"/><circle cx="394.8" cy="176.4" r="2.75"/><circle cx="394.9" cy="173.8" r="2.75"/><circle cx="396.5" cy="176.1" r="2.75"/><circle cx="396.5" cy="176.3" r="2.75"/><circle cx="396.6" cy="174.1" r="2.75"/><circle cx="396.9" cy="173.5" r="2.75"/><circle cx="397.1" cy="178.1" r="2.75"/><circle cx="397.1" cy="176" r="2.75"/><circle cx="397.2" cy="174.4" r="2.75"/><circle cx="397.3" cy="174.2" r="2.75"/><circle cx="397.3" cy="173.4" r="2.75"/><circle cx="397.9" cy="175.9" r="2.75"/><circle cx="398" cy="173.1" r="2.75"/><circle cx="398.2" cy="177.8" r="2.75"/><circle cx="398.6" cy="176" r="2.75"/><circle cx="398.7" cy="176.5" r="2.75"/><circle cx="398.7" cy="176.8" r="2.75"/><circle cx="399.1" cy="177.3" r="2.75"/><circle cx="399.1" cy="179.1" r="2.75"/><circle cx="399.4" cy="177.9" r="2.75"/><circle cx="399.8" cy="177.2" r="2.75"/><circle cx="400" cy="174.4" r="2.75"/><circle cx="400" cy="173" r="2.75"/><circle cx="400.1" cy="176.5" r="2.75"/><circle cx="400.2" cy="177.7" r="2.75"/><circle cx="394.2" cy="196.7" r="2.75"/><circle cx="394.3" cy="193.8" r="2.75"/><circle cx="394.3" cy="201" r="2.75"/><circle cx="394.7" cy="188.5" r="2.75"/><circle cx="394.7" cy="185.5" r="2.75"/><circle cx="395.3" cy="194.2" r="2.75"/><circle cx="395.3" cy="184.3" r="2.75"/><circle cx="395.4" cy="187" r="2.75"/><circle cx="395.5" cy="193.2" r="2.75"/><circle cx="396.6" cy="186.4" r="2.75"/><circle cx="396.6" cy="195.7" r="2.75"/><circle cx="396.7" cy="196.2" r="2.75"/><circle cx="396.8" cy="193.6" r="2.75"/><circle cx="397" cy="195.2" r="2.75"/><circle cx="397.1" cy="197.8" r="2.75"/><circle cx="397.3" cy="199.8" r="2.75"/><circle cx="397.5" cy="191.8" r="2.75"/><circle cx="397.8" cy="195.4" r="2.75"/><circle cx="397.9" cy="184.5" r="2.75"/><circle cx="398.1" cy="190.1" r="2.75"/><circle cx="398.3" cy="193.5" r="2.75"/><circle cx="398.3" cy="194.8" r="2.75"/><circle cx="405.8" cy="201.5" r="2.75"/><circle cx="405.8" cy="202.2" r="2.75"/><circle cx="405.9" cy="194.5" r="2.75"/><circle cx="406" cy="190.8" r="2.75"/><circle cx="406.5" cy="188.8" r="2.75"/><circle cx="406.7" cy="194.7" r="2.75"/><circle cx="407" cy="193.9" r="2.75"/><circle cx="407.4" cy="195" r="2.75"/><circle cx="407.5" cy="195.8" r="2.75"/><circle cx="407.8" cy="189.5" r="2.75"/><circle cx="407.9" cy="199.3" r="2.75"/><circle cx="408" cy="198.7" r="2.75"/><circle cx="408.1" cy="196.9" r="2.75"/><circle cx="408.6" cy="194.3" r="2.75"/><circle cx="408.9" cy="194.9" r="2.75"/><circle cx="409.3" cy="189.2" r="2.75"/><circle cx="410.3" cy="195" r="2.75"/><circle cx="410.7" cy="193.1" r="2.75"/><circle cx="410.8" cy="198.4" r="2.75"/><circle cx="410.8" cy="193" r="2.75"/><circle cx="410.9" cy="188.8" r="2.75"/><circle cx="411.1" cy="192.4" r="2.75"/><circle cx="411.9" cy="194.1" r="2.75"/><circle cx="412.1" cy="189.6" r="2.75"/><circle cx="412.2" cy="195.3" r="2.75"/><circle cx="412.7" cy="193.4" r="2.75"/><circle cx="412.8" cy="199.4" r="2.75"/><circle cx="412.9" cy="197.2" r="2.75"/><circle cx="413" cy="201.9" r="2.75"/><circle cx="413.3" cy="195.5" r="2.75"/><circle cx="411.8" cy="217.8" r="2.75"/><circle cx="412.1" cy="212" r="2.75"/><circle cx="412.6" cy="213.6" r="2.75"/><circle cx="412.7" cy="213.7" r="2.75"/><circle cx="413.7" cy="214.5" r="2.75"/><circle cx="413.8" cy="219.7" r="2.75"/><circle cx="414.2" cy="218.9" r="2.75"/><circle cx="414.5" cy="218.3" r="2.75"/><circle cx="414.6" cy="217" r="2.75"/><circle cx="414.6" cy="212.9" r="2.75"/><circle cx="414.7" cy="214.9" r="2.75"/><circle cx="414.7" cy="212.6" r="2.75"/><circle cx="415" cy="218.9" r="2.75"/><circle cx="415.6" cy="228" r="2.75"/><circle cx="415.8" cy="228.2" r="2.75"/><circle cx="416.4" cy="220.4" r="2.75"/><circle cx="416.4" cy="225.1" r="2.75"/><circle cx="416.6" cy="214.9" r="2.75"/><circle cx="416.7" cy="212.5" r="2.75"/><circle cx="416.9" cy="212.4" r="2.75"/><circle cx="417" cy="216.4" r="2.75"/><circle cx="417.1" cy="226.3" r="2.75"/><circle cx="417.6" cy="227.2" r="2.75"/><circle cx="418.2" cy="221.3" r="2.75"/><circle cx="418.5" cy="219.2" r="2.75"/><circle cx="418.5" cy="225.7" r="2.75"/><circle cx="418.7" cy="224.7" r="2.75"/><circle cx="418.9" cy="223.7" r="2.75"/><circle cx="418.9" cy="225.9" r="2.75"/><circle cx="419" cy="227.6" r="2.75"/><circle cx="419.4" cy="224.6" r="2.75"/><circle cx="419.6" cy="223.1" r="2.75"/><circle cx="420.4" cy="212.1" r="2.75"/><circle cx="420.6" cy="213.6" r="2.75"/><circle cx="420.6" cy="227" r="2.75"/><circle cx="420.7" cy="224.9" r="2.75"/><circle cx="411.8" cy="238.4" r="2.75"/><circle cx="411.8" cy="236.4" r="2.75"/><circle cx="412" cy="237.2" r="2.75"/><circle cx="412.2" cy="235.8" r="2.75"/><circle cx="412.5" cy="238.6" r="2.75"/><circle cx="412.6" cy="237.4" r="2.75"/><circle cx="412.8" cy="236" r="2.75"/><circle cx="412.8" cy="237.2" r="2.75"/><circle cx="414" cy="237.1" r="2.75"/><circle cx="414" cy="236.9" r="2.75"/><circle cx="414.1" cy="236.2" r="2.75"/><circle cx="414.1" cy="236.4" r="2.75"/><circle cx="414.2" cy="237.2" r="2.75"/><circle cx="414.3" cy="236.6" r="2.75"/><circle cx="414.4" cy="237" r="2.75"/><circle cx="414.8" cy="237.5" r="2.75"/><circle cx="415" cy="238" r="2.75"/><circle cx="415.1" cy="236.1" r="2.75"/><circle cx="415.5" cy="236.4" r="2.75"/><circle cx="415.8" cy="237.2" r="2.75"/><circle cx="416.2" cy="236.6" r="2.75"/><circle cx="416.4" cy="239" r="2.75"/><circle cx="416.6" cy="237.2" r="2.75"/><circle cx="417.1" cy="237.4" r="2.75"/><circle cx="417.1" cy="237.8" r="2.75"/><circle cx="420.8" cy="239.8" r="2.75"/><circle cx="420.9" cy="252.8" r="2.75"/><circle cx="421" cy="264.5" r="2.75"/><circle cx="421" cy="265.4" r="2.75"/><circle cx="421.2" cy="259.1" r="2.75"/><circle cx="421.7" cy="262.9" r="2.75"/><circle cx="421.9" cy="247.8" r="2.75"/><circle cx="422" cy="251.5" r="2.75"/><circle cx="422" cy="239.5" r="2.75"/><circle cx="422" cy="241.7" r="2.75"/><circle cx="422.4" cy="247.8" r="2.75"/><circle cx="422.5" cy="246.4" r="2.75"/><circle cx="422.6" cy="254.4" r="2.75"/><circle cx="423.4" cy="252.4" r="2.75"/><circle cx="423.4" cy="248.9" r="2.75"/><circle cx="423.6" cy="256.9" r="2.75"/><circle cx="423.7" cy="244.8" r="2.75"/><circle cx="424.3" cy="255.8" r="2.75"/><circle cx="424.4" cy="256.3" r="2.75"/><circle cx="424.7" cy="245.7" r="2.75"/><circle cx="424.9" cy="242.8" r="2.75"/><circle cx="425.1" cy="249" r="2.75"/><circle cx="426" cy="240.4" r="2.75"/><circle cx="426.9" cy="250.4" r="2.75"/><circle cx="427.2" cy="244.1" r="2.75"/><circle cx="427.3" cy="243.5" r="2.75"/><circle cx="427.4" cy="243.7" r="2.75"/><circle cx="427.5" cy="244.1" r="2.75"/><circle cx="427.5" cy="251.5" r="2.75"/><circle cx="427.6" cy="242.3" r="2.75"/><circle cx="427.7" cy="256.8" r="2.75"/><circle cx="427.9" cy="265.3" r="2.75"/><circle cx="428.2" cy="247" r="2.75"/><circle cx="429.2" cy="241.8" r="2.75"/><circle cx="429.9" cy="238.9" r="2.75"/><circle cx="430.3" cy="239.4" r="2.75"/><circle cx="389" cy="95" r="2.75"/><circle cx="389" cy="81.5" r="2.75"/><circle cx="389.1" cy="96" r="2.75"/><circle cx="389.6" cy="87.8" r="2.75"/><circle cx="389.6" cy="79.8" r="2.75"/><circle cx="389.8" cy="75" r="2.75"/><circle cx="390.1" cy="99.9" r="2.75"/><circle cx="390.2" cy="102.4" r="2.75"/><circle cx="390.2" cy="106.9" r="2.75"/><circle cx="390.3" cy="83.7" r="2.75"/><circle cx="390.5" cy="85.9" r="2.75"/><circle cx="390.7" cy="89.9" r="2.75"/><circle cx="390.7" cy="104" r="2.75"/><circle cx="390.8" cy="90.5" r="2.75"/><circle cx="390.9" cy="79.5" r="2.75"/><circle cx="391.1" cy="84.2" r="2.75"/><circle cx="428.8" cy="320.9" r="2.75"/><circle cx="429.2" cy="325.9" r="2.75"/><circle cx="429.2" cy="321.5" r="2.75"/><circle cx="429.6" cy="318.1" r="2.75"/><circle cx="430.1" cy="316.2" r="2.75"/><circle cx="430.2" cy="324.5" r="2.75"/><circle cx="430.2" cy="323.8" r="2.75"/><circle cx="430.8" cy="316" r="2.75"/><circle cx="430.8" cy="320.1" r="2.75"/><circle cx="431.2" cy="317.8" r="2.75"/><circle cx="431.6" cy="315.8" r="2.75"/><circle cx="432.6" cy="316" r="2.75"/><circle cx="432.7" cy="321" r="2.75"/><circle cx="432.9" cy="319.6" r="2.75"/><circle cx="433" cy="315.4" r="2.75"/><circle cx="433.1" cy="314" r="2.75"/><circle cx="433.3" cy="314.9" r="2.75"/><circle cx="433.4" cy="325.7" r="2.75"/><circle cx="434.1" cy="313.7" r="2.75"/><circle cx="434.1" cy="313.5" r="2.75"/><circle cx="434.1" cy="320.7" r="2.75"/><circle cx="434.3" cy="322.8" r="2.75"/><circle cx="434.6" cy="317.3" r="2.75"/><circle cx="434.7" cy="330.7" r="2.75"/><circle cx="434.8" cy="329.1" r="2.75"/><circle cx="434.8" cy="322.5" r="2.75"/><circle cx="434.8" cy="313.8" r="2.75"/><circle cx="434.9" cy="326.4" r="2.75"/><circle cx="433.7" cy="360.6" r="2.75"/><circle cx="433.7" cy="349.8" r="2.75"/><circle cx="434.9" cy="341.2" r="2.75"/><circle cx="435.1" cy="363" r="2.75"/><circle cx="435.3" cy="357.9" r="2.75"/><circle cx="435.4" cy="365" r="2.75"/><circle cx="435.4" cy="363.2" r="2.75"/><circle cx="435.6" cy="364.2" r="2.75"/><circle cx="435.6" cy="350.1" r="2.75"/><circle cx="436" cy="340.4" r="2.75"/><circle cx="436.1" cy="351.8" r="2.75"/><circle cx="436.1" cy="347.8" r="2.75"/><circle cx="436.6" cy="347.1" r="2.75"/><circle cx="437" cy="337" r="2.75"/><circle cx="437.3" cy="339.6" r="2.75"/><circle cx="437.7" cy="359.8" r="2.75"/><circle cx="438.2" cy="356" r="2.75"/><circle cx="438.3" cy="364.6" r="2.75"/><circle cx="439.5" cy="358.4" r="2.75"/><circle cx="440" cy="335.8" r="2.75"/><circle cx="440.1" cy="351.4" r="2.75"/><circle cx="440.5" cy="345.5" r="2.75"/><circle cx="440.5" cy="363.1" r="2.75"/><circle cx="441.2" cy="357" r="2.75"/><circle cx="441.2" cy="356.7" r="2.75"/><circle cx="442.2" cy="353.2" r="2.75"/><circle cx="442.6" cy="357.2" r="2.75"/><circle cx="442.8" cy="344.4" r="2.75"/><circle cx="443.2" cy="347.9" r="2.75"/><circle cx="444.3" cy="354.3" r="2.75"/><circle cx="444.3" cy="365.8" r="2.75"/><circle cx="444.4" cy="353.4" r="2.75"/><circle cx="444.5" cy="365.8" r="2.75"/><circle cx="444.9" cy="342" r="2.75"/><circle cx="445.1" cy="352.9" r="2.75"/><circle cx="446.1" cy="362.3" r="2.75"/><circle cx="446.6" cy="343.3" r="2.75"/><circle cx="446.6" cy="361.9" r="2.75"/><circle cx="447.1" cy="346" r="2.75"/><circle cx="447.3" cy="362.9" r="2.75"/><circle cx="447.4" cy="364.6" r="2.75"/><circle cx="447.5" cy="358.4" r="2.75"/><circle cx="447.5" cy="337.2" r="2.75"/><circle cx="447.6" cy="344.3" r="2.75"/><circle cx="447.8" cy="338.6" r="2.75"/><circle cx="448" cy="353.9" r="2.75"/><circle cx="448.2" cy="357.4" r="2.75"/><circle cx="448.9" cy="344.4" r="2.75"/><circle cx="448.9" cy="347.4" r="2.75"/><circle cx="449" cy="352.2" r="2.75"/><circle cx="449.1" cy="339.1" r="2.75"/><circle cx="449.6" cy="344.3" r="2.75"/><circle cx="449.7" cy="347.7" r="2.75"/><circle cx="449.8" cy="349.1" r="2.75"/><circle cx="450.2" cy="356.2" r="2.75"/><circle cx="451.3" cy="348.2" r="2.75"/><circle cx="451.7" cy="361.9" r="2.75"/><circle cx="452" cy="345.9" r="2.75"/><circle cx="452.4" cy="344.2" r="2.75"/><circle cx="453.4" cy="344.9" r="2.75"/><circle cx="453.6" cy="348.8" r="2.75"/><circle cx="453.7" cy="341.6" r="2.75"/><circle cx="453.9" cy="340.4" r="2.75"/><circle cx="454.2" cy="359.4" r="2.75"/><circle cx="454.3" cy="362.7" r="2.75"/><circle cx="454.5" cy="357.3" r="2.75"/><circle cx="454.9" cy="356.8" r="2.75"/><circle cx="455.2" cy="363.4" r="2.75"/><circle cx="455.6" cy="355.9" r="2.75"/><circle cx="455.9" cy="348.5" r="2.75"/><circle cx="456.3" cy="336.4" r="2.75"/><circle cx="456.6" cy="362.2" r="2.75"/><circle cx="456.7" cy="356.5" r="2.75"/><circle cx="457.1" cy="337.3" r="2.75"/><circle cx="457.2" cy="340.8" r="2.75"/><circle cx="457.4" cy="342.7" r="2.75"/><circle cx="457.7" cy="345.1" r="2.75"/><circle cx="458.3" cy="350.5" r="2.75"/><circle cx="458.7" cy="344.8" r="2.75"/><circle cx="459.5" cy="343.9" r="2.75"/><circle cx="460.1" cy="360" r="2.75"/><circle cx="460.2" cy="357.7" r="2.75"/><circle cx="460.3" cy="357.9" r="2.75"/><circle cx="460.9" cy="348.2" r="2.75"/><circle cx="461.3" cy="339" r="2.75"/><circle cx="461.8" cy="354.3" r="2.75"/><circle cx="461.8" cy="341.9" r="2.75"/><circle cx="462.3" cy="344.9" r="2.75"/><circle cx="462.6" cy="358.3" r="2.75"/><circle cx="462.7" cy="340.9" r="2.75"/><circle cx="463.2" cy="354.7" r="2.75"/><circle cx="463.3" cy="353.1" r="2.75"/><circle cx="463.9" cy="344" r="2.75"/><circle cx="464.2" cy="356.6" r="2.75"/><circle cx="464.4" cy="359.5" r="2.75"/><circle cx="465.1" cy="337.9" r="2.75"/><circle cx="465.1" cy="351.2" r="2.75"/><circle cx="465.2" cy="362.1" r="2.75"/><circle cx="461.8" cy="324" r="2.75"/><circle cx="462" cy="321.2" r="2.75"/><circle cx="462.2" cy="319.4" r="2.75"/><circle cx="462.4" cy="319.4" r="2.75"/><circle cx="462.5" cy="322.2" r="2.75"/><circle cx="462.6" cy="319.4" r="2.75"/><circle cx="462.6" cy="320.8" r="2.75"/><circle cx="462.6" cy="319.1" r="2.75"/><circle cx="462.7" cy="320.1" r="2.75"/><circle cx="462.7" cy="322.5" r="2.75"/><circle cx="463.3" cy="321.5" r="2.75"/><circle cx="463.6" cy="318" r="2.75"/><circle cx="464" cy="317.8" r="2.75"/><circle cx="464.1" cy="319.7" r="2.75"/><circle cx="464.1" cy="319.5" r="2.75"/><circle cx="464.3" cy="322.4" r="2.75"/><circle cx="464.4" cy="320.8" r="2.75"/><circle cx="464.6" cy="323.3" r="2.75"/><circle cx="465.3" cy="320.5" r="2.75"/><circle cx="469" cy="337.7" r="2.75"/><circle cx="469.7" cy="340.6" r="2.75"/><circle cx="470.3" cy="338.2" r="2.75"/><circle cx="470.5" cy="346.1" r="2.75"/><circle cx="471" cy="337.6" r="2.75"/><circle cx="471" cy="336.9" r="2.75"/><circle cx="471.2" cy="326.2" r="2.75"/><circle cx="471.7" cy="346.6" r="2.75"/><circle cx="472.2" cy="347.1" r="2.75"/><circle cx="472.7" cy="335.8" r="2.75"/><circle cx="473" cy="328.5" r="2.75"/><circle cx="473.4" cy="333.9" r="2.75"/><circle cx="474" cy="332.1" r="2.75"/><circle cx="474.8" cy="335.6" r="2.75"/><circle cx="475.1" cy="342.4" r="2.75"/><circle cx="475.7" cy="343.9" r="2.75"/><circle cx="476.7" cy="346.4" r="2.75"/><circle cx="476.7" cy="334.7" r="2.75"/><circle cx="477.1" cy="342.6" r="2.75"/><circle cx="477.5" cy="343.9" r="2.75"/><circle cx="478.5" cy="333.6" r="2.75"/><circle cx="478.8" cy="339.7" r="2.75"/><circle cx="478.8" cy="342.6" r="2.75"/><circle cx="478.9" cy="340.3" r="2.75"/><circle cx="479.1" cy="340.9" r="2.75"/><circle cx="479.1" cy="330.4" r="2.75"/><circle cx="479.4" cy="327.6" r="2.75"/><circle cx="479.9" cy="327.3" r="2.75"/><circle cx="480.1" cy="328.1" r="2.75"/><circle cx="480.2" cy="326.2" r="2.75"/><circle cx="480.6" cy="343.1" r="2.75"/><circle cx="481.2" cy="345.3" r="2.75"/><circle cx="481.3" cy="340.5" r="2.75"/><circle cx="481.4" cy="337.5" r="2.75"/><circle cx="481.7" cy="331.9" r="2.75"/><circle cx="481.8" cy="332" r="2.75"/><circle cx="482.7" cy="338.2" r="2.75"/><circle cx="483.3" cy="328" r="2.75"/><circle cx="483.4" cy="327.8" r="2.75"/><circle cx="484.1" cy="327.7" r="2.75"/><circle cx="484.1" cy="329.4" r="2.75"/><circle cx="484.3" cy="326.6" r="2.75"/><circle cx="484.5" cy="333.2" r="2.75"/><circle cx="484.9" cy="327.4" r="2.75"/><circle cx="485.2" cy="344.2" r="2.75"/><circle cx="485.4" cy="342.9" r="2.75"/><circle cx="485.6" cy="336.7" r="2.75"/><circle cx="485.8" cy="327.2" r="2.75"/><circle cx="485.9" cy="326.3" r="2.75"/><circle cx="485.9" cy="329.9" r="2.75"/><circle cx="486.1" cy="329.8" r="2.75"/><circle cx="486.2" cy="343.1" r="2.75"/><circle cx="486.9" cy="342.2" r="2.75"/><circle cx="487.3" cy="331.5" r="2.75"/><circle cx="487.5" cy="336.8" r="2.75"/><circle cx="487.5" cy="336.8" r="2.75"/><circle cx="487.6" cy="344.1" r="2.75"/><circle cx="487.9" cy="337.5" r="2.75"/><circle cx="487.9" cy="336.5" r="2.75"/><circle cx="488.3" cy="337.1" r="2.75"/><circle cx="488.4" cy="338.2" r="2.75"/><circle cx="488.6" cy="333.5" r="2.75"/><circle cx="488.7" cy="346.4" r="2.75"/><circle cx="489.3" cy="345.2" r="2.75"/><circle cx="489.6" cy="333.3" r="2.75"/><circle cx="489.8" cy="331.4" r="2.75"/><circle cx="490" cy="330.5" r="2.75"/><circle cx="490.3" cy="331.5" r="2.75"/><circle cx="490.3" cy="326.3" r="2.75"/><circle cx="491.1" cy="332" r="2.75"/><circle cx="491.1" cy="335.5" r="2.75"/><circle cx="491.3" cy="336.6" r="2.75"/><circle cx="491.9" cy="327.5" r="2.75"/><circle cx="492" cy="340" r="2.75"/><circle cx="492.9" cy="332.7" r="2.75"/><circle cx="492.9" cy="353.1" r="2.75"/><circle cx="493.1" cy="339.6" r="2.75"/><circle cx="493.2" cy="327.6" r="2.75"/><circle cx="493.2" cy="330.5" r="2.75"/><circle cx="493.4" cy="338.2" r="2.75"/><circle cx="493.5" cy="339.2" r="2.75"/><circle cx="493.7" cy="351.7" r="2.75"/><circle cx="493.9" cy="344.7" r="2.75"/><circle cx="493.9" cy="330.4" r="2.75"/><circle cx="494" cy="339.1" r="2.75"/><circle cx="494.3" cy="356.8" r="2.75"/><circle cx="494.6" cy="334.9" r="2.75"/><circle cx="495.3" cy="343.2" r="2.75"/><circle cx="495.6" cy="336.7" r="2.75"/><circle cx="495.7" cy="341.3" r="2.75"/><circle cx="495.8" cy="347.3" r="2.75"/><circle cx="495.9" cy="330.9" r="2.75"/><circle cx="496.3" cy="341.4" r="2.75"/><circle cx="496.7" cy="336.5" r="2.75"/><circle cx="497" cy="338.3" r="2.75"/><circle cx="497.4" cy="347.7" r="2.75"/><circle cx="497.4" cy="344.8" r="2.75"/><circle cx="497.6" cy="330.4" r="2.75"/><circle cx="498.2" cy="343.4" r="2.75"/><circle cx="498.2" cy="329" r="2.75"/><circle cx="501.7" cy="341.7" r="2.75"/><circle cx="501.9" cy="365.3" r="2.75"/><circle cx="502.1" cy="332.5" r="2.75"/><circle cx="502.3" cy="350.4" r="2.75"/><circle cx="502.8" cy="323.5" r="2.75"/><circle cx="503.2" cy="312.9" r="2.75"/><circle cx="503.2" cy="318.3" r="2.75"/><circle cx="503.4" cy="309.4" r="2.75"/><circle cx="503.5" cy="343" r="2.75"/><circle cx="503.6" cy="300.6" r="2.75"/><circle cx="503.6" cy="361.4" r="2.75"/><circle cx="503.6" cy="353.5" r="2.75"/><circle cx="503.9" cy="345.1" r="2.75"/><circle cx="504.4" cy="355.8" r="2.75"/><circle cx="504.5" cy="335.7" r="2.75"/><circle cx="504.7" cy="350.1" r="2.75"/><circle cx="504.7" cy="358.7" r="2.75"/><circle cx="504.9" cy="329.9" r="2.75"/><circle cx="505.1" cy="336.7" r="2.75"/><circle cx="505.1" cy="302.2" r="2.75"/><circle cx="505.4" cy="307" r="2.75"/><circle cx="505.6" cy="301" r="2.75"/><circle cx="505.6" cy="295.3" r="2.75"/><circle cx="506.4" cy="300.5" r="2.75"/><circle cx="506.6" cy="274.6" r="2.75"/><circle cx="506.8" cy="280.7" r="2.75"/><circle cx="507.1" cy="303" r="2.75"/><circle cx="507.4" cy="294.9" r="2.75"/><circle cx="507.6" cy="291.7" r="2.75"/><circle cx="508.4" cy="278" r="2.75"/><circle cx="508.5" cy="278.2" r="2.75"/><circle cx="508.8" cy="304" r="2.75"/><circle cx="508.9" cy="291.8" r="2.75"/><circle cx="509.1" cy="303.7" r="2.75"/><circle cx="509.1" cy="279.2" r="2.75"/><circle cx="509.4" cy="286.9" r="2.75"/><circle cx="509.6" cy="278.1" r="2.75"/><circle cx="509.7" cy="288" r="2.75"/><circle cx="509.7" cy="290" r="2.75"/><circle cx="509.8" cy="273.4" r="2.75"/><circle cx="509.8" cy="281" r="2.75"/><circle cx="509.9" cy="277.8" r="2.75"/><circle cx="510" cy="276" r="2.75"/><circle cx="510.4" cy="286.3" r="2.75"/><circle cx="510.5" cy="293.4" r="2.75"/><circle cx="510.5" cy="295.7" r="2.75"/><circle cx="511.5" cy="290.3" r="2.75"/><circle cx="511.9" cy="289.8" r="2.75"/><circle cx="512" cy="285" r="2.75"/><circle cx="512.3" cy="290.3" r="2.75"/><circle cx="512.3" cy="280.2" r="2.75"/><circle cx="513" cy="282.6" r="2.75"/><circle cx="514.8" cy="252.1" r="2.75"/><circle cx="515.1" cy="242.7" r="2.75"/><circle cx="515.2" cy="258.6" r="2.75"/><circle cx="515.6" cy="245.7" r="2.75"/><circle cx="516.1" cy="249.5" r="2.75"/><circle cx="516.3" cy="241" r="2.75"/><circle cx="516.3" cy="242.4" r="2.75"/><circle cx="516.4" cy="250.1" r="2.75"/><circle cx="516.5" cy="255" r="2.75"/><circle cx="516.7" cy="247.4" r="2.75"/><circle cx="516.9" cy="241.7" r="2.75"/><circle cx="516.9" cy="250.4" r="2.75"/><circle cx="517.1" cy="250" r="2.75"/><circle cx="517.8" cy="251.3" r="2.75"/><circle cx="518.2" cy="260" r="2.75"/><circle cx="518.4" cy="242.1" r="2.75"/><circle cx="518.5" cy="244.7" r="2.75"/><circle cx="518.5" cy="256.3" r="2.75"/><circle cx="518.6" cy="247.7" r="2.75"/><circle cx="518.9" cy="254.2" r="2.75"/><circle cx="519.3" cy="247.8" r="2.75"/><circle cx="519.8" cy="256.8" r="2.75"/><circle cx="519.9" cy="246.5" r="2.75"/><circle cx="520.5" cy="240.9" r="2.75"/><circle cx="520.7" cy="244.9" r="2.75"/><circle cx="521" cy="243.7" r="2.75"/><circle cx="521.1" cy="240.2" r="2.75"/><circle cx="521.1" cy="257.5" r="2.75"/><circle cx="516.8" cy="236.7" r="2.75"/><circle cx="517.1" cy="242.1" r="2.75"/><circle cx="517.2" cy="244.6" r="2.75"/><circle cx="517.5" cy="242.2" r="2.75"/><circle cx="517.6" cy="235" r="2.75"/><circle cx="517.7" cy="236.6" r="2.75"/><circle cx="518.6" cy="243" r="2.75"/><circle cx="518.8" cy="243.4" r="2.75"/><circle cx="519" cy="239.9" r="2.75"/><circle cx="519.1" cy="237.1" r="2.75"/><circle cx="519.6" cy="238" r="2.75"/><circle cx="519.8" cy="242.2" r="2.75"/><circle cx="519.8" cy="242.7" r="2.75"/><circle cx="519.9" cy="262.3" r="2.75"/><circle cx="520.1" cy="264.4" r="2.75"/><circle cx="520.3" cy="264.4" r="2.75"/><circle cx="520.3" cy="256.5" r="2.75"/><circle cx="520.4" cy="259" r="2.75"/><circle cx="520.5" cy="249.8" r="2.75"/><circle cx="521.1" cy="251.7" r="2.75"/><circle cx="521.2" cy="240.1" r="2.75"/><circle cx="521.3" cy="249.5" r="2.75"/><circle cx="531.8" cy="135.9" r="2.75"/><circle cx="532" cy="135.2" r="2.75"/><circle cx="532.1" cy="138.2" r="2.75"/><circle cx="532.2" cy="143.2" r="2.75"/><circle cx="532.5" cy="141.5" r="2.75"/><circle cx="532.5" cy="136.6" r="2.75"/><circle cx="532.6" cy="131.9" r="2.75"/><circle cx="532.7" cy="133.5" r="2.75"/><circle cx="532.8" cy="130.9" r="2.75"/><circle cx="533" cy="132.6" r="2.75"/><circle cx="533.2" cy="130.9" r="2.75"/><circle cx="533.4" cy="140.8" r="2.75"/><circle cx="533.7" cy="141.5" r="2.75"/><circle cx="533.9" cy="132.4" r="2.75"/><circle cx="534.1" cy="139.1" r="2.75"/><circle cx="534.3" cy="144.3" r="2.75"/><circle cx="539.7" cy="147.9" r="2.75"/><circle cx="539.7" cy="150" r="2.75"/><circle cx="539.8" cy="145.1" r="2.75"/><circle cx="539.8" cy="142.9" r="2.75"/><circle cx="539.9" cy="149.1" r="2.75"/><circle cx="539.9" cy="147.2" r="2.75"/><circle cx="540" cy="144.6" r="2.75"/><circle cx="540.1" cy="139.4" r="2.75"/><circle cx="540.2" cy="142.8" r="2.75"/><circle cx="540.2" cy="149.3" r="2.75"/><circle cx="540.3" cy="138.8" r="2.75"/><circle cx="527.8" cy="155.7" r="2.75"/><circle cx="527.9" cy="147.8" r="2.75"/><circle cx="528.1" cy="151" r="2.75"/><circle cx="528.2" cy="152.7" r="2.75"/><circle cx="528.3" cy="148.4" r="2.75"/><circle cx="528.3" cy="151.6" r="2.75"/><circle cx="529" cy="154" r="2.75"/><circle cx="529.4" cy="156.4" r="2.75"/><circle cx="529.8" cy="163.5" r="2.75"/><circle cx="529.9" cy="151.1" r="2.75"/><circle cx="530.1" cy="150.9" r="2.75"/><circle cx="530.2" cy="152.7" r="2.75"/><circle cx="530.3" cy="155.9" r="2.75"/><circle cx="530.5" cy="156.7" r="2.75"/><circle cx="530.8" cy="156.2" r="2.75"/><circle cx="530.9" cy="158.2" r="2.75"/><circle cx="531.5" cy="159" r="2.75"/><circle cx="531.9" cy="159.7" r="2.75"/><circle cx="533.3" cy="157.5" r="2.75"/><circle cx="533.6" cy="163.6" r="2.75"/><circle cx="533.8" cy="158.2" r="2.75"/><circle cx="533.8" cy="153.7" r="2.75"/><circle cx="533.8" cy="150.2" r="2.75"/><circle cx="534.2" cy="157.8" r="2.75"/><circle cx="534.3" cy="150.3" r="2.75"/><circle cx="534.5" cy="157.6" r="2.75"/><circle cx="534.7" cy="147.9" r="2.75"/><circle cx="534.9" cy="163.2" r="2.75"/><circle cx="534.9" cy="156.4" r="2.75"/><circle cx="535.1" cy="152.5" r="2.75"/><circle cx="522.7" cy="182.4" r="2.75"/><circle cx="522.9" cy="179.5" r="2.75"/><circle cx="523" cy="174.9" r="2.75"/><circle cx="523.4" cy="166.3" r="2.75"/><circle cx="523.4" cy="182.2" r="2.75"/><circle cx="524" cy="183.9" r="2.75"/><circle cx="524.2" cy="184" r="2.75"/><circle cx="524.4" cy="179.7" r="2.75"/><circle cx="524.8" cy="170.3" r="2.75"/><circle cx="524.9" cy="180.1" r="2.75"/><circle cx="525" cy="172.2" r="2.75"/><circle cx="525.3" cy="166.8" r="2.75"/><circle cx="525.6" cy="177.9" r="2.75"/><circle cx="525.9" cy="166.6" r="2.75"/><circle cx="526.1" cy="166.2" r="2.75"/><circle cx="526.2" cy="166.4" r="2.75"/><circle cx="526.2" cy="176.7" r="2.75"/><circle cx="526.6" cy="170.3" r="2.75"/><circle cx="527.1" cy="168.9" r="2.75"/><circle cx="527.1" cy="185.5" r="2.75"/><circle cx="527.2" cy="183.1" r="2.75"/><circle cx="527.4" cy="180.2" r="2.75"/><circle cx="527.6" cy="166.4" r="2.75"/><circle cx="528.1" cy="164" r="2.75"/><circle cx="528.5" cy="168.4" r="2.75"/><circle cx="528.6" cy="168.3" r="2.75"/><circle cx="529.2" cy="168.6" r="2.75"/><circle cx="529.3" cy="168.6" r="2.75"/><circle cx="529.4" cy="175.1" r="2.75"/><circle cx="529.7" cy="166.4" r="2.75"/><circle cx="539" cy="169.6" r="2.75"/><circle cx="539.1" cy="164.1" r="2.75"/><circle cx="539.2" cy="170.5" r="2.75"/><circle cx="539.6" cy="170" r="2.75"/><circle cx="539.6" cy="170.8" r="2.75"/><circle cx="539.6" cy="169.6" r="2.75"/><circle cx="539.9" cy="168.7" r="2.75"/><circle cx="539.9" cy="170.4" r="2.75"/><circle cx="540.5" cy="166.4" r="2.75"/><circle cx="540.8" cy="169.8" r="2.75"/><circle cx="541" cy="165.3" r="2.75"/><circle cx="541.4" cy="171.3" r="2.75"/><circle cx="541.6" cy="169.7" r="2.75"/><circle cx="541.6" cy="165.4" r="2.75"/><circle cx="541.7" cy="164" r="2.75"/><circle cx="542.1" cy="163.9" r="2.75"/><circle cx="542.2" cy="163.2" r="2.75"/><circle cx="542.3" cy="168.7" r="2.75"/><circle cx="542.3" cy="166.3" r="2.75"/><circle cx="533.9" cy="188.9" r="2.75"/><circle cx="534" cy="200" r="2.75"/><circle cx="534.1" cy="184.3" r="2.75"/><circle cx="534.1" cy="182.7" r="2.75"/><circle cx="534.6" cy="194.5" r="2.75"/><circle cx="534.7" cy="186.4" r="2.75"/><circle cx="534.8" cy="185" r="2.75"/><circle cx="534.9" cy="187.9" r="2.75"/><circle cx="535.1" cy="187.8" r="2.75"/><circle cx="535.5" cy="193.3" r="2.75"/><circle cx="536.8" cy="193" r="2.75"/><circle cx="536.9" cy="196.6" r="2.75"/><circle cx="537" cy="197.9" r="2.75"/><circle cx="537.1" cy="200" r="2.75"/><circle cx="537.3" cy="196.3" r="2.75"/><circle cx="537.4" cy="198" r="2.75"/><circle cx="537.4" cy="191.8" r="2.75"/><circle cx="537.9" cy="200.2" r="2.75"/><circle cx="538.3" cy="190.1" r="2.75"/><circle cx="538.4" cy="198.4" r="2.75"/><circle cx="538.9" cy="186.7" r="2.75"/><circle cx="539.1" cy="190.5" r="2.75"/><circle cx="539.8" cy="193.6" r="2.75"/><circle cx="540.9" cy="199.2" r="2.75"/><circle cx="541" cy="185" r="2.75"/><circle cx="541.2" cy="180.1" r="2.75"/><circle cx="541.3" cy="180.3" r="2.75"/><circle cx="541.3" cy="192.7" r="2.75"/><circle cx="541.3" cy="187.1" r="2.75"/><circle cx="541.4" cy="195" r="2.75"/><circle cx="542" cy="196.1" r="2.75"/><circle cx="542.2" cy="187.2" r="2.75"/><circle cx="542.3" cy="189.9" r="2.75"/><circle cx="522.7" cy="196.9" r="2.75"/><circle cx="522.9" cy="197.3" r="2.75"/><circle cx="523.1" cy="196.8" r="2.75"/><circle cx="523.8" cy="198.1" r="2.75"/><circle cx="523.9" cy="197" r="2.75"/><circle cx="523.9" cy="193.5" r="2.75"/><circle cx="524.1" cy="194" r="2.75"/><circle cx="524.5" cy="193.3" r="2.75"/><circle cx="524.6" cy="193.4" r="2.75"/><circle cx="524.7" cy="195.1" r="2.75"/><circle cx="524.8" cy="196.7" r="2.75"/><circle cx="524.8" cy="198.1" r="2.75"/><circle cx="525.1" cy="197.1" r="2.75"/><circle cx="525.9" cy="197.7" r="2.75"/><circle cx="526.2" cy="196.6" r="2.75"/><circle cx="526.2" cy="196.7" r="2.75"/><circle cx="526.3" cy="193.8" r="2.75"/><circle cx="526.3" cy="195.6" r="2.75"/><circle cx="526.3" cy="196.7" r="2.75"/><circle cx="536.8" cy="224.1" r="2.75"/><circle cx="536.9" cy="223.8" r="2.75"/><circle cx="537" cy="225.1" r="2.75"/><circle cx="537.4" cy="227" r="2.75"/><circle cx="537.6" cy="225.8" r="2.75"/><circle cx="537.8" cy="224.8" r="2.75"/><circle cx="537.8" cy="224.4" r="2.75"/><circle cx="537.8" cy="224.6" r="2.75"/><circle cx="537.9" cy="226.5" r="2.75"/><circle cx="538.2" cy="226.6" r="2.75"/><circle cx="538.3" cy="226.6" r="2.75"/><circle cx="538.7" cy="224.2" r="2.75"/><circle cx="539" cy="225.4" r="2.75"/><circle cx="539.2" cy="224" r="2.75"/><circle cx="539.2" cy="226.5" r="2.75"/><circle cx="539.3" cy="225" r="2.75"/><circle cx="539.6" cy="223.4" r="2.75"/><circle cx="540" cy="223.4" r="2.75"/><circle cx="540.3" cy="223.9" r="2.75"/><circle cx="544.1" cy="270.8" r="2.75"/><circle cx="544.6" cy="280" r="2.75"/><circle cx="545.1" cy="253" r="2.75"/><circle cx="545.3" cy="244.5" r="2.75"/><circle cx="545.4" cy="261.1" r="2.75"/><circle cx="545.6" cy="257.1" r="2.75"/><circle cx="545.7" cy="245.5" r="2.75"/><circle cx="545.9" cy="273.8" r="2.75"/><circle cx="546.1" cy="265.6" r="2.75"/><circle cx="546.2" cy="245.3" r="2.75"/><circle cx="546.3" cy="247.3" r="2.75"/><circle cx="546.3" cy="245.5" r="2.75"/><circle cx="546.9" cy="277.9" r="2.75"/><circle cx="547.2" cy="255.3" r="2.75"/><circle cx="547.7" cy="266.2" r="2.75"/><circle cx="547.9" cy="244.6" r="2.75"/><circle cx="547.9" cy="253.6" r="2.75"/><circle cx="548.3" cy="249.5" r="2.75"/><circle cx="548.4" cy="245.4" r="2.75"/><circle cx="548.8" cy="277.3" r="2.75"/><circle cx="548.9" cy="275.9" r="2.75"/><circle cx="549.2" cy="262.1" r="2.75"/><circle cx="549.6" cy="257.9" r="2.75"/><circle cx="550.2" cy="243.3" r="2.75"/><circle cx="550.7" cy="243.4" r="2.75"/><circle cx="550.8" cy="240.4" r="2.75"/><circle cx="551.2" cy="253.5" r="2.75"/><circle cx="551.2" cy="263.6" r="2.75"/><circle cx="551.5" cy="276.4" r="2.75"/><circle cx="552.6" cy="252.9" r="2.75"/><circle cx="552.6" cy="243.6" r="2.75"/><circle cx="552.7" cy="243.2" r="2.75"/><circle cx="553.1" cy="261.8" r="2.75"/><circle cx="553.4" cy="241.8" r="2.75"/><circle cx="553.6" cy="245" r="2.75"/><circle cx="554" cy="251.2" r="2.75"/><circle cx="554" cy="256" r="2.75"/><circle cx="554" cy="269.6" r="2.75"/><circle cx="554.1" cy="272.1" r="2.75"/><circle cx="554.5" cy="276.3" r="2.75"/><circle cx="554.8" cy="259.2" r="2.75"/><circle cx="555.3" cy="247.7" r="2.75"/><circle cx="557.8" cy="249.9" r="2.75"/><circle cx="557.9" cy="255.1" r="2.75"/><circle cx="558.2" cy="250.2" r="2.75"/><circle cx="559.7" cy="237.3" r="2.75"/><circle cx="559.7" cy="254" r="2.75"/><circle cx="559.9" cy="249.1" r="2.75"/><circle cx="560" cy="239.1" r="2.75"/><circle cx="560.4" cy="234.4" r="2.75"/><circle cx="560.8" cy="240.2" r="2.75"/><circle cx="561" cy="244.1" r="2.75"/><circle cx="561" cy="259.1" r="2.75"/><circle cx="561.2" cy="238.7" r="2.75"/><circle cx="561.5" cy="243.8" r="2.75"/><circle cx="562.3" cy="250.9" r="2.75"/><circle cx="562.6" cy="259.1" r="2.75"/><circle cx="563.3" cy="251.5" r="2.75"/><circle cx="564.1" cy="256.7" r="2.75"/><circle cx="564.1" cy="250.1" r="2.75"/><circle cx="564.2" cy="257.2" r="2.75"/><circle cx="564.4" cy="257.4" r="2.75"/><circle cx="564.8" cy="251.1" r="2.75"/><circle cx="564.9" cy="254.7" r="2.75"/><circle cx="565.1" cy="250.8" r="2.75"/><circle cx="566.4" cy="249.7" r="2.75"/><circle cx="567.5" cy="257.2" r="2.75"/><circle cx="567.8" cy="248.2" r="2.75"/><circle cx="567.9" cy="234.7" r="2.75"/><circle cx="568" cy="240" r="2.75"/><circle cx="568" cy="239.4" r="2.75"/><circle cx="568.2" cy="231.9" r="2.75"/><circle cx="568.5" cy="234.8" r="2.75"/><circle cx="568.6" cy="236.9" r="2.75"/><circle cx="569" cy="232.4" r="2.75"/><circle cx="569.1" cy="249.3" r="2.75"/><circle cx="569.2" cy="240.7" r="2.75"/><circle cx="569.5" cy="230.9" r="2.75"/><circle cx="569.5" cy="237.9" r="2.75"/><circle cx="569.6" cy="233.4" r="2.75"/><circle cx="570.2" cy="235" r="2.75"/><circle cx="570.6" cy="229.4" r="2.75"/><circle cx="570.7" cy="240.7" r="2.75"/><circle cx="570.7" cy="235.1" r="2.75"/><circle cx="570.7" cy="237" r="2.75"/><circle cx="571.5" cy="229.2" r="2.75"/><circle cx="571.5" cy="241.7" r="2.75"/><circle cx="571.7" cy="237.6" r="2.75"/><circle cx="572" cy="241.3" r="2.75"/><circle cx="572.1" cy="251" r="2.75"/><circle cx="572.4" cy="246.8" r="2.75"/><circle cx="572.5" cy="234.6" r="2.75"/><circle cx="572.6" cy="229.3" r="2.75"/><circle cx="572.9" cy="254.3" r="2.75"/><circle cx="573.2" cy="229.4" r="2.75"/><circle cx="560.7" cy="217.1" r="2.75"/><circle cx="560.7" cy="219.7" r="2.75"/><circle cx="561" cy="222" r="2.75"/><circle cx="561" cy="216.8" r="2.75"/><circle cx="561.1" cy="219.9" r="2.75"/><circle cx="561.3" cy="218.8" r="2.75"/><circle cx="561.3" cy="218.5" r="2.75"/><circle cx="561.4" cy="221.1" r="2.75"/><circle cx="561.4" cy="221.7" r="2.75"/><circle cx="561.5" cy="218" r="2.75"/><circle cx="561.7" cy="220.8" r="2.75"/><circle cx="561.8" cy="216.6" r="2.75"/><circle cx="562.3" cy="219.2" r="2.75"/><circle cx="562.3" cy="219.5" r="2.75"/><circle cx="561.7" cy="270.1" r="2.75"/><circle cx="561.7" cy="271.7" r="2.75"/><circle cx="561.7" cy="271.1" r="2.75"/><circle cx="562.1" cy="268.3" r="2.75"/><circle cx="562.9" cy="267.2" r="2.75"/><circle cx="563.2" cy="263.5" r="2.75"/><circle cx="563.2" cy="267.3" r="2.75"/><circle cx="563.3" cy="265.6" r="2.75"/><circle cx="563.4" cy="268.2" r="2.75"/><circle cx="563.4" cy="269.9" r="2.75"/><circle cx="563.8" cy="271.3" r="2.75"/><circle cx="563.9" cy="265.3" r="2.75"/><circle cx="564.3" cy="264.4" r="2.75"/><circle cx="564.3" cy="265.9" r="2.75"/><circle cx="564.4" cy="267.8" r="2.75"/><circle cx="564.4" cy="271.9" r="2.75"/><circle cx="564.5" cy="270.9" r="2.75"/><circle cx="565.2" cy="271.5" r="2.75"/><circle cx="565.3" cy="270.7" r="2.75"/><circle cx="577.7" cy="196.5" r="2.75"/><circle cx="577.7" cy="195.3" r="2.75"/><circle cx="577.8" cy="194" r="2.75"/><circle cx="577.8" cy="196.2" r="2.75"/><circle cx="577.9" cy="194.3" r="2.75"/><circle cx="578.2" cy="194.7" r="2.75"/><circle cx="578.3" cy="201.5" r="2.75"/><circle cx="578.4" cy="201.4" r="2.75"/><circle cx="578.4" cy="198" r="2.75"/><circle cx="578.4" cy="202.1" r="2.75"/><circle cx="578.5" cy="200.8" r="2.75"/><circle cx="578.7" cy="197.8" r="2.75"/><circle cx="578.7" cy="200.2" r="2.75"/><circle cx="579.3" cy="195.1" r="2.75"/><circle cx="576" cy="231.7" r="2.75"/><circle cx="576.2" cy="226.7" r="2.75"/><circle cx="576.2" cy="226.6" r="2.75"/><circle cx="576.4" cy="221.5" r="2.75"/><circle cx="576.7" cy="217.3" r="2.75"/><circle cx="576.9" cy="214.8" r="2.75"/><circle cx="577.4" cy="219.2" r="2.75"/><circle cx="577.5" cy="215.3" r="2.75"/><circle cx="578.1" cy="218.1" r="2.75"/><circle cx="578.2" cy="219.3" r="2.75"/><circle cx="578.3" cy="218.1" r="2.75"/><circle cx="579" cy="223.1" r="2.75"/><circle cx="579" cy="215.4" r="2.75"/><circle cx="579.1" cy="219.9" r="2.75"/><circle cx="579.2" cy="220.7" r="2.75"/><circle cx="579.2" cy="225.1" r="2.75"/><circle cx="579.7" cy="215.3" r="2.75"/><circle cx="579.9" cy="224.6" r="2.75"/><circle cx="580.7" cy="218.5" r="2.75"/><circle cx="580.8" cy="215.2" r="2.75"/><circle cx="581.2" cy="216.4" r="2.75"/><circle cx="581.5" cy="217.6" r="2.75"/><circle cx="581.6" cy="223.3" r="2.75"/><circle cx="582" cy="220.6" r="2.75"/><circle cx="582.1" cy="235.5" r="2.75"/><circle cx="582.1" cy="230.2" r="2.75"/><circle cx="582.7" cy="225.8" r="2.75"/><circle cx="582.9" cy="224.2" r="2.75"/><circle cx="583" cy="226" r="2.75"/><circle cx="583.1" cy="232.3" r="2.75"/><circle cx="583.2" cy="217.4" r="2.75"/><circle cx="583.4" cy="214.3" r="2.75"/><circle cx="583.4" cy="214.6" r="2.75"/><circle cx="586.7" cy="266.9" r="2.75"/><circle cx="586.7" cy="258.9" r="2.75"/><circle cx="587.1" cy="256.1" r="2.75"/><circle cx="587.1" cy="263.5" r="2.75"/><circle cx="587.2" cy="270" r="2.75"/><circle cx="587.8" cy="274" r="2.75"/><circle cx="587.8" cy="254.6" r="2.75"/><circle cx="587.8" cy="264.1" r="2.75"/><circle cx="587.9" cy="267.5" r="2.75"/><circle cx="587.9" cy="256.5" r="2.75"/><circle cx="588" cy="270.5" r="2.75"/><circle cx="588.2" cy="258.2" r="2.75"/><circle cx="588.2" cy="265.5" r="2.75"/><circle cx="588.3" cy="260.5" r="2.75"/><circle cx="581.8" cy="252.7" r="2.75"/><circle cx="581.8" cy="222.1" r="2.75"/><circle cx="581.8" cy="220.1" r="2.75"/><circle cx="581.9" cy="231.3" r="2.75"/><circle cx="582" cy="200" r="2.75"/><circle cx="582" cy="224.6" r="2.75"/><circle cx="582.4" cy="219.9" r="2.75"/><circle cx="582.7" cy="206.1" r="2.75"/><circle cx="582.8" cy="278.7" r="2.75"/><circle cx="582.8" cy="247.8" r="2.75"/><circle cx="582.9" cy="193.2" r="2.75"/><circle cx="582.9" cy="250.1" r="2.75"/><circle cx="583.3" cy="281.4" r="2.75"/><circle cx="583.3" cy="238.4" r="2.75"/><circle cx="584.8" cy="267.5" r="2.75"/><circle cx="584.9" cy="264.6" r="2.75"/><circle cx="585.1" cy="266.6" r="2.75"/><circle cx="585.5" cy="270.3" r="2.75"/><circle cx="585.9" cy="282.5" r="2.75"/><circle cx="585.9" cy="286.9" r="2.75"/><circle cx="585.9" cy="278.7" r="2.75"/><circle cx="586.3" cy="280" r="2.75"/><circle cx="586.5" cy="275.3" r="2.75"/><circle cx="586.7" cy="280.4" r="2.75"/><circle cx="587" cy="270" r="2.75"/><circle cx="587.2" cy="277.3" r="2.75"/><circle cx="587.9" cy="264.5" r="2.75"/><circle cx="587.9" cy="262.1" r="2.75"/><circle cx="588.4" cy="272.5" r="2.75"/><circle cx="588.5" cy="259" r="2.75"/><circle cx="588.7" cy="276.9" r="2.75"/><circle cx="589.2" cy="280.6" r="2.75"/><circle cx="589.4" cy="269.9" r="2.75"/><circle cx="589.6" cy="261.9" r="2.75"/><circle cx="589.9" cy="260.8" r="2.75"/><circle cx="590.6" cy="258.8" r="2.75"/><circle cx="590.6" cy="269.7" r="2.75"/><circle cx="590.7" cy="267.7" r="2.75"/><circle cx="591.2" cy="265.4" r="2.75"/><circle cx="591.7" cy="256.7" r="2.75"/><circle cx="592.1" cy="281.6" r="2.75"/><circle cx="592.2" cy="280.6" r="2.75"/><circle cx="592.3" cy="275.2" r="2.75"/><circle cx="592.6" cy="277.5" r="2.75"/><circle cx="593.4" cy="281.9" r="2.75"/><circle cx="593.5" cy="284" r="2.75"/><circle cx="593.6" cy="275.9" r="2.75"/><circle cx="593.8" cy="283.3" r="2.75"/><circle cx="594.4" cy="278.6" r="2.75"/><circle cx="594.6" cy="283.7" r="2.75"/><circle cx="594.8" cy="281.9" r="2.75"/><circle cx="594.8" cy="268.5" r="2.75"/><circle cx="594.9" cy="282.4" r="2.75"/><circle cx="596.9" cy="305.8" r="2.75"/><circle cx="596.9" cy="315" r="2.75"/><circle cx="597" cy="307.5" r="2.75"/><circle cx="597.2" cy="300.7" r="2.75"/><circle cx="597.3" cy="306.6" r="2.75"/><circle cx="597.4" cy="299.4" r="2.75"/><circle cx="597.5" cy="300.2" r="2.75"/><circle cx="598" cy="300.3" r="2.75"/><circle cx="598.2" cy="307.2" r="2.75"/><circle cx="598.5" cy="295.9" r="2.75"/><circle cx="598.8" cy="297.3" r="2.75"/><circle cx="598.9" cy="304.9" r="2.75"/><circle cx="599.1" cy="297.5" r="2.75"/><circle cx="599.1" cy="305.2" r="2.75"/><circle cx="599.1" cy="294.3" r="2.75"/><circle cx="599.1" cy="312.3" r="2.75"/><circle cx="599.4" cy="302.7" r="2.75"/><circle cx="599.7" cy="304" r="2.75"/><circle cx="599.8" cy="295.7" r="2.75"/><circle cx="599.8" cy="299.3" r="2.75"/><circle cx="601" cy="299.7" r="2.75"/><circle cx="601.2" cy="310.9" r="2.75"/><circle cx="601.9" cy="265.1" r="2.75"/><circle cx="601.9" cy="267.8" r="2.75"/><circle cx="602" cy="263.4" r="2.75"/><circle cx="602.1" cy="285" r="2.75"/><circle cx="602.2" cy="271.5" r="2.75"/><circle cx="602.4" cy="263.1" r="2.75"/><circle cx="602.4" cy="269.3" r="2.75"/><circle cx="602.5" cy="270.6" r="2.75"/><circle cx="602.8" cy="275.4" r="2.75"/><circle cx="602.8" cy="272.2" r="2.75"/><circle cx="602.9" cy="282.6" r="2.75"/><circle cx="603.3" cy="286.4" r="2.75"/><circle cx="603.7" cy="273.6" r="2.75"/><circle cx="603.9" cy="266.9" r="2.75"/><circle cx="603.9" cy="269.7" r="2.75"/><circle cx="604.2" cy="267.2" r="2.75"/><circle cx="604.3" cy="271.5" r="2.75"/><circle cx="604.6" cy="264.4" r="2.75"/><circle cx="604.7" cy="273.3" r="2.75"/><circle cx="604.9" cy="266.9" r="2.75"/><circle cx="605.1" cy="276.7" r="2.75"/><circle cx="605.6" cy="282.7" r="2.75"/><circle cx="605.9" cy="262.8" r="2.75"/><circle cx="606.1" cy="267.2" r="2.75"/><circle cx="606.1" cy="279.7" r="2.75"/><circle cx="607.5" cy="285.9" r="2.75"/><circle cx="607.5" cy="268.2" r="2.75"/><circle cx="608.3" cy="267.4" r="2.75"/><circle cx="611.8" cy="237.2" r="2.75"/><circle cx="612" cy="233.7" r="2.75"/><circle cx="612.1" cy="239.2" r="2.75"/><circle cx="612.2" cy="248.9" r="2.75"/><circle cx="612.3" cy="233.4" r="2.75"/><circle cx="612.5" cy="235.1" r="2.75"/><circle cx="612.5" cy="256.6" r="2.75"/><circle cx="612.6" cy="253.4" r="2.75"/><circle cx="612.8" cy="246.7" r="2.75"/><circle cx="613" cy="265.6" r="2.75"/><circle cx="613" cy="256.3" r="2.75"/><circle cx="613.1" cy="266.9" r="2.75"/><circle cx="613.2" cy="261.6" r="2.75"/><circle cx="613.3" cy="261.3" r="2.75"/><circle cx="614.7" cy="276.3" r="2.75"/><circle cx="614.7" cy="265.8" r="2.75"/><circle cx="614.8" cy="265.7" r="2.75"/><circle cx="615.1" cy="259.8" r="2.75"/><circle cx="615.1" cy="260.6" r="2.75"/><circle cx="615.4" cy="256.7" r="2.75"/><circle cx="615.9" cy="274.6" r="2.75"/><circle cx="616.1" cy="273.9" r="2.75"/><circle cx="616.3" cy="274.9" r="2.75"/><circle cx="616.4" cy="265.5" r="2.75"/><circle cx="616.5" cy="261.8" r="2.75"/><circle cx="616.9" cy="261.5" r="2.75"/><circle cx="617.6" cy="275.1" r="2.75"/><circle cx="617.7" cy="272.7" r="2.75"/><circle cx="617.8" cy="268.5" r="2.75"/><circle cx="617.8" cy="265.2" r="2.75"/><circle cx="617.9" cy="267.1" r="2.75"/><circle cx="617.9" cy="250.8" r="2.75"/><circle cx="618.2" cy="264.5" r="2.75"/><circle cx="616.7" cy="288.9" r="2.75"/><circle cx="617.1" cy="283.4" r="2.75"/><circle cx="617.9" cy="309.1" r="2.75"/><circle cx="618.1" cy="309.2" r="2.75"/><circle cx="618.2" cy="301.3" r="2.75"/><circle cx="618.4" cy="305.6" r="2.75"/><circle cx="618.8" cy="288" r="2.75"/><circle cx="619.1" cy="289.9" r="2.75"/><circle cx="619.2" cy="280.2" r="2.75"/><circle cx="619.3" cy="284" r="2.75"/><circle cx="619.4" cy="291.6" r="2.75"/><circle cx="619.9" cy="283.1" r="2.75"/><circle cx="620.5" cy="283.4" r="2.75"/><circle cx="620.8" cy="293.1" r="2.75"/><circle cx="621.6" cy="287.2" r="2.75"/><circle cx="621.6" cy="294.6" r="2.75"/><circle cx="621.7" cy="309.2" r="2.75"/><circle cx="621.7" cy="288.8" r="2.75"/><circle cx="621.8" cy="293.1" r="2.75"/><circle cx="622" cy="293.1" r="2.75"/><circle cx="622.1" cy="281.4" r="2.75"/><circle cx="622.4" cy="290.9" r="2.75"/><circle cx="622.5" cy="295.1" r="2.75"/><circle cx="622.8" cy="295.8" r="2.75"/><circle cx="623.3" cy="289.3" r="2.75"/><circle cx="623.4" cy="282.7" r="2.75"/><circle cx="624.1" cy="299.2" r="2.75"/><circle cx="624.5" cy="307.3" r="2.75"/><circle cx="624.6" cy="305.3" r="2.75"/><circle cx="624.9" cy="306.5" r="2.75"/><circle cx="625.1" cy="308.9" r="2.75"/><circle cx="626" cy="300" r="2.75"/><circle cx="626.2" cy="293.9" r="2.75"/><circle cx="627" cy="292.2" r="2.75"/><circle cx="627" cy="301.9" r="2.75"/><circle cx="627.5" cy="280.2" r="2.75"/><circle cx="627.6" cy="284" r="2.75"/><circle cx="628.3" cy="284.5" r="2.75"/><circle cx="628.7" cy="282.9" r="2.75"/><circle cx="629" cy="299.4" r="2.75"/><circle cx="629.1" cy="301.6" r="2.75"/><circle cx="629.1" cy="303.2" r="2.75"/><circle cx="629.2" cy="305" r="2.75"/><circle cx="630" cy="302.7" r="2.75"/><circle cx="630.8" cy="300.4" r="2.75"/><circle cx="631.2" cy="292.2" r="2.75"/><circle cx="631.3" cy="285.6" r="2.75"/><circle cx="631.3" cy="280.5" r="2.75"/><circle cx="631.6" cy="280.8" r="2.75"/><circle cx="631.9" cy="303.6" r="2.75"/><circle cx="632" cy="305.2" r="2.75"/><circle cx="632.4" cy="305.4" r="2.75"/><circle cx="632.7" cy="308.7" r="2.75"/><circle cx="633" cy="294.2" r="2.75"/><circle cx="634.6" cy="282.1" r="2.75"/><circle cx="634.8" cy="293.7" r="2.75"/><circle cx="635" cy="284.6" r="2.75"/><circle cx="635.1" cy="291.8" r="2.75"/><circle cx="635.2" cy="283.2" r="2.75"/><circle cx="635.5" cy="292" r="2.75"/><circle cx="635.6" cy="286.8" r="2.75"/><circle cx="635.8" cy="280.4" r="2.75"/><circle cx="635.9" cy="284.9" r="2.75"/><circle cx="636.1" cy="290.7" r="2.75"/><circle cx="637.1" cy="309.8" r="2.75"/><circle cx="637.2" cy="309.7" r="2.75"/><circle cx="638.6" cy="298.3" r="2.75"/><circle cx="638.9" cy="301.2" r="2.75"/><circle cx="639" cy="307.4" r="2.75"/><circle cx="639.5" cy="297.7" r="2.75"/><circle cx="639.6" cy="284.4" r="2.75"/><circle cx="639.7" cy="282.6" r="2.75"/><circle cx="640.3" cy="293.1" r="2.75"/><circle cx="640.4" cy="284.8" r="2.75"/><circle cx="640.7" cy="301.1" r="2.75"/><circle cx="640.9" cy="296.6" r="2.75"/><circle cx="641.2" cy="308.6" r="2.75"/><circle cx="641.3" cy="307.4" r="2.75"/><circle cx="641.9" cy="284.6" r="2.75"/><circle cx="642.2" cy="272.2" r="2.75"/><circle cx="642.2" cy="294.5" r="2.75"/><circle cx="642.4" cy="271.2" r="2.75"/><circle cx="642.5" cy="269.9" r="2.75"/><circle cx="642.6" cy="281.5" r="2.75"/><circle cx="643.5" cy="278" r="2.75"/><circle cx="643.9" cy="270.6" r="2.75"/><circle cx="644.1" cy="279" r="2.75"/><circle cx="644.5" cy="279.5" r="2.75"/><circle cx="644.6" cy="277.1" r="2.75"/><circle cx="644.8" cy="290.2" r="2.75"/><circle cx="645.1" cy="273.2" r="2.75"/><circle cx="645.3" cy="297.4" r="2.75"/><circle cx="645.4" cy="295.1" r="2.75"/><circle cx="645.5" cy="295.1" r="2.75"/><circle cx="645.5" cy="288.4" r="2.75"/><circle cx="646.2" cy="299.1" r="2.75"/><circle cx="646.3" cy="292.4" r="2.75"/><circle cx="646.8" cy="297.4" r="2.75"/><circle cx="646.9" cy="295" r="2.75"/><circle cx="647.3" cy="297.5" r="2.75"/><circle cx="647.9" cy="273.4" r="2.75"/><circle cx="648.3" cy="297" r="2.75"/><circle cx="648.8" cy="290" r="2.75"/><circle cx="649.2" cy="296.2" r="2.75"/><circle cx="649.4" cy="299.1" r="2.75"/><circle cx="649.7" cy="304.9" r="2.75"/><circle cx="649.8" cy="296.1" r="2.75"/><circle cx="651" cy="307" r="2.75"/><circle cx="651.2" cy="289.5" r="2.75"/><circle cx="651.9" cy="281.1" r="2.75"/><circle cx="652.2" cy="281.9" r="2.75"/><circle cx="652.2" cy="296.6" r="2.75"/><circle cx="652.7" cy="298.9" r="2.75"/><circle cx="652.7" cy="305.6" r="2.75"/><circle cx="652.7" cy="303.3" r="2.75"/><circle cx="652.8" cy="302" r="2.75"/><circle cx="653.1" cy="297.6" r="2.75"/><circle cx="653.3" cy="304.3" r="2.75"/><circle cx="653.5" cy="300.8" r="2.75"/><circle cx="653.5" cy="296.3" r="2.75"/><circle cx="653.8" cy="281.1" r="2.75"/><circle cx="653.9" cy="287.1" r="2.75"/><circle cx="654.1" cy="294.3" r="2.75"/><circle cx="654.3" cy="306.7" r="2.75"/><circle cx="654.7" cy="299.2" r="2.75"/><circle cx="655.1" cy="247.1" r="2.75"/><circle cx="655.1" cy="246.8" r="2.75"/><circle cx="655.2" cy="246.8" r="2.75"/><circle cx="655.4" cy="245" r="2.75"/><circle cx="655.5" cy="248.7" r="2.75"/><circle cx="655.6" cy="249.8" r="2.75"/><circle cx="655.7" cy="249.8" r="2.75"/><circle cx="655.8" cy="249.6" r="2.75"/><circle cx="655.9" cy="243.8" r="2.75"/><circle cx="655.9" cy="248.5" r="2.75"/><circle cx="656.1" cy="248.6" r="2.75"/><circle cx="656.2" cy="248.5" r="2.75"/><circle cx="656.3" cy="246" r="2.75"/><circle cx="656.3" cy="246.5" r="2.75"/><circle cx="658.7" cy="296.5" r="2.75"/><circle cx="659.1" cy="284.2" r="2.75"/><circle cx="659.2" cy="293.4" r="2.75"/><circle cx="659.4" cy="266.8" r="2.75"/><circle cx="660.3" cy="293.2" r="2.75"/><circle cx="660.5" cy="278.6" r="2.75"/><circle cx="660.5" cy="263.4" r="2.75"/><circle cx="660.7" cy="263.3" r="2.75"/><circle cx="661" cy="275.1" r="2.75"/><circle cx="661.9" cy="289.1" r="2.75"/><circle cx="662.1" cy="263.8" r="2.75"/><circle cx="662.4" cy="268.5" r="2.75"/><circle cx="662.5" cy="288.3" r="2.75"/><circle cx="662.5" cy="300.1" r="2.75"/><circle cx="663.4" cy="287.2" r="2.75"/><circle cx="663.5" cy="296.4" r="2.75"/><circle cx="663.6" cy="301.1" r="2.75"/><circle cx="663.8" cy="300.3" r="2.75"/><circle cx="664.2" cy="293" r="2.75"/><circle cx="664.4" cy="264.9" r="2.75"/><circle cx="664.4" cy="287.1" r="2.75"/><circle cx="665" cy="298.8" r="2.75"/><circle cx="665.2" cy="303.5" r="2.75"/><circle cx="665.2" cy="284.9" r="2.75"/><circle cx="666.6" cy="275.7" r="2.75"/><circle cx="667.1" cy="291.6" r="2.75"/><circle cx="667.4" cy="281.1" r="2.75"/><circle cx="667.6" cy="286.8" r="2.75"/><circle cx="667.7" cy="301.3" r="2.75"/><circle cx="667.9" cy="287.3" r="2.75"/><circle cx="668.1" cy="295.5" r="2.75"/><circle cx="668.3" cy="281.9" r="2.75"/><circle cx="668.6" cy="274.6" r="2.75"/><circle cx="668.7" cy="304.2" r="2.75"/><circle cx="668.8" cy="298.1" r="2.75"/><circle cx="669.3" cy="303" r="2.75"/><circle cx="669.5" cy="274.2" r="2.75"/><circle cx="669.6" cy="290.9" r="2.75"/><circle cx="669.8" cy="279.1" r="2.75"/><circle cx="670.7" cy="287.9" r="2.75"/><circle cx="670.7" cy="269.2" r="2.75"/><circle cx="671" cy="276" r="2.75"/><circle cx="671.4" cy="286.2" r="2.75"/><circle cx="671.6" cy="266.1" r="2.75"/><circle cx="671.8" cy="272" r="2.75"/><circle cx="671.8" cy="269.8" r="2.75"/><circle cx="672.3" cy="292.8" r="2.75"/><circle cx="672.6" cy="299.7" r="2.75"/><circle cx="672.9" cy="300.8" r="2.75"/><circle cx="672.9" cy="274" r="2.75"/><circle cx="674.8" cy="250.6" r="2.75"/><circle cx="674.8" cy="252" r="2.75"/><circle cx="675" cy="240.3" r="2.75"/><circle cx="675.5" cy="250.9" r="2.75"/><circle cx="675.9" cy="246" r="2.75"/><circle cx="676.7" cy="262.3" r="2.75"/><circle cx="676.7" cy="252.9" r="2.75"/><circle cx="677" cy="261.8" r="2.75"/><circle cx="677.1" cy="256.5" r="2.75"/><circle cx="677.1" cy="253" r="2.75"/><circle cx="677.2" cy="249" r="2.75"/><circle cx="677.2" cy="250.1" r="2.75"/><circle cx="677.2" cy="246.4" r="2.75"/><circle cx="677.4" cy="240.7" r="2.75"/><circle cx="677.5" cy="242" r="2.75"/><circle cx="677.6" cy="241.8" r="2.75"/><circle cx="677.7" cy="241.6" r="2.75"/><circle cx="678" cy="251.7" r="2.75"/><circle cx="678.3" cy="263.2" r="2.75"/><circle cx="671.8" cy="263.8" r="2.75"/><circle cx="672.2" cy="260.5" r="2.75"/><circle cx="672.2" cy="268.2" r="2.75"/><circle cx="672.2" cy="286.4" r="2.75"/><circle cx="672.3" cy="291.6" r="2.75"/><circle cx="672.3" cy="275.5" r="2.75"/><circle cx="672.4" cy="262.7" r="2.75"/><circle cx="672.4" cy="271.2" r="2.75"/><circle cx="672.4" cy="283.1" r="2.75"/><circle cx="672.6" cy="290.9" r="2.75"/><circle cx="672.7" cy="294" r="2.75"/><circle cx="672.9" cy="296.6" r="2.75"/><circle cx="672.9" cy="269.3" r="2.75"/><circle cx="673" cy="269.2" r="2.75"/><circle cx="674.7" cy="245.2" r="2.75"/><circle cx="675.1" cy="245.7" r="2.75"/><circle cx="675.2" cy="245.4" r="2.75"/><circle cx="675.2" cy="240.1" r="2.75"/><circle cx="675.5" cy="253.3" r="2.75"/><circle cx="675.6" cy="268.5" r="2.75"/><circle cx="675.7" cy="255.4" r="2.75"/><circle cx="675.8" cy="261.2" r="2.75"/><circle cx="675.9" cy="259.9" r="2.75"/><circle cx="675.9" cy="247.6" r="2.75"/><circle cx="676" cy="257.7" r="2.75"/><circle cx="676.3" cy="269.3" r="2.75"/><circle cx="676.8" cy="280.1" r="2.75"/><circle cx="676.8" cy="266.5" r="2.75"/><circle cx="677.3" cy="268.7" r="2.75"/><circle cx="678" cy="254" r="2.75"/><circle cx="678.2" cy="280.2" r="2.75"/><circle cx="679" cy="277.5" r="2.75"/><circle cx="679.3" cy="274.3" r="2.75"/><circle cx="679.5" cy="254.7" r="2.75"/><circle cx="680.4" cy="264.2" r="2.75"/><circle cx="680.9" cy="272.4" r="2.75"/><circle cx="680.9" cy="278" r="2.75"/><circle cx="680.9" cy="273.6" r="2.75"/><circle cx="681.3" cy="274.8" r="2.75"/><circle cx="681.5" cy="262.4" r="2.75"/><circle cx="681.7" cy="251.4" r="2.75"/><circle cx="681.8" cy="240.7" r="2.75"/><circle cx="681.9" cy="272.7" r="2.75"/><circle cx="682.9" cy="268.4" r="2.75"/><circle cx="683" cy="278.2" r="2.75"/><circle cx="683.1" cy="266.7" r="2.75"/><circle cx="683.3" cy="269.4" r="2.75"/><circle cx="684.9" cy="290.6" r="2.75"/><circle cx="685" cy="291.3" r="2.75"/><circle cx="686" cy="294.5" r="2.75"/><circle cx="686.1" cy="291.7" r="2.75"/><circle cx="686.1" cy="290.8" r="2.75"/><circle cx="686.7" cy="289.3" r="2.75"/><circle cx="687.4" cy="287.3" r="2.75"/><circle cx="687.4" cy="298" r="2.75"/><circle cx="687.5" cy="286.6" r="2.75"/><circle cx="687.7" cy="290" r="2.75"/><circle cx="688.7" cy="286.6" r="2.75"/><circle cx="688.8" cy="295" r="2.75"/><circle cx="688.8" cy="299.7" r="2.75"/><circle cx="689" cy="299.9" r="2.75"/><circle cx="689" cy="290.7" r="2.75"/><circle cx="689.1" cy="296" r="2.75"/><circle cx="689.4" cy="297.9" r="2.75"/><circle cx="690.4" cy="298.1" r="2.75"/><circle cx="690.5" cy="296.5" r="2.75"/><circle cx="690.7" cy="299.7" r="2.75"/><circle cx="691.4" cy="295" r="2.75"/><circle cx="692.2" cy="296.9" r="2.75"/><circle cx="692.4" cy="299.5" r="2.75"/><circle cx="693" cy="298.3" r="2.75"/><circle cx="693.1" cy="292.3" r="2.75"/><circle cx="693.1" cy="291.1" r="2.75"/><circle cx="693.5" cy="285.8" r="2.75"/><circle cx="693.5" cy="293.1" r="2.75"/><circle cx="693.6" cy="300.1" r="2.75"/><circle cx="695.3" cy="299.4" r="2.75"/><circle cx="695.7" cy="296.4" r="2.75"/><circle cx="695.9" cy="293.3" r="2.75"/><circle cx="696" cy="296.3" r="2.75"/><circle cx="696.1" cy="294.5" r="2.75"/><circle cx="696.3" cy="290.2" r="2.75"/><circle cx="696.5" cy="292.2" r="2.75"/><circle cx="696.8" cy="293.3" r="2.75"/><circle cx="696.9" cy="287.8" r="2.75"/><circle cx="696.9" cy="290.4" r="2.75"/><circle cx="697.1" cy="298.9" r="2.75"/><circle cx="697.2" cy="297.4" r="2.75"/><circle cx="697.3" cy="295.1" r="2.75"/><circle cx="697.6" cy="299.2" r="2.75"/><circle cx="697.7" cy="299" r="2.75"/><circle cx="698.1" cy="297.7" r="2.75"/><circle cx="698.2" cy="292.1" r="2.75"/><circle cx="698.4" cy="288.2" r="2.75"/><circle cx="698.4" cy="286" r="2.75"/><circle cx="698.5" cy="290.6" r="2.75"/><circle cx="698.6" cy="289.8" r="2.75"/><circle cx="698.8" cy="287.5" r="2.75"/><circle cx="699.1" cy="288.4" r="2.75"/><circle cx="699.7" cy="290.9" r="2.75"/><circle cx="700.3" cy="253.7" r="2.75"/><circle cx="700.5" cy="261.6" r="2.75"/><circle cx="700.5" cy="265.9" r="2.75"/><circle cx="700.8" cy="254.2" r="2.75"/><circle cx="700.9" cy="256.7" r="2.75"/><circle cx="700.9" cy="257.1" r="2.75"/><circle cx="701.1" cy="244.9" r="2.75"/><circle cx="701.5" cy="249" r="2.75"/><circle cx="701.6" cy="259" r="2.75"/><circle cx="701.7" cy="261.7" r="2.75"/><circle cx="701.9" cy="264.3" r="2.75"/><circle cx="701.9" cy="263" r="2.75"/><circle cx="702" cy="260.5" r="2.75"/><circle cx="702.5" cy="249.9" r="2.75"/><circle cx="702.6" cy="249.3" r="2.75"/><circle cx="702.7" cy="254.9" r="2.75"/><circle cx="702.8" cy="258.3" r="2.75"/><circle cx="703" cy="247" r="2.75"/><circle cx="703.1" cy="256.4" r="2.75"/><circle cx="704.8" cy="250.2" r="2.75"/><circle cx="704.9" cy="248.8" r="2.75"/><circle cx="705.4" cy="258.4" r="2.75"/><circle cx="705.5" cy="270.1" r="2.75"/><circle cx="705.9" cy="254.7" r="2.75"/><circle cx="705.9" cy="254.5" r="2.75"/><circle cx="706.7" cy="239.8" r="2.75"/><circle cx="706.8" cy="240.7" r="2.75"/><circle cx="707.3" cy="251.4" r="2.75"/><circle cx="707.5" cy="240.2" r="2.75"/><circle cx="707.6" cy="255" r="2.75"/><circle cx="707.8" cy="238" r="2.75"/><circle cx="708.1" cy="242.1" r="2.75"/><circle cx="708.7" cy="244.9" r="2.75"/><circle cx="709.9" cy="239.1" r="2.75"/><circle cx="709.9" cy="266.3" r="2.75"/><circle cx="711.4" cy="245.5" r="2.75"/><circle cx="712.2" cy="256.5" r="2.75"/><circle cx="712.4" cy="241.7" r="2.75"/><circle cx="713.8" cy="237.2" r="2.75"/><circle cx="714.2" cy="241.3" r="2.75"/><circle cx="714.5" cy="257.6" r="2.75"/><circle cx="714.8" cy="267.7" r="2.75"/><circle cx="714.8" cy="262" r="2.75"/><circle cx="715.6" cy="256.4" r="2.75"/><circle cx="715.6" cy="266.8" r="2.75"/><circle cx="715.6" cy="251" r="2.75"/><circle cx="715.7" cy="242.6" r="2.75"/><circle cx="716.1" cy="260.7" r="2.75"/><circle cx="716.1" cy="268.8" r="2.75"/><circle cx="716.6" cy="268.1" r="2.75"/><circle cx="717.2" cy="251.2" r="2.75"/><circle cx="717.8" cy="241.6" r="2.75"/><circle cx="718.5" cy="247.8" r="2.75"/><circle cx="718.6" cy="267.8" r="2.75"/><circle cx="718.7" cy="260.1" r="2.75"/><circle cx="719" cy="266.2" r="2.75"/><circle cx="719.5" cy="240.8" r="2.75"/><circle cx="719.5" cy="265.1" r="2.75"/><circle cx="720.1" cy="250.6" r="2.75"/><circle cx="722.1" cy="239.2" r="2.75"/><circle cx="722.8" cy="237.2" r="2.75"/><circle cx="723.8" cy="238.4" r="2.75"/><circle cx="723.8" cy="243.5" r="2.75"/><circle cx="724.1" cy="237.5" r="2.75"/><circle cx="724.2" cy="244.6" r="2.75"/><circle cx="724.6" cy="269.5" r="2.75"/><circle cx="725.1" cy="269.9" r="2.75"/><circle cx="726.8" cy="269.2" r="2.75"/><circle cx="726.9" cy="269.4" r="2.75"/><circle cx="727.3" cy="258.9" r="2.75"/><circle cx="727.4" cy="268.2" r="2.75"/><circle cx="727.8" cy="260.6" r="2.75"/><circle cx="727.8" cy="245.6" r="2.75"/><circle cx="727.8" cy="255.4" r="2.75"/><circle cx="728.5" cy="246.4" r="2.75"/><circle cx="729.7" cy="238.6" r="2.75"/><circle cx="729.8" cy="240.9" r="2.75"/><circle cx="730" cy="238.8" r="2.75"/><circle cx="730.8" cy="258" r="2.75"/><circle cx="731.2" cy="243.6" r="2.75"/><circle cx="732.8" cy="241.3" r="2.75"/><circle cx="733.7" cy="250.3" r="2.75"/><circle cx="733.8" cy="248.5" r="2.75"/><circle cx="734.2" cy="245.3" r="2.75"/><circle cx="734.6" cy="240.9" r="2.75"/><circle cx="734.6" cy="241.1" r="2.75"/><circle cx="734.8" cy="266.1" r="2.75"/><circle cx="728.9" cy="284.6" r="2.75"/><circle cx="729.1" cy="286.6" r="2.75"/><circle cx="729.1" cy="286.6" r="2.75"/><circle cx="729.2" cy="285.2" r="2.75"/><circle cx="729.2" cy="286.4" r="2.75"/><circle cx="729.3" cy="286.7" r="2.75"/><circle cx="729.3" cy="284.2" r="2.75"/><circle cx="729.3" cy="284.2" r="2.75"/><circle cx="729.7" cy="284.4" r="2.75"/><circle cx="729.8" cy="286.5" r="2.75"/><circle cx="729.9" cy="283.7" r="2.75"/><circle cx="730.2" cy="282.7" r="2.75"/><circle cx="730.2" cy="276.1" r="2.75"/><circle cx="730.2" cy="277.7" r="2.75"/><circle cx="733.7" cy="218.1" r="2.75"/><circle cx="733.7" cy="221.3" r="2.75"/><circle cx="734.2" cy="225.9" r="2.75"/><circle cx="734.6" cy="220.8" r="2.75"/><circle cx="734.8" cy="219.7" r="2.75"/><circle cx="735.3" cy="228.3" r="2.75"/><circle cx="735.4" cy="219.8" r="2.75"/><circle cx="735.4" cy="227" r="2.75"/><circle cx="735.4" cy="233.4" r="2.75"/><circle cx="735.4" cy="238.4" r="2.75"/><circle cx="735.7" cy="241" r="2.75"/><circle cx="735.8" cy="230.4" r="2.75"/><circle cx="735.8" cy="227" r="2.75"/><circle cx="736.1" cy="227" r="2.75"/><circle cx="736.3" cy="230.4" r="2.75"/><circle cx="736.9" cy="244.1" r="2.75"/><circle cx="736.9" cy="242.2" r="2.75"/><circle cx="737.1" cy="239.5" r="2.75"/><circle cx="737.2" cy="237.2" r="2.75"/><circle cx="737.3" cy="240.4" r="2.75"/><circle cx="738.2" cy="239" r="2.75"/><circle cx="738.2" cy="242" r="2.75"/><circle cx="740.2" cy="240.8" r="2.75"/><circle cx="740.5" cy="242.2" r="2.75"/><circle cx="741" cy="270.6" r="2.75"/><circle cx="741.1" cy="245.6" r="2.75"/><circle cx="742.4" cy="258" r="2.75"/><circle cx="743.1" cy="272.1" r="2.75"/><circle cx="743.2" cy="248.7" r="2.75"/><circle cx="743.3" cy="250" r="2.75"/><circle cx="743.8" cy="248.8" r="2.75"/><circle cx="744" cy="243.9" r="2.75"/><circle cx="744.5" cy="259.8" r="2.75"/><circle cx="746.7" cy="264.6" r="2.75"/><circle cx="748.6" cy="265.9" r="2.75"/><circle cx="749" cy="273.6" r="2.75"/><circle cx="749.2" cy="266.9" r="2.75"/><circle cx="749.3" cy="267.1" r="2.75"/><circle cx="749.3" cy="262.1" r="2.75"/><circle cx="749.4" cy="269.9" r="2.75"/><circle cx="749.5" cy="272.8" r="2.75"/><circle cx="749.7" cy="272.2" r="2.75"/><circle cx="749.7" cy="255.4" r="2.75"/><circle cx="751" cy="246.8" r="2.75"/><circle cx="751" cy="255.9" r="2.75"/><circle cx="752" cy="263.2" r="2.75"/><circle cx="752.6" cy="248" r="2.75"/><circle cx="752.8" cy="268.3" r="2.75"/><circle cx="752.9" cy="263.6" r="2.75"/><circle cx="753.3" cy="243.8" r="2.75"/><circle cx="753.4" cy="249" r="2.75"/><circle cx="753.7" cy="248.8" r="2.75"/><circle cx="753.9" cy="249.4" r="2.75"/><circle cx="753.9" cy="245.6" r="2.75"/><circle cx="754.3" cy="263.4" r="2.75"/><circle cx="754.4" cy="271.7" r="2.75"/><circle cx="755.3" cy="262.8" r="2.75"/><circle cx="755.7" cy="256.1" r="2.75"/><circle cx="755.7" cy="273.9" r="2.75"/><circle cx="755.8" cy="272.9" r="2.75"/><circle cx="755.9" cy="273.8" r="2.75"/><circle cx="756" cy="268.1" r="2.75"/><circle cx="756" cy="272.2" r="2.75"/><circle cx="756.2" cy="252.6" r="2.75"/><circle cx="756.2" cy="262.2" r="2.75"/><circle cx="756.3" cy="240.7" r="2.75"/><circle cx="756.3" cy="247.7" r="2.75"/><circle cx="756.4" cy="246.7" r="2.75"/><circle cx="756.5" cy="247.9" r="2.75"/><circle cx="756.8" cy="247.7" r="2.75"/><circle cx="757" cy="262.5" r="2.75"/><circle cx="759.3" cy="260.3" r="2.75"/><circle cx="759.6" cy="272.9" r="2.75"/><circle cx="759.9" cy="262.2" r="2.75"/><circle cx="759.9" cy="251.6" r="2.75"/><circle cx="760.2" cy="252.7" r="2.75"/><circle cx="760.5" cy="268" r="2.75"/><circle cx="760.6" cy="248.5" r="2.75"/><circle cx="760.7" cy="240.1" r="2.75"/><circle cx="760.7" cy="246.8" r="2.75"/><circle cx="760.8" cy="242.9" r="2.75"/><circle cx="762" cy="243.3" r="2.75"/><circle cx="763.8" cy="259.2" r="2.75"/><circle cx="764" cy="269.8" r="2.75"/><circle cx="764.3" cy="270.2" r="2.75"/><circle cx="764.7" cy="270.2" r="2.75"/><circle cx="764.8" cy="273.5" r="2.75"/><circle cx="765.2" cy="272.7" r="2.75"/><circle cx="765.2" cy="293.6" r="2.75"/><circle cx="765.5" cy="289.8" r="2.75"/><circle cx="766.1" cy="293.5" r="2.75"/><circle cx="766.3" cy="275.2" r="2.75"/><circle cx="766.4" cy="298.7" r="2.75"/><circle cx="766.6" cy="298.5" r="2.75"/><circle cx="766.7" cy="299.6" r="2.75"/><circle cx="767.2" cy="299.1" r="2.75"/><circle cx="767.3" cy="296.8" r="2.75"/><circle cx="767.6" cy="284.6" r="2.75"/><circle cx="767.6" cy="273.6" r="2.75"/><circle cx="767.7" cy="278.4" r="2.75"/><circle cx="767.7" cy="279.2" r="2.75"/><circle cx="767.8" cy="298.5" r="2.75"/><circle cx="768" cy="275.1" r="2.75"/><circle cx="768.3" cy="276.5" r="2.75"/><circle cx="761.9" cy="270.8" r="2.75"/><circle cx="762.5" cy="268.5" r="2.75"/><circle cx="762.9" cy="275.2" r="2.75"/><circle cx="763" cy="267.7" r="2.75"/><circle cx="763.4" cy="267" r="2.75"/><circle cx="763.5" cy="274.4" r="2.75"/><circle cx="763.7" cy="287.4" r="2.75"/><circle cx="764.3" cy="279.2" r="2.75"/><circle cx="764.4" cy="270.3" r="2.75"/><circle cx="764.6" cy="276.5" r="2.75"/><circle cx="765.3" cy="277.1" r="2.75"/><circle cx="765.4" cy="284.2" r="2.75"/><circle cx="765.6" cy="290.1" r="2.75"/><circle cx="765.7" cy="289.8" r="2.75"/><circle cx="765.7" cy="276.4" r="2.75"/><circle cx="765.7" cy="279.6" r="2.75"/><circle cx="765.9" cy="282.7" r="2.75"/><circle cx="766.3" cy="273.8" r="2.75"/><circle cx="766.4" cy="271" r="2.75"/><circle cx="766.5" cy="272.4" r="2.75"/><circle cx="767" cy="279.6" r="2.75"/><circle cx="767" cy="282.1" r="2.75"/><circle cx="767.1" cy="293.8" r="2.75"/><circle cx="767.2" cy="288.7" r="2.75"/><circle cx="767.6" cy="279.6" r="2.75"/><circle cx="767.6" cy="273.2" r="2.75"/><circle cx="767.7" cy="281" r="2.75"/><circle cx="768.5" cy="278.6" r="2.75"/><circle cx="769" cy="275.5" r="2.75"/><circle cx="769.5" cy="301" r="2.75"/><circle cx="769.7" cy="277.9" r="2.75"/><circle cx="769.7" cy="279.8" r="2.75"/><circle cx="770" cy="280.5" r="2.75"/><circle cx="770.3" cy="280.4" r="2.75"/><circle cx="770.6" cy="300.3" r="2.75"/><circle cx="771.2" cy="299.5" r="2.75"/><circle cx="771.8" cy="305.2" r="2.75"/><circle cx="771.8" cy="311.8" r="2.75"/><circle cx="771.9" cy="306.1" r="2.75"/><circle cx="772.1" cy="303.2" r="2.75"/><circle cx="773.2" cy="300.1" r="2.75"/><circle cx="773.4" cy="298.7" r="2.75"/><circle cx="773.4" cy="301.2" r="2.75"/><circle cx="773.6" cy="298.6" r="2.75"/><circle cx="773.8" cy="299.5" r="2.75"/><circle cx="775.2" cy="304.8" r="2.75"/><circle cx="775.2" cy="319.7" r="2.75"/><circle cx="775.3" cy="312" r="2.75"/><circle cx="775.4" cy="300" r="2.75"/><circle cx="775.4" cy="310.8" r="2.75"/><circle cx="775.4" cy="305.1" r="2.75"/><circle cx="775.5" cy="309.6" r="2.75"/><circle cx="775.7" cy="307.2" r="2.75"/><circle cx="776.5" cy="312" r="2.75"/><circle cx="776.5" cy="314.6" r="2.75"/><circle cx="776.7" cy="300.2" r="2.75"/><circle cx="777.6" cy="320" r="2.75"/><circle cx="777.8" cy="314.9" r="2.75"/><circle cx="778.3" cy="295.2" r="2.75"/><circle cx="778.6" cy="307.2" r="2.75"/><circle cx="778.6" cy="304.2" r="2.75"/><circle cx="778.6" cy="305.7" r="2.75"/><circle cx="778.7" cy="323" r="2.75"/><circle cx="778.8" cy="312" r="2.75"/><circle cx="778.8" cy="323.3" r="2.75"/><circle cx="778.9" cy="298.1" r="2.75"/><circle cx="779" cy="312.8" r="2.75"/><circle cx="779" cy="304.7" r="2.75"/><circle cx="779.1" cy="298.1" r="2.75"/><circle cx="779.1" cy="309.4" r="2.75"/><circle cx="779.2" cy="299.2" r="2.75"/><circle cx="779.7" cy="294.4" r="2.75"/><circle cx="781" cy="295.9" r="2.75"/><circle cx="781.2" cy="299.1" r="2.75"/><circle cx="781.5" cy="317.4" r="2.75"/><circle cx="781.6" cy="321.7" r="2.75"/><circle cx="782" cy="318.6" r="2.75"/><circle cx="782" cy="317.8" r="2.75"/><circle cx="783.2" cy="312.2" r="2.75"/><circle cx="783.4" cy="320.1" r="2.75"/><circle cx="783.9" cy="300.9" r="2.75"/><circle cx="784.7" cy="299.1" r="2.75"/><circle cx="784.9" cy="296.9" r="2.75"/><circle cx="781.7" cy="315.4" r="2.75"/><circle cx="781.7" cy="308" r="2.75"/><circle cx="781.8" cy="327.9" r="2.75"/><circle cx="782" cy="310.8" r="2.75"/><circle cx="782.4" cy="311.3" r="2.75"/><circle cx="782.8" cy="329.1" r="2.75"/><circle cx="783.1" cy="331.5" r="2.75"/><circle cx="783.1" cy="331.1" r="2.75"/><circle cx="783.3" cy="339.8" r="2.75"/><circle cx="784.4" cy="317.6" r="2.75"/><circle cx="784.7" cy="326" r="2.75"/><circle cx="784.8" cy="311.6" r="2.75"/><circle cx="785.2" cy="315" r="2.75"/><circle cx="785.2" cy="319.3" r="2.75"/><circle cx="785.3" cy="317.9" r="2.75"/><circle cx="785.6" cy="311.7" r="2.75"/><circle cx="785.8" cy="316.9" r="2.75"/><circle cx="786.1" cy="314.8" r="2.75"/><circle cx="786.2" cy="313" r="2.75"/><circle cx="786.5" cy="307.7" r="2.75"/><circle cx="786.5" cy="341.9" r="2.75"/><circle cx="786.8" cy="336.9" r="2.75"/><circle cx="787.6" cy="317" r="2.75"/><circle cx="788.6" cy="310.7" r="2.75"/><circle cx="788.7" cy="311.3" r="2.75"/><circle cx="789.1" cy="326.2" r="2.75"/><circle cx="789.8" cy="307.1" r="2.75"/><circle cx="789.9" cy="307.1" r="2.75"/><circle cx="790" cy="310.7" r="2.75"/><circle cx="791.5" cy="310.4" r="2.75"/><circle cx="791.7" cy="308.8" r="2.75"/><circle cx="791.7" cy="316.9" r="2.75"/><circle cx="791.8" cy="307.1" r="2.75"/><circle cx="791.9" cy="317.6" r="2.75"/><circle cx="792.4" cy="308.6" r="2.75"/><circle cx="793.2" cy="312.6" r="2.75"/><circle cx="793.3" cy="310.7" r="2.75"/><circle cx="795" cy="318.6" r="2.75"/><circle cx="795.1" cy="312.1" r="2.75"/><circle cx="795.9" cy="313.7" r="2.75"/><circle cx="795.9" cy="318.8" r="2.75"/><circle cx="796.4" cy="326" r="2.75"/><circle cx="796.6" cy="317" r="2.75"/><circle cx="796.8" cy="321.4" r="2.75"/><circle cx="796.8" cy="337" r="2.75"/><circle cx="797" cy="328.6" r="2.75"/><circle cx="797.4" cy="333.8" r="2.75"/><circle cx="797.5" cy="310.6" r="2.75"/><circle cx="798.2" cy="312.3" r="2.75"/><circle cx="799" cy="315.1" r="2.75"/><circle cx="799" cy="324.1" r="2.75"/><circle cx="799.3" cy="311.6" r="2.75"/><circle cx="799.8" cy="342.9" r="2.75"/><circle cx="800.3" cy="326.8" r="2.75"/><circle cx="800.4" cy="337.2" r="2.75"/><circle cx="800.6" cy="319.2" r="2.75"/><circle cx="800.7" cy="331.8" r="2.75"/><circle cx="800.9" cy="335.1" r="2.75"/><circle cx="801" cy="318.2" r="2.75"/><circle cx="801.6" cy="315.9" r="2.75"/><circle cx="801.7" cy="322.9" r="2.75"/><circle cx="802" cy="336.4" r="2.75"/><circle cx="802.8" cy="324.5" r="2.75"/><circle cx="802.9" cy="306.6" r="2.75"/><circle cx="803.3" cy="314.9" r="2.75"/><circle cx="803.7" cy="311.8" r="2.75"/><circle cx="803.9" cy="324.1" r="2.75"/><circle cx="804.3" cy="326.9" r="2.75"/><circle cx="804.4" cy="337.8" r="2.75"/><circle cx="804.9" cy="336.8" r="2.75"/><circle cx="805.4" cy="330.2" r="2.75"/><circle cx="805.5" cy="341.5" r="2.75"/><circle cx="805.5" cy="327.3" r="2.75"/><circle cx="806.2" cy="331" r="2.75"/><circle cx="806.3" cy="333.5" r="2.75"/><circle cx="806.5" cy="329" r="2.75"/><circle cx="806.9" cy="313.5" r="2.75"/><circle cx="807.1" cy="306.8" r="2.75"/><circle cx="807.3" cy="306.8" r="2.75"/><circle cx="807.3" cy="310.7" r="2.75"/><circle cx="807.4" cy="323" r="2.75"/><circle cx="807.5" cy="316.2" r="2.75"/><circle cx="807.6" cy="312.7" r="2.75"/><circle cx="807.7" cy="308.7" r="2.75"/><circle cx="808.7" cy="380.7" r="2.75"/><circle cx="808.8" cy="393.1" r="2.75"/><circle cx="808.8" cy="394.7" r="2.75"/><circle cx="808.8" cy="394.1" r="2.75"/><circle cx="809" cy="387.9" r="2.75"/><circle cx="809.2" cy="394.4" r="2.75"/><circle cx="809.4" cy="397.2" r="2.75"/><circle cx="809.7" cy="392.5" r="2.75"/><circle cx="810.2" cy="392.2" r="2.75"/><circle cx="810.5" cy="386.5" r="2.75"/><circle cx="810.8" cy="389.6" r="2.75"/><circle cx="811.3" cy="386.2" r="2.75"/><circle cx="811.7" cy="379.1" r="2.75"/><circle cx="811.9" cy="382.9" r="2.75"/><circle cx="811.9" cy="391.6" r="2.75"/><circle cx="812" cy="388.2" r="2.75"/><circle cx="812" cy="394.2" r="2.75"/><circle cx="812.1" cy="391.3" r="2.75"/><circle cx="812.4" cy="389.8" r="2.75"/><circle cx="812.4" cy="379.6" r="2.75"/><circle cx="812.6" cy="383" r="2.75"/><circle cx="812.7" cy="386.1" r="2.75"/><circle cx="815.7" cy="386.4" r="2.75"/><circle cx="816.6" cy="380.3" r="2.75"/><circle cx="816.7" cy="385.9" r="2.75"/><circle cx="818.3" cy="393.3" r="2.75"/><circle cx="819.2" cy="384.1" r="2.75"/><circle cx="819.4" cy="391.1" r="2.75"/><circle cx="819.4" cy="401.5" r="2.75"/><circle cx="819.7" cy="399.9" r="2.75"/><circle cx="819.8" cy="392.1" r="2.75"/><circle cx="820" cy="402.1" r="2.75"/><circle cx="820.1" cy="389.9" r="2.75"/><circle cx="820.6" cy="384.8" r="2.75"/><circle cx="820.6" cy="391.9" r="2.75"/><circle cx="821.8" cy="384.5" r="2.75"/><circle cx="823" cy="384.8" r="2.75"/><circle cx="823.1" cy="398.7" r="2.75"/><circle cx="823.4" cy="395.1" r="2.75"/><circle cx="824.1" cy="402.4" r="2.75"/><circle cx="824.6" cy="395.7" r="2.75"/><circle cx="824.6" cy="402.6" r="2.75"/><circle cx="825.3" cy="402.6" r="2.75"/><circle cx="825.5" cy="391.9" r="2.75"/><circle cx="825.8" cy="384.4" r="2.75"/><circle cx="826.4" cy="395.1" r="2.75"/><circle cx="826.5" cy="379.5" r="2.75"/><circle cx="826.6" cy="392.8" r="2.75"/><circle cx="826.7" cy="389.7" r="2.75"/><circle cx="827.1" cy="390.2" r="2.75"/><circle cx="827.2" cy="381.3" r="2.75"/><circle cx="827.3" cy="382.8" r="2.75"/><circle cx="827.7" cy="381.8" r="2.75"/><circle cx="827.8" cy="385.9" r="2.75"/><circle cx="827.9" cy="396.6" r="2.75"/><circle cx="828" cy="388.7" r="2.75"/><circle cx="828" cy="385.3" r="2.75"/><circle cx="828.3" cy="379" r="2.75"/><circle cx="828.4" cy="391.2" r="2.75"/><circle cx="830" cy="401.7" r="2.75"/><circle cx="830.2" cy="392.8" r="2.75"/><circle cx="830.8" cy="389.7" r="2.75"/><circle cx="831" cy="391.5" r="2.75"/><circle cx="831.2" cy="384.9" r="2.75"/><circle cx="831.3" cy="379.3" r="2.75"/><circle cx="831.3" cy="380.8" r="2.75"/><circle cx="831.5" cy="391.4" r="2.75"/><circle cx="831.6" cy="393.8" r="2.75"/><circle cx="831.9" cy="394.4" r="2.75"/><circle cx="831.9" cy="388.6" r="2.75"/><circle cx="832.1" cy="399.6" r="2.75"/><circle cx="832.3" cy="389.8" r="2.75"/><circle cx="832.3" cy="394.4" r="2.75"/><circle cx="832.5" cy="391.8" r="2.75"/><circle cx="832.8" cy="403" r="2.75"/><circle cx="832.8" cy="394.8" r="2.75"/><circle cx="833.2" cy="401.3" r="2.75"/><circle cx="833.2" cy="398.6" r="2.75"/><circle cx="833.2" cy="395.8" r="2.75"/><circle cx="833.4" cy="393.6" r="2.75"/><circle cx="833.7" cy="379.9" r="2.75"/><circle cx="833.8" cy="379.2" r="2.75"/><circle cx="833.9" cy="389.6" r="2.75"/><circle cx="833.9" cy="400.1" r="2.75"/><circle cx="834.9" cy="391.9" r="2.75"/><circle cx="835" cy="388.8" r="2.75"/><circle cx="822.7" cy="412.5" r="2.75"/><circle cx="822.9" cy="411" r="2.75"/><circle cx="822.9" cy="415.8" r="2.75"/><circle cx="823.3" cy="411.1" r="2.75"/><circle cx="823.5" cy="408.2" r="2.75"/><circle cx="823.6" cy="414.9" r="2.75"/><circle cx="823.7" cy="415.8" r="2.75"/><circle cx="823.7" cy="415.7" r="2.75"/><circle cx="823.8" cy="414.6" r="2.75"/><circle cx="823.8" cy="408.8" r="2.75"/><circle cx="824" cy="407.6" r="2.75"/><circle cx="824.4" cy="409.2" r="2.75"/><circle cx="824.6" cy="414.7" r="2.75"/><circle cx="824.7" cy="415.5" r="2.75"/><circle cx="824.9" cy="412.4" r="2.75"/><circle cx="825.1" cy="414.2" r="2.75"/><circle cx="836" cy="412.5" r="2.75"/><circle cx="836.2" cy="399.1" r="2.75"/><circle cx="836.2" cy="405.6" r="2.75"/><circle cx="836.2" cy="404.2" r="2.75"/><circle cx="836.8" cy="404.6" r="2.75"/><circle cx="837" cy="409.8" r="2.75"/><circle cx="837.7" cy="408.4" r="2.75"/><circle cx="837.9" cy="411.8" r="2.75"/><circle cx="838.6" cy="400.9" r="2.75"/><circle cx="838.8" cy="403.5" r="2.75"/><circle cx="839.2" cy="405.9" r="2.75"/><circle cx="839.6" cy="406" r="2.75"/><circle cx="839.6" cy="413.9" r="2.75"/><circle cx="839.9" cy="407.8" r="2.75"/><circle cx="840.3" cy="404.2" r="2.75"/><circle cx="841.4" cy="418.2" r="2.75"/><circle cx="841.6" cy="411.4" r="2.75"/><circle cx="842.1" cy="416.2" r="2.75"/><circle cx="842.5" cy="414" r="2.75"/><circle cx="843" cy="408.1" r="2.75"/><circle cx="843.2" cy="414" r="2.75"/><circle cx="843.3" cy="406.8" r="2.75"/><circle cx="843.8" cy="413.9" r="2.75"/><circle cx="843.9" cy="411.6" r="2.75"/><circle cx="844" cy="410.9" r="2.75"/><circle cx="844.9" cy="409.8" r="2.75"/><circle cx="845.1" cy="413" r="2.75"/><circle cx="845.6" cy="420.3" r="2.75"/><circle cx="846.2" cy="420.6" r="2.75"/><circle cx="846.3" cy="421.2" r="2.75"/><circle cx="846.3" cy="417.9" r="2.75"/><circle cx="847.1" cy="418.5" r="2.75"/><circle cx="848.1" cy="412" r="2.75"/><circle cx="848.1" cy="414.3" r="2.75"/><circle cx="848.4" cy="415.1" r="2.75"/><circle cx="848.4" cy="412.3" r="2.75"/><circle cx="848.7" cy="414.6" r="2.75"/><circle cx="848.7" cy="415.6" r="2.75"/><circle cx="849" cy="417.8" r="2.75"/><circle cx="849.4" cy="423.9" r="2.75"/><circle cx="850.5" cy="415.7" r="2.75"/><circle cx="850.5" cy="420.9" r="2.75"/><circle cx="850.6" cy="415.3" r="2.75"/><circle cx="850.7" cy="418.7" r="2.75"/><circle cx="850.8" cy="418.1" r="2.75"/><circle cx="850.9" cy="424.6" r="2.75"/><circle cx="851.1" cy="422.2" r="2.75"/><circle cx="851.3" cy="425.2" r="2.75"/><circle cx="851.8" cy="424" r="2.75"/><circle cx="851.8" cy="427.4" r="2.75"/><circle cx="851.9" cy="427" r="2.75"/><circle cx="852" cy="428.1" r="2.75"/><circle cx="852" cy="425.3" r="2.75"/><circle cx="852" cy="416.9" r="2.75"/><circle cx="852.3" cy="419" r="2.75"/><circle cx="853.1" cy="425.4" r="2.75"/><circle cx="853.3" cy="427.1" r="2.75"/><circle cx="853.7" cy="427.4" r="2.75"/><circle cx="853.9" cy="428" r="2.75"/><circle cx="854.1" cy="429.7" r="2.75"/><circle cx="854.2" cy="425.1" r="2.75"/><circle cx="854.7" cy="423.5" r="2.75"/><circle cx="854.8" cy="425.2" r="2.75"/><circle cx="855.2" cy="428" r="2.75"/><circle cx="853.7" cy="400.7" r="2.75"/><circle cx="853.7" cy="400.9" r="2.75"/><circle cx="853.7" cy="400.3" r="2.75"/><circle cx="853.7" cy="401.7" r="2.75"/><circle cx="853.7" cy="400.3" r="2.75"/><circle cx="853.7" cy="399.8" r="2.75"/><circle cx="853.7" cy="401.2" r="2.75"/><circle cx="853.7" cy="400.3" r="2.75"/><circle cx="855.7" cy="449.7" r="2.75"/><circle cx="855.9" cy="441" r="2.75"/><circle cx="856" cy="442.1" r="2.75"/><circle cx="856.5" cy="449.9" r="2.75"/><circle cx="856.7" cy="451.2" r="2.75"/><circle cx="856.8" cy="442" r="2.75"/><circle cx="856.8" cy="442.1" r="2.75"/><circle cx="856.8" cy="448.1" r="2.75"/><circle cx="856.8" cy="448.7" r="2.75"/><circle cx="856.9" cy="450.4" r="2.75"/><circle cx="857.5" cy="451.8" r="2.75"/><circle cx="857.8" cy="448.6" r="2.75"/><circle cx="857.8" cy="448.8" r="2.75"/><circle cx="857.9" cy="449.2" r="2.75"/><circle cx="858" cy="451.2" r="2.75"/><circle cx="858.1" cy="450.7" r="2.75"/><circle cx="857.9" cy="465.1" r="2.75"/><circle cx="858" cy="457" r="2.75"/><circle cx="858.3" cy="464.1" r="2.75"/><circle cx="858.3" cy="470.7" r="2.75"/><circle cx="858.9" cy="473.1" r="2.75"/><circle cx="859.8" cy="464.8" r="2.75"/><circle cx="860" cy="456" r="2.75"/><circle cx="860.1" cy="462.8" r="2.75"/><circle cx="860.2" cy="461.1" r="2.75"/><circle cx="860.2" cy="459.4" r="2.75"/><circle cx="860.3" cy="458.7" r="2.75"/><circle cx="860.4" cy="461.3" r="2.75"/><circle cx="860.7" cy="463.6" r="2.75"/><circle cx="860.7" cy="471" r="2.75"/><circle cx="861" cy="463.6" r="2.75"/><circle cx="861.2" cy="463.9" r="2.75"/><circle cx="861.2" cy="457" r="2.75"/><circle cx="861.3" cy="459.5" r="2.75"/><circle cx="861.8" cy="460.2" r="2.75"/><circle cx="862.1" cy="457.6" r="2.75"/><circle cx="862.3" cy="465.8" r="2.75"/><circle cx="862.6" cy="455.7" r="2.75"/><circle cx="862.7" cy="469.5" r="2.75"/><circle cx="863.4" cy="472.9" r="2.75"/><circle cx="863.5" cy="468" r="2.75"/><circle cx="863.6" cy="471" r="2.75"/><circle cx="863.9" cy="465.7" r="2.75"/><circle cx="864.2" cy="461.7" r="2.75"/><circle cx="865.7" cy="441.2" r="2.75"/><circle cx="865.7" cy="436.8" r="2.75"/><circle cx="865.9" cy="445.2" r="2.75"/><circle cx="866.1" cy="443.8" r="2.75"/><circle cx="866.9" cy="447.7" r="2.75"/><circle cx="867" cy="442.2" r="2.75"/><circle cx="867" cy="441" r="2.75"/><circle cx="867.2" cy="439.2" r="2.75"/><circle cx="867.5" cy="436.4" r="2.75"/><circle cx="868" cy="441.4" r="2.75"/><circle cx="868.1" cy="436.6" r="2.75"/><circle cx="868.7" cy="438.5" r="2.75"/><circle cx="868.9" cy="444.8" r="2.75"/><circle cx="869.3" cy="448.9" r="2.75"/><circle cx="869.6" cy="449.1" r="2.75"/><circle cx="869.7" cy="441.7" r="2.75"/><circle cx="869.8" cy="443.3" r="2.75"/><circle cx="870.2" cy="439" r="2.75"/><circle cx="870.3" cy="439.3" r="2.75"/><circle cx="871" cy="438.4" r="2.75"/><circle cx="871" cy="435.6" r="2.75"/><circle cx="871.3" cy="436.2" r="2.75"/><circle cx="871.4" cy="436.7" r="2.75"/><circle cx="871.4" cy="442.1" r="2.75"/><circle cx="871.5" cy="445.6" r="2.75"/><circle cx="871.6" cy="446.3" r="2.75"/><circle cx="871.9" cy="442" r="2.75"/><circle cx="872.4" cy="443.2" r="2.75"/><circle cx="872.5" cy="436.5" r="2.75"/><circle cx="872.5" cy="435.6" r="2.75"/><circle cx="873" cy="446.9" r="2.75"/><circle cx="873.2" cy="446.3" r="2.75"/><circle cx="873.3" cy="446.9" r="2.75"/><circle cx="873.8" cy="444" r="2.75"/><circle cx="874.1" cy="441.5" r="2.75"/><circle cx="874.3" cy="439" r="2.75"/><circle cx="874.2" cy="429.1" r="2.75"/><circle cx="874.5" cy="430.5" r="2.75"/><circle cx="875.2" cy="425.4" r="2.75"/><circle cx="875.3" cy="430.7" r="2.75"/><circle cx="875.4" cy="429" r="2.75"/><circle cx="875.4" cy="422.7" r="2.75"/><circle cx="875.6" cy="431.5" r="2.75"/><circle cx="875.9" cy="432.3" r="2.75"/><circle cx="875.9" cy="425.7" r="2.75"/><circle cx="876" cy="431.4" r="2.75"/><circle cx="876.1" cy="423.8" r="2.75"/><circle cx="876.4" cy="420.1" r="2.75"/><circle cx="876.5" cy="417.1" r="2.75"/><circle cx="877.3" cy="426.3" r="2.75"/><circle cx="878.2" cy="430.3" r="2.75"/><circle cx="878.3" cy="417.1" r="2.75"/><circle cx="879" cy="415.5" r="2.75"/><circle cx="879" cy="421" r="2.75"/><circle cx="879.2" cy="422.7" r="2.75"/><circle cx="879.2" cy="431.9" r="2.75"/><circle cx="879.8" cy="428" r="2.75"/><circle cx="880.1" cy="430.9" r="2.75"/><circle cx="880.5" cy="419.9" r="2.75"/><circle cx="880.7" cy="408.1" r="2.75"/><circle cx="880.7" cy="419.3" r="2.75"/><circle cx="881.4" cy="422.2" r="2.75"/><circle cx="881.5" cy="420.2" r="2.75"/><circle cx="881.5" cy="415.7" r="2.75"/><circle cx="881.6" cy="423.9" r="2.75"/><circle cx="881.7" cy="415.2" r="2.75"/><circle cx="881.9" cy="422.2" r="2.75"/><circle cx="882.2" cy="425.8" r="2.75"/><circle cx="882.3" cy="427.7" r="2.75"/><circle cx="882.3" cy="382.9" r="2.75"/><circle cx="882.4" cy="373.2" r="2.75"/><circle cx="883" cy="369.8" r="2.75"/><circle cx="883.3" cy="371.6" r="2.75"/><circle cx="883.4" cy="379.4" r="2.75"/><circle cx="883.8" cy="381.3" r="2.75"/><circle cx="884.3" cy="385.4" r="2.75"/><circle cx="884.6" cy="384.4" r="2.75"/><circle cx="885.1" cy="375.8" r="2.75"/><circle cx="885.4" cy="366.1" r="2.75"/><circle cx="885.6" cy="369.1" r="2.75"/><circle cx="886" cy="382.6" r="2.75"/><circle cx="886.1" cy="365.4" r="2.75"/><circle cx="886.2" cy="368.5" r="2.75"/><circle cx="886.4" cy="373.5" r="2.75"/><circle cx="886.7" cy="368.9" r="2.75"/><circle cx="887.9" cy="364.7" r="2.75"/><circle cx="888" cy="371.1" r="2.75"/><circle cx="888.1" cy="383.3" r="2.75"/><circle cx="888.7" cy="371.6" r="2.75"/><circle cx="888.8" cy="366.6" r="2.75"/><circle cx="888.8" cy="362" r="2.75"/><circle cx="889" cy="363.9" r="2.75"/><circle cx="889.1" cy="366.1" r="2.75"/><circle cx="889.1" cy="376.2" r="2.75"/><circle cx="889.7" cy="362.7" r="2.75"/><circle cx="890.6" cy="359.9" r="2.75"/><circle cx="891.4" cy="367.5" r="2.75"/><circle cx="891.8" cy="362.2" r="2.75"/><circle cx="891.8" cy="364.3" r="2.75"/><circle cx="892" cy="386.5" r="2.75"/><circle cx="892.5" cy="366.8" r="2.75"/><circle cx="892.8" cy="384.6" r="2.75"/><circle cx="893.3" cy="363.3" r="2.75"/><circle cx="893.8" cy="366.6" r="2.75"/><circle cx="894" cy="378.5" r="2.75"/><circle cx="894.3" cy="383.2" r="2.75"/><circle cx="894.6" cy="373.8" r="2.75"/><circle cx="894.7" cy="380.7" r="2.75"/><circle cx="894.7" cy="376.9" r="2.75"/><circle cx="895" cy="371.4" r="2.75"/><circle cx="895.3" cy="374.1" r="2.75"/><circle cx="896" cy="379.5" r="2.75"/><circle cx="896.5" cy="376.9" r="2.75"/><circle cx="896.8" cy="376.1" r="2.75"/><circle cx="896.9" cy="362.8" r="2.75"/><circle cx="897.2" cy="361.7" r="2.75"/><circle cx="897.3" cy="370.1" r="2.75"/><circle cx="897.7" cy="370.8" r="2.75"/><circle cx="897.9" cy="368.1" r="2.75"/><circle cx="898.1" cy="370" r="2.75"/><circle cx="898.3" cy="383.5" r="2.75"/><circle cx="898.4" cy="368.5" r="2.75"/><circle cx="898.6" cy="376.5" r="2.75"/><circle cx="899" cy="371.5" r="2.75"/><circle cx="899.4" cy="381" r="2.75"/><circle cx="899.5" cy="381" r="2.75"/><circle cx="899.8" cy="376.5" r="2.75"/><circle cx="900" cy="381.4" r="2.75"/><circle cx="900" cy="364.2" r="2.75"/><circle cx="900.5" cy="368" r="2.75"/><circle cx="900.7" cy="363.5" r="2.75"/><circle cx="900.8" cy="366.7" r="2.75"/><circle cx="901" cy="383.6" r="2.75"/><circle cx="902" cy="347.1" r="2.75"/><circle cx="902.4" cy="343.7" r="2.75"/><circle cx="902.5" cy="343.8" r="2.75"/><circle cx="902.5" cy="357.2" r="2.75"/><circle cx="902.5" cy="357.3" r="2.75"/><circle cx="902.6" cy="347.5" r="2.75"/><circle cx="903" cy="347" r="2.75"/><circle cx="903.5" cy="357.4" r="2.75"/><circle cx="903.5" cy="342.9" r="2.75"/><circle cx="903.7" cy="353.3" r="2.75"/><circle cx="903.8" cy="359.3" r="2.75"/><circle cx="904.2" cy="360" r="2.75"/><circle cx="904.4" cy="351.8" r="2.75"/><circle cx="904.4" cy="349.9" r="2.75"/><circle cx="904.8" cy="350.3" r="2.75"/><circle cx="904.8" cy="344.5" r="2.75"/><circle cx="905" cy="345.7" r="2.75"/><circle cx="905.5" cy="357" r="2.75"/><circle cx="905.7" cy="359.4" r="2.75"/><circle cx="905.8" cy="352.4" r="2.75"/><circle cx="906.3" cy="352" r="2.75"/><circle cx="906.3" cy="347.3" r="2.75"/><circle cx="905" cy="301.6" r="2.75"/><circle cx="905.2" cy="300.2" r="2.75"/><circle cx="905.2" cy="296.4" r="2.75"/><circle cx="905.3" cy="298" r="2.75"/><circle cx="905.8" cy="304.8" r="2.75"/><circle cx="906.1" cy="297.2" r="2.75"/><circle cx="906.1" cy="305.9" r="2.75"/><circle cx="906.2" cy="303" r="2.75"/><circle cx="906.2" cy="306.1" r="2.75"/><circle cx="906.3" cy="306" r="2.75"/><circle cx="906.4" cy="305" r="2.75"/><circle cx="906.6" cy="306.8" r="2.75"/><circle cx="906.6" cy="299" r="2.75"/><circle cx="906.8" cy="298.3" r="2.75"/><circle cx="906.9" cy="298" r="2.75"/><circle cx="907.1" cy="296.4" r="2.75"/><circle cx="907.3" cy="306.8" r="2.75"/><circle cx="907.4" cy="301.7" r="2.75"/><circle cx="907.5" cy="307.1" r="2.75"/><circle cx="906.7" cy="329.5" r="2.75"/><circle cx="907.3" cy="330.9" r="2.75"/><circle cx="907.9" cy="327.4" r="2.75"/><circle cx="908.1" cy="328.8" r="2.75"/><circle cx="908.3" cy="339.5" r="2.75"/><circle cx="908.6" cy="338.7" r="2.75"/><circle cx="909.5" cy="329.3" r="2.75"/><circle cx="909.7" cy="337" r="2.75"/><circle cx="909.7" cy="337.7" r="2.75"/><circle cx="909.8" cy="335" r="2.75"/><circle cx="910.3" cy="332.4" r="2.75"/><circle cx="910.5" cy="329.8" r="2.75"/><circle cx="910.5" cy="330.9" r="2.75"/><circle cx="910.5" cy="324.6" r="2.75"/><circle cx="910.6" cy="325.6" r="2.75"/><circle cx="910.6" cy="319.9" r="2.75"/><circle cx="910.7" cy="324" r="2.75"/><circle cx="911.1" cy="326.7" r="2.75"/><circle cx="911.3" cy="322.8" r="2.75"/><circle cx="911.6" cy="334.9" r="2.75"/><circle cx="912.3" cy="339" r="2.75"/><circle cx="912.3" cy="330.4" r="2.75"/><circle cx="912.5" cy="320.3" r="2.75"/><circle cx="912.6" cy="325.8" r="2.75"/><circle cx="912.8" cy="328.6" r="2.75"/><circle cx="913.1" cy="339.9" r="2.75"/><circle cx="913.5" cy="331.3" r="2.75"/><circle cx="913.9" cy="323.8" r="2.75"/><circle cx="914" cy="328.2" r="2.75"/><circle cx="914.3" cy="327.4" r="2.75"/><circle cx="914.4" cy="326.6" r="2.75"/><circle cx="914.6" cy="325.1" r="2.75"/><circle cx="915" cy="321.8" r="2.75"/><circle cx="915.3" cy="337.5" r="2.75"/><circle cx="915.3" cy="334.4" r="2.75"/><circle cx="915.9" cy="331" r="2.75"/><circle cx="916.5" cy="338.3" r="2.75"/><circle cx="916.6" cy="325.2" r="2.75"/><circle cx="916.7" cy="329.2" r="2.75"/><circle cx="916.7" cy="331.6" r="2.75"/><circle cx="917.3" cy="326.8" r="2.75"/><circle cx="917.8" cy="327.5" r="2.75"/><circle cx="916.7" cy="356.5" r="2.75"/><circle cx="916.7" cy="357.8" r="2.75"/><circle cx="916.8" cy="357.7" r="2.75"/><circle cx="916.8" cy="356.3" r="2.75"/><circle cx="916.8" cy="358" r="2.75"/><circle cx="916.9" cy="358.8" r="2.75"/><circle cx="917.1" cy="356.6" r="2.75"/><circle cx="917.2" cy="359" r="2.75"/><circle cx="917.4" cy="357.5" r="2.75"/><circle cx="917.5" cy="357.8" r="2.75"/><circle cx="917.5" cy="359.2" r="2.75"/><circle cx="917.7" cy="358" r="2.75"/><circle cx="917.8" cy="357.1" r="2.75"/><circle cx="917.8" cy="358.1" r="2.75"/><circle cx="919" cy="403" r="2.75"/><circle cx="919.1" cy="416.2" r="2.75"/><circle cx="919.1" cy="422" r="2.75"/><circle cx="919.4" cy="397.5" r="2.75"/><circle cx="919.6" cy="395.8" r="2.75"/><circle cx="919.9" cy="418.4" r="2.75"/><circle cx="919.9" cy="416" r="2.75"/><circle cx="920.1" cy="393.1" r="2.75"/><circle cx="920.2" cy="397.5" r="2.75"/><circle cx="920.4" cy="385.6" r="2.75"/><circle cx="920.7" cy="383" r="2.75"/><circle cx="920.8" cy="391.4" r="2.75"/><circle cx="920.9" cy="404.9" r="2.75"/><circle cx="921.3" cy="415.9" r="2.75"/><circle cx="921.4" cy="415.4" r="2.75"/><circle cx="921.5" cy="382.7" r="2.75"/><circle cx="921.5" cy="403.8" r="2.75"/><circle cx="921.6" cy="385.3" r="2.75"/><circle cx="921.6" cy="385.2" r="2.75"/><circle cx="921.7" cy="384.3" r="2.75"/><circle cx="923.3" cy="400" r="2.75"/><circle cx="923.4" cy="415.6" r="2.75"/><circle cx="923.7" cy="393.5" r="2.75"/><circle cx="923.8" cy="380.6" r="2.75"/><circle cx="924.3" cy="407.5" r="2.75"/><circle cx="924.5" cy="398.6" r="2.75"/><circle cx="924.7" cy="396.2" r="2.75"/><circle cx="925.3" cy="413.2" r="2.75"/><circle cx="926.9" cy="400" r="2.75"/><circle cx="926.9" cy="401.8" r="2.75"/><circle cx="927.1" cy="391.1" r="2.75"/><circle cx="927.3" cy="388.3" r="2.75"/><circle cx="927.4" cy="390.5" r="2.75"/><circle cx="927.6" cy="390.7" r="2.75"/><circle cx="928.1" cy="396.1" r="2.75"/><circle cx="928.2" cy="400.4" r="2.75"/><circle cx="928.4" cy="390.7" r="2.75"/><circle cx="928.5" cy="394.4" r="2.75"/><circle cx="928.8" cy="401.1" r="2.75"/><circle cx="929.1" cy="404" r="2.75"/><circle cx="929.3" cy="397.4" r="2.75"/><circle cx="929.3" cy="394.6" r="2.75"/><circle cx="929.5" cy="394" r="2.75"/><circle cx="929.5" cy="402.1" r="2.75"/><circle cx="929.6" cy="398.8" r="2.75"/><circle cx="930.6" cy="398.2" r="2.75"/><circle cx="931" cy="386.5" r="2.75"/><circle cx="931" cy="398.1" r="2.75"/><circle cx="931.3" cy="401.3" r="2.75"/><circle cx="931.3" cy="396.8" r="2.75"/><circle cx="122.3" cy="130" r="2.75"/><circle cx="122.3" cy="170" r="2.75"/><circle cx="122.3" cy="173" r="2.75"/><circle cx="355" cy="160" r="2.75"/><circle cx="356" cy="39" r="2.75"/><circle cx="361.7" cy="43.3" r="2.75"/><circle cx="395" cy="224" r="2.75"/><circle cx="396" cy="229" r="2.75"/><circle cx="408" cy="226" r="2.75"/><circle cx="408" cy="245" r="2.75"/><circle cx="408" cy="263" r="2.75"/><circle cx="496.7" cy="360" r="2.75"/><circle cx="496.7" cy="375" r="2.75"/><circle cx="497" cy="390" r="2.75"/><circle cx="497" cy="400" r="2.75"/><circle cx="499.3" cy="406.7" r="2.75"/><circle cx="499.3" cy="417.3" r="2.75"/><circle cx="499" cy="431" r="2.75"/><circle cx="500" cy="436.7" r="2.75"/><circle cx="499.3" cy="465" r="2.75"/><circle cx="499.3" cy="468" r="2.75"/><circle cx="571.7" cy="285" r="2.75"/><circle cx="628.3" cy="321.7" r="2.75"/><circle cx="523" cy="210" r="2.75"/><circle cx="535" cy="206" r="2.75"/><circle cx="882" cy="341" r="2.75"/><circle cx="883.5" cy="345" r="2.75"/></g>
<polyline points="120.5,285.5 121,284.6 121.5,283.4 122,282.2 122.5,280.9 123,279.6 123.5,278.4 124,277.1 124.5,275.8 125,274.5 125.5,273.3 126,272.1 126.5,271 127,270 127.5,269.1 128,268.1 128.5,267 129,265.7 129.5,264.3 130,262.8 130.5,261.3 131,259.9 131.5,258.4 132,257.3 132.5,257.1 133,258 133.5,259.6 134,261.4 134.5,263.2 135,264.7 135.5,266 136,266.9 136.5,267.6 137,267.8 137.5,267.4 138,266.5 138.5,265.4 139,264.5 139.5,263.8 140,263.6 140.5,263.8 141,264.3 141.5,264.7 142,265.2 142.5,265.7 143,266.1 143.5,266.5 144,266.8 144.5,267.2 145,267.6 145.5,268 146,268.2 146.5,268.4 147,268.3 147.5,268.2 148,268.1 148.5,268 149,267.9 149.5,267.8 150,267.7 150.5,267.3 151,266.5 151.5,265.4 152,264 152.5,262.7 153,261.3 153.5,260 154,258.9 154.5,258.4 155,258.9 155.5,259.9 156,261.4 156.5,263.8 157,267 157.5,270.5 158,274.1 158.5,277.4 159,279.5 159.5,279.6 160,278.6 160.5,277.2 161,275.9 161.5,274.8 162,274 162.5,273.6 163,273.5 163.5,274 164,275.6 164.5,278.2 165,281 165.5,284 166,287.1 166.5,290.4 167,293.7 167.5,296.9 168,299.8 168.5,302.1 169,303.9 169.5,305.3 170,306.1 170.5,305.9 171,305 171.5,304 172,303.1 172.5,302.1 173,301.1 173.5,300.4 174,300.1 174.5,300.3 175,300.6 175.5,300.9 176,301.4 176.5,302.1 177,303.1 177.5,304.4 178,305.7 178.5,306.9 179,308 179.5,308.8 180,309.3 180.5,309.6 181,309.9 181.5,310.2 182,310.5 182.5,310.9 183,311.2 183.5,311.4 184,311.7 184.5,311.9 185,312.1 185.5,312.3 186,312.5 186.5,312.7 187,312.9 187.5,313.1 188,313.3 188.5,313.5 189,313.6 189.5,313.8 190,314 190.5,314.2 191,314.7 191.5,315.7 192,316.9 192.5,318.3 193,319.6 193.5,320.9 194,322.2 194.5,323.5 195,324.8 195.5,326.1 196,327.3 196.5,327.9 197,327.6 197.5,326.5 198,325.2 198.5,323.9 199,322.5 199.5,321.1 200,319.8 200.5,318.4 201,317 201.5,315.7 202,314.3 202.5,313 203,311.7 203.5,310.4 204,309.1 204.5,307.7 205,306.1 205.5,304.4 206,302.6 206.5,301 207,300.2 207.5,300.6 208,301.8 208.5,303.1 209,304.5 209.5,305.9 210,307.2 210.5,308.5 211,309.3 211.5,309.2 212,308.7 212.5,308.1 213,307.5 213.5,306.9 214,306.3 214.5,305.7 215,305.5 215.5,305.8 216,306.4 216.5,307.1 217,307.8 217.5,308.5 218,309.2 218.5,309.9 219,310.6 219.5,311.2 220,311.7 220.5,311.8 221,311.8 221.5,311.7 222,311.6 222.5,311.5 223,311.4 223.5,311.3 224,311.2 224.5,311 225,310.5 225.5,309.5 226,308.2 226.5,306.9 227,305.5 227.5,304.1 228,302.8 228.5,301.6 229,301.3 229.5,302.4 230,304.4 230.5,306.6 231,308.8 231.5,311 232,313.2 232.5,315.4 233,317.6 233.5,319.6 234,320.7 234.5,320.5 235,319.5 235.5,318.2 236,317 236.5,315.8 237,314.5 237.5,313.4 238,312.9 238.5,313.5 239,314.7 239.5,316 240,317.3 240.5,318.8 241,321 241.5,324.2 242,328 242.5,332 243,336 243.5,339.8 244,342.8 244.5,344.5 245,345.5 245.5,346.1 246,346.4 246.5,346 247,345.3 247.5,344.4 248,343.6 248.5,342.7 249,341.9 249.5,341 250,340.1 250.5,339.3 251,338.4 251.5,337.6 252,336.7 252.5,335.9 253,335.4 253.5,335.2 254,335.3 254.5,335.5 255,335.7 255.5,335.8 256,335.7 256.5,335.4 257,334.8 257.5,334.2 258,333.7 258.5,333.1 259,332.5 259.5,331.9 260,331.3 260.5,330.7 261,330.2 261.5,329.6 262,328.9 262.5,328.2 263,327.4 263.5,326.6 264,325.8 264.5,325 265,324.2 265.5,323.4 266,322.6 266.5,321.9 267,321.7 267.5,322.3 268,323.3 268.5,324.5 269,325.7 269.5,326.7 270,327.2 270.5,326.9 271,326 271.5,325 272,324 272.5,322.9 273,321.3 273.5,318.9 274,316 274.5,313 275,310 275.5,307 276,304.3 276.5,301.8 277,299.6 277.5,297.3 278,295.1 278.5,292.9 279,290.7 279.5,288.8 280,287.2 280.5,286 281,284.9 281.5,283.8 282,282.7 282.5,281.6 283,280.7 283.5,280.3 284,280.3 284.5,280.4 285,280.5 285.5,280.6 286,280.7 286.5,280.7 287,280.3 287.5,279.4 288,278.2 288.5,277 289,275.7 289.5,274.5 290,273.3 290.5,272.2 291,271.5 291.5,271 292,270.6 292.5,270.2 293,269.8 293.5,269.4 294,269 294.5,268.5 295,268 295.5,267.3 296,266.4 296.5,265.4 297,264.3 297.5,263.3 298,262.3 298.5,261.2 299,260 299.5,258.6 300,257.1 300.5,255.6 301,254.2 301.5,252.7 302,251.1 302.5,249.3 303,247.1 303.5,244.7 304,242.7 304.5,241.8 305,242 305.5,242.9 306,243.8 306.5,244.8 307,246 307.5,247.3 308,248.7 308.5,250.2 309,251.7 309.5,252.5 310,252.1 310.5,250.4 311,247.9 311.5,245.4 312,243 312.5,240.9 313,238.8 313.5,237.2 314,236.6 314.5,237.6 315,239.4 315.5,241.4 316,243.6 316.5,246.1 317,248.9 317.5,251.9 318,254.8 318.5,257.5 319,259.4 319.5,259.8 320,259.3 320.5,258.6 321,257.9 321.5,257 322,255.8 322.5,254.3 323,252.7 323.5,251.1 324,249.5 324.5,247.9 325,246.5 325.5,245.1 326,243.7 326.5,242.4 327,241.3 327.5,240.5 328,240 328.5,239.7 329,239.3 329.5,239 330,238.7 330.5,238.4 331,238.2 331.5,237.9 332,237.7 332.5,237.4 333,237.1 333.5,236.7 334,236.1 334.5,235.2 335,234.2 335.5,233.2 336,232.1 336.5,231.1 337,230.1 337.5,229.1 338,228.1 338.5,227.1 339,226.1 339.5,225.1 340,224.2 340.5,223.1 341,221.9 341.5,220.3 342,218.7 342.5,217.2 343,216.6 343.5,216.7 344,217.3 344.5,217.9 345,218.5 345.5,218.9 346,218.9 346.5,218.4 347,217.7 347.5,216.2 348,213.9 348.5,211 349,208 349.5,205 350,202 350.5,199 351,196 351.5,193 352,190 352.5,187 353,183.8 353.5,180.5 354,177 354.5,173.5 355,170 355.5,166.7 356,164.1 356.5,162.6 357,161.8 357.5,161.2 358,160.6 358.5,160.2 359,160.2 359.5,160.5 360,161 360.5,161.4 361,161.8 361.5,161.5 362,160.4 362.5,158.6 363,156.8 363.5,154.9 364,153.2 364.5,151.6 365,150.2 365.5,148.9 366,147.6 366.5,146.4 367,145.3 367.5,144.6 368,144 368.5,143.5 369,143 369.5,142.5 370,142 370.5,141.3 371,140.3 371.5,139.1 372,137.8 372.5,136.4 373,135.1 373.5,133.7 374,132.2 374.5,130.7 375,129.3 375.5,127.7 376,126.1 376.5,124.2 377,122.2 377.5,120 378,117.8 378.5,116 379,115.2 379.5,115.8 380,117.3 380.5,119.3 381,122.1 381.5,125.5 382,129.3 382.5,132.7 383,135.4 383.5,137.7 384,139.8 384.5,141.7 385,142.9 385.5,142.8 386,141.9 386.5,141 387,140.1 387.5,139.5 388,139.1 388.5,139.1 389,140.1 389.5,142.7 390,146.2 390.5,150.1 391,154.2 391.5,158.4 392,162.7 392.5,166.9 393,171 393.5,174.9 394,178.5 394.5,181.3 395,182.7 395.5,183.3 396,183.6 396.5,183.9 397,184.1 397.5,184.2 398,184.1 398.5,184 399,183.8 399.5,183.7 400,183.9 400.5,184.6 401,185.5 401.5,186.6 402,187.6 402.5,188.8 403,190.4 403.5,192.2 404,194.1 404.5,196.1 405,198.1 405.5,200.1 406,202.3 406.5,204.5 407,206.8 407.5,209 408,211.3 408.5,213.5 409,215.8 409.5,218.1 410,220.3 410.5,222.6 411,224.8 411.5,227 412,229.1 412.5,231.1 413,233.1 413.5,235.1 414,237.1 414.5,239.1 415,241.1 415.5,243.4 416,245.7 416.5,248 417,250.3 417.5,252.6 418,254.9 418.5,257 419,259 419.5,261 420,262.8 420.5,264.4 421,265.9 421.5,267.3 422,268.6 422.5,269.5 423,270 423.5,270.2 424,270.5 424.5,270.8 425,271.1 425.5,271.5 426,271.8 426.5,272.2 427,272.6 427.5,272.9 428,273.3 428.5,273.4 429,273.3 429.5,273 430,272.5 430.5,272 431,271.5 431.5,271.3 432,271.6 432.5,272.8 433,274.4 433.5,276.2 434,278.2 434.5,280.5 435,283.1 435.5,285.8 436,288.5 436.5,291.1 437,293.5 437.5,295.4 438,296.6 438.5,297.5 439,298.3 439.5,299.2 440,300 440.5,301 441,302.3 441.5,303.7 442,305.2 442.5,306.8 443,308.3 443.5,309.8 444,311.4 444.5,313.1 445,314.8 445.5,316.5 446,318.2 446.5,320 447,321.7 447.5,323.4 448,324.9 448.5,326.3 449,327.4 449.5,328.4 450,329.5 450.5,330.5 451,331.4 451.5,332.2 452,332.7 452.5,333 453,333.4 453.5,333.7 454,334.1 454.5,334.9 455,336.6 455.5,338.9 456,341.5 456.5,344.2 457,346.9 457.5,349.5 458,351.7 458.5,353.5 459,355 459.5,356.3 460,356.9 460.5,356.3 461,354.6 461.5,352.7 462,350.7 462.5,348.6 463,346.6 463.5,344.7 464,343.1 464.5,342.6 465,343.6 465.5,345.3 466,347.3 466.5,349.3 467,351.3 467.5,353.4 468,355.7 468.5,358.3 469,361 469.5,363.6 470,365.6 470.5,366.4 471,365.7 471.5,364.4 472,362.9 472.5,361.3 473,359.8 473.5,358.3 474,357 474.5,355.8 475,354.9 475.5,354 476,353.2 476.5,352.3 477,351.6 477.5,351.3 478,351.5 478.5,351.9 479,352.4 479.5,352.8 480,353.3 480.5,353.5 481,353.3 481.5,352.8 482,352 482.5,351.3 483,350.5 483.5,349.8 484,349 484.5,348.3 485,347.5 485.5,346.7 486,346 486.5,345.2 487,344.5 487.5,343.7 488,343 488.5,342.2 489,341.3 489.5,340.2 490,338.9 490.5,337.5 491,336 491.5,334.5 492,333 492.5,331.6 493,330.1 493.5,329 494,328.5 494.5,328.6 495,328.9 495.5,329.2 496,329.5 496.5,329.6 497,329.1 497.5,327.7 498,325.8 498.5,323.9 499,321.9 499.5,319.9 500,317.9 500.5,315.9 501,313.8 501.5,311.3 502,308.5 502.5,305.5 503,302.4 503.5,299.4 504,296.3 504.5,293.2 505,290 505.5,286.8 506,283.5 506.5,280.2 507,277 507.5,274.1 508,272 508.5,270.8 509,269.9 509.5,269.1 510,268.4 510.5,267.6 511,266.7 511.5,265.9 512,265 512.5,264.2 513,263.4 513.5,262.5 514,261.7 514.5,260.8 515,259.8 515.5,258.6 516,257.3 516.5,256 517,254.7 517.5,253.4 518,252 518.5,250.7 519,249.4 519.5,248 520,246.7 520.5,245.4 521,244 521.5,242.7 522,241.3 522.5,240 523,238.7 523.5,237.3 524,236 524.5,234.6 525,232.9 525.5,230.9 526,228.6 526.5,226.3 527,224 527.5,221.7 528,219.3 528.5,217 529,214.7 529.5,212.5 530,211.2 530.5,211.2 531,212 531.5,213 532,214 532.5,215 533,216 533.5,217 534,218 534.5,218.9 535,219.3 535.5,218.9 536,218 536.5,217 537,216 537.5,215 538,214 538.5,213 539,212 539.5,211.3 540,211.5 540.5,213.3 541,216.1 541.5,219.1 542,222.1 542.5,225.1 543,228.1 543.5,230.8 544,233.4 544.5,235.9 545,238.3 545.5,240.8 546,243.1 546.5,245 547,245.7 547.5,245.5 548,245 548.5,244.3 549,243.6 549.5,242.9 550,242.3 550.5,241.6 551,241 551.5,240.7 552,240.9 552.5,241.6 553,242.6 553.5,243.6 554,244.6 554.5,245.6 555,246.6 555.5,247.6 556,248.6 556.5,249.4 557,249.9 557.5,250.2 558,250.4 558.5,250.6 559,250.8 559.5,251 560,251.1 560.5,251.3 561,251.5 561.5,251.7 562,251.9 562.5,252.2 563,252.6 563.5,252.9 564,253.2 564.5,253.5 565,253.9 565.5,254.2 566,254.6 566.5,255.2 567,256.1 567.5,257.4 568,258.9 568.5,260.4 569,261.9 569.5,263.4 570,264.9 570.5,266.4 571,267.8 571.5,268.7 572,268.5 572.5,267.5 573,266.1 573.5,264.6 574,263.1 574.5,261.6 575,260.1 575.5,258.6 576,257.1 576.5,255.7 577,254.6 577.5,253.6 578,252.7 578.5,251.8 579,250.9 579.5,250 580,249.2 580.5,248.3 581,247.4 581.5,246.5 582,245.6 582.5,244.8 583,244.2 583.5,244.3 584,245 584.5,246.1 585,247.3 585.5,248.4 586,249.6 586.5,250.8 587,252 587.5,253.1 588,253.8 588.5,253.7 589,252.8 589.5,251.5 590,250.5 590.5,250.4 591,250.8 591.5,251.3 592,251.8 592.5,252.4 593,252.9 593.5,253.4 594,253.9 594.5,254.3 595,254.7 595.5,255.1 596,255.4 596.5,255.8 597,256.2 597.5,256.5 598,256.8 598.5,257 599,256.7 599.5,256 600,255.2 600.5,254.4 601,253.5 601.5,252.7 602,251.8 602.5,250.9 603,250.1 603.5,249.2 604,248.3 604.5,247.4 605,246.7 605.5,246.5 606,247.4 606.5,249 607,250.9 607.5,252.8 608,254.9 608.5,257.2 609,259.9 609.5,262.8 610,265.5 610.5,267.2 611,267.2 611.5,265.9 612,264.1 612.5,262.2 613,260.5 613.5,259.1 614,258.6 614.5,259.1 615,260.2 615.5,261.3 616,262.5 616.5,263.8 617,265.6 617.5,268.5 618,272.1 618.5,276 619,279.7 619.5,283 620,285.9 620.5,288.5 621,290.7 621.5,292 622,292 622.5,291.4 623,290.6 623.5,289.8 624,288.9 624.5,288.1 625,287.3 625.5,286.4 626,285.6 626.5,284.7 627,283.9 627.5,283.2 628,283.1 628.5,283.6 629,284.5 629.5,285.5 630,286.4 630.5,287.4 631,288.2 631.5,288.8 632,289.2 632.5,289.5 633,289.7 633.5,290 634,290.2 634.5,290.5 635,290.7 635.5,290.9 636,291 636.5,291 637,291 637.5,291 638,291 638.5,291 639,291 639.5,290.9 640,290.8 640.5,290.5 641,290.2 641.5,289.9 642,289.5 642.5,289.3 643,289.5 643.5,290.4 644,291.9 644.5,293.6 645,295.3 645.5,296.9 646,298.3 646.5,299.1 647,299.3 647.5,299.1 648,298.8 648.5,298 649,296.7 649.5,295 650,293.2 650.5,291.4 651,289.6 651.5,287.8 652,286.2 652.5,284.6 653,283.1 653.5,281.5 654,280 654.5,278.5 655,277 655.5,275.3 656,273.7 656.5,272 657,270.4 657.5,268.8 658,267.6 658.5,267.2 659,267.8 659.5,268.8 660,269.9 660.5,271.1 661,272.2 661.5,273.3 662,274.3 662.5,274.9 663,274.7 663.5,273.9 664,273 664.5,271.9 665,271 665.5,270.1 666,269.5 666.5,269.3 667,269.3 667.5,269.3 668,269.3 668.5,269.3 669,269.3 669.5,269.3 670,269.2 670.5,268.9 671,268.5 671.5,268 672,267.5 672.5,267 673,266.5 673.5,266 674,265.4 674.5,264.7 675,263.5 675.5,262.1 676,260.6 676.5,259.2 677,257.7 677.5,256.3 678,254.8 678.5,253.4 679,252.4 679.5,252.2 680,253 680.5,254.2 681,255.6 681.5,256.9 682,258.2 682.5,259.6 683,260.9 683.5,262.1 684,263 684.5,263.6 685,264.1 685.5,264.3 686,263.7 686.5,262.4 687,260.6 687.5,258.8 688,257 688.5,255.4 689,254.7 689.5,255.6 690,257.7 690.5,260.1 691,262.7 691.5,265.2 692,267.7 692.5,270.2 693,272.5 693.5,274.8 694,277.1 694.5,279.4 695,281.5 695.5,282.9 696,283 696.5,282 697,280.7 697.5,279.3 698,278 698.5,276.7 699,275.5 699.5,274.4 700,273.4 700.5,272.5 701,271.5 701.5,270.6 702,270 702.5,270 703,270.5 703.5,271.1 704,271.7 704.5,272.4 705,273 705.5,273.6 706,274.2 706.5,274.5 707,274.5 707.5,274.2 708,274 708.5,273.8 709,273.5 709.5,273.2 710,273 710.5,272.7 711,272.5 711.5,272.2 712,271.9 712.5,271.6 713,271.3 713.5,271 714,270.6 714.5,270.3 715,270 715.5,269.8 716,269.7 716.5,270.2 717,271 717.5,271.9 718,273 718.5,274 719,275.1 719.5,276.3 720,277.8 720.5,279.4 721,281.1 721.5,282.7 722,284.3 722.5,285.3 723,285.3 723.5,284.4 724,283.2 724.5,281.8 725,280.5 725.5,279.1 726,277.9 726.5,276.8 727,275.8 727.5,274.8 728,273.9 728.5,272.9 729,271.8 729.5,270.5 730,269.1 730.5,267.6 731,266.1 731.5,264.5 732,263 732.5,261.5 733,260.2 733.5,259.4 734,259.6 734.5,260.5 735,261.5 735.5,262.4 736,263.4 736.5,264.4 737,265.4 737.5,266.4 738,267.4 738.5,268.5 739,269.5 739.5,270.4 740,270.9 740.5,270.7 741,270.2 741.5,269.5 742,268.9 742.5,268.3 743,267.9 743.5,268 744,268.7 744.5,269.6 745,270.7 745.5,271.7 746,272.7 746.5,273.5 747,274.3 747.5,274.9 748,275.5 748.5,276.1 749,276.7 749.5,277.2 750,277.8 750.5,278.4 751,279 751.5,279.5 752,279.7 752.5,279.2 753,278.4 753.5,277.5 754,276.7 754.5,275.8 755,274.9 755.5,274.1 756,273.7 756.5,274.2 757,275.8 757.5,277.9 758,280.1 758.5,282.3 759,284.5 759.5,286.9 760,289.4 760.5,292.1 761,294.7 761.5,296.7 762,297.5 762.5,297.2 763,296.5 763.5,295.7 764,294.9 764.5,294.2 765,294.4 765.5,296 766,298.4 766.5,301.1 767,303.7 767.5,306.6 768,309.9 768.5,313.5 769,317.3 769.5,321 770,324.6 770.5,327.7 771,329.6 771.5,330.1 772,329.9 772.5,329.5 773,329.2 773.5,328.8 774,328.3 774.5,327.6 775,326.8 775.5,326 776,325.2 776.5,324.4 777,323.9 777.5,324 778,324.7 778.5,325.8 779,327 779.5,328.1 780,329.3 780.5,330.3 781,331.2 781.5,332 782,332.8 782.5,333.5 783,334.2 783.5,335 784,335.7 784.5,336.4 785,337 785.5,337.4 786,337.7 786.5,337.9 787,338.2 787.5,338.4 788,338.7 788.5,338.9 789,339.1 789.5,339.2 790,339.3 790.5,339.3 791,339.3 791.5,339.3 792,339.4 792.5,339.9 793,341.1 793.5,342.6 794,344.3 794.5,345.9 795,347.5 795.5,349.1 796,350.6 796.5,352 797,353.2 797.5,354.2 798,354.5 798.5,353.7 799,352.3 799.5,350.8 800,349.4 800.5,347.9 801,346.5 801.5,345.3 802,344.2 802.5,343.2 803,342.2 803.5,341.2 804,340.2 804.5,339.2 805,338.2 805.5,337 806,335.7 806.5,334.2 807,332.7 807.5,331.3 808,329.9 808.5,328.8 809,328.5 809.5,329.2 810,330.3 810.5,331.4 811,332.6 811.5,333.7 812,334.6 812.5,334.9 813,335 813.5,335 814,335 814.5,335 815,335 815.5,335 816,335.1 816.5,335.4 817,335.9 817.5,336.5 818,337.1 818.5,337.7 819,338.3 819.5,338.9 820,339.5 820.5,340 821,340.4 821.5,340.6 822,340.7 822.5,340.9 823,341 823.5,341.1 824,341.2 824.5,341.3 825,341.2 825.5,340.8 826,340.2 826.5,339.5 827,338.9 827.5,338.2 828,337.5 828.5,336.7 829,335.7 829.5,334.7 830,334 830.5,334.1 831,335.3 831.5,337.2 832,339.1 832.5,341.1 833,343.1 833.5,345.2 834,347.2 834.5,349.2 835,351.2 835.5,352.7 836,353.3 836.5,352.8 837,351.8 837.5,350.8 838,349.7 838.5,348.5 839,347.5 839.5,346.5 840,346.2 840.5,347.2 841,349.4 841.5,352.2 842,355.2 842.5,358.5 843,362.3 843.5,366.2 844,370.1 844.5,373.8 845,376.7 845.5,378.2 846,378.8 846.5,379.2 847,379.6 847.5,380 848,380.3 848.5,380.5 849,380.3 849.5,379.7 850,378.9 850.5,378 851,377.2 851.5,376.3 852,375.6 852.5,375.2 853,375.7 853.5,376.9 854,378.2 854.5,379.5 855,380.8 855.5,382 856,383 856.5,383.7 857,384.2 857.5,384.7 858,385.2 858.5,385.7 859,386.2 859.5,386.7 860,387.1 860.5,387.5 861,387.8 861.5,388.1 862,388.3 862.5,388.6 863,388.8 863.5,389.1 864,389.3 864.5,389.4 865,389.4 865.5,389.3 866,389.1 866.5,388.9 867,388.8 867.5,388.9 868,389.5 868.5,390.6 869,392.1 869.5,393.5 870,395.1 870.5,396.9 871,398.8 871.5,400.6 872,402.5 872.5,404.2 873,405.4 873.5,405.5 874,404.5 874.5,403 875,401.5 875.5,400 876,398.5 876.5,397.2 877,396 877.5,395 878,394 878.5,393 879,392.1 879.5,391.1 880,390.1 880.5,389 881,387.8 881.5,386.4 882,384.9 882.5,383.3 883,381.8 883.5,380.5 884,379.8 884.5,380.3 885,381.4 885.5,382.7 886,384 886.5,385.3 887,386.5 887.5,387.4 888,388.1 888.5,388.6 889,389.1 889.5,389.2 890,388.9 890.5,388.5 891,388 891.5,387.5 892,387.1 892.5,386.8 893,387 893.5,387.5 894,388.3 894.5,389 895,389.8 895.5,390.5 896,391.3 896.5,392 897,392.6 897.5,392.9 898,393.1 898.5,393.2 899,393.4 899.5,393.5 900,393.6 900.5,393.7 901,393.7 901.5,393.2 902,392.2 902.5,391 903,389.7 903.5,388.5 904,387.3 904.5,386 905,384.8 905.5,384.1 906,384.2 906.5,385 907,386.1 907.5,387.3 908,388.6 908.5,390 909,392.2 909.5,395.3 910,398.8 910.5,402.3 911,404.7 911.5,405.4 912,404.6 912.5,403.4 913,402.1 913.5,400.9 914,399.6 914.5,398.4 915,397.5 915.5,397.9 916,399.8 916.5,402.5 917,405.5 917.5,408.5 918,411.4 918.5,414.4 919,417.2 919.5,420.1 920,422.8 920.5,425.6 921,428.4 921.5,431 922,432.7 922.5,433.1 923,432.6 923.5,432 924,431.3 924.5,430.6 925,429.9 925.5,429.2 926,428.4 926.5,427.7 927,427.2 927.5,427.1 928,427.6 928.5,428.4 929,429.2 929.5,430 930,430.8 930.5,431.7 931,432.6 931.5,433.5 932,434.2" fill="none" stroke="#0072B2" stroke-width="2.2" stroke-linejoin="round" stroke-linecap="square"/>
<g fill="#0072B2" fill-opacity="0.13"><rect x="932.6" y="399" width="3.4" height="116"/><rect x="937.6" y="400" width="2" height="117"/><rect x="940.8" y="401" width="3.4" height="115"/></g>
<polygon points="931,432 934,434.5 937,437 940,439 943,440.5 944.8,441 944.8,474.5 940,474 936,472.5 933,470.5 931,468" fill="#0072B2"/>
<g fill="#ff0000"><circle cx="935.5" cy="376.5" r="2.75"/><circle cx="933.1" cy="386.1" r="2.75"/><circle cx="932.7" cy="384.1" r="2.75"/><circle cx="934.2" cy="380" r="2.75"/><circle cx="935.4" cy="374.8" r="2.75"/><circle cx="935.6" cy="385.4" r="2.75"/><circle cx="935.9" cy="384.8" r="2.75"/><circle cx="937.1" cy="382.8" r="2.75"/><circle cx="935.1" cy="383.7" r="2.75"/><circle cx="933.7" cy="387" r="2.75"/><circle cx="934.1" cy="390.9" r="2.75"/><circle cx="933.9" cy="378.7" r="2.75"/><circle cx="937.3" cy="378.7" r="2.75"/><circle cx="933.2" cy="378.4" r="2.75"/><circle cx="933.2" cy="389.2" r="2.75"/><circle cx="934.2" cy="378.6" r="2.75"/><circle cx="933.6" cy="375" r="2.75"/><circle cx="935.8" cy="388.8" r="2.75"/><circle cx="934.3" cy="372" r="2.75"/><circle cx="933.6" cy="389" r="2.75"/><circle cx="935.5" cy="372.2" r="2.75"/><circle cx="932.7" cy="387" r="2.75"/><circle cx="934.4" cy="386.7" r="2.75"/><circle cx="933.3" cy="383.9" r="2.75"/><circle cx="937.2" cy="378.5" r="2.75"/><circle cx="934.4" cy="380.7" r="2.75"/><circle cx="934.6" cy="388.9" r="2.75"/><circle cx="932.8" cy="381.7" r="2.75"/><circle cx="933.8" cy="385.9" r="2.75"/><circle cx="933.8" cy="378.1" r="2.75"/><circle cx="936.7" cy="379.9" r="2.75"/><circle cx="936.4" cy="382.7" r="2.75"/><circle cx="934.4" cy="390.8" r="2.75"/><circle cx="933.8" cy="374.5" r="2.75"/><circle cx="935.5" cy="372.4" r="2.75"/><circle cx="936" cy="375.3" r="2.75"/><circle cx="936.5" cy="376.3" r="2.75"/><circle cx="935.4" cy="373.1" r="2.75"/><circle cx="933.9" cy="390.3" r="2.75"/><circle cx="935.5" cy="378.3" r="2.75"/><circle cx="932.9" cy="390.5" r="2.75"/><circle cx="934.5" cy="385.2" r="2.75"/><circle cx="933.1" cy="389.5" r="2.75"/><circle cx="934.8" cy="387.1" r="2.75"/><circle cx="934.9" cy="384" r="2.75"/></g>
<rect x="79.5" y="15.5" width="906" height="527" fill="none" stroke="#000" stroke-width="1.11"/>
<g stroke="#000" stroke-width="1.11"><line x1="183.5" y1="542.5" x2="183.5" y2="547.6"/><line x1="334.5" y1="542.5" x2="334.5" y2="547.6"/><line x1="484.5" y1="542.5" x2="484.5" y2="547.6"/><line x1="635.5" y1="542.5" x2="635.5" y2="547.6"/><line x1="785.5" y1="542.5" x2="785.5" y2="547.6"/><line x1="936.5" y1="542.5" x2="936.5" y2="547.6"/><line x1="74.4" y1="433.5" x2="79.5" y2="433.5"/><line x1="74.4" y1="321.5" x2="79.5" y2="321.5"/><line x1="74.4" y1="209.5" x2="79.5" y2="209.5"/><line x1="74.4" y1="97.5" x2="79.5" y2="97.5"/></g>
<g font-family="DejaVu Sans, Liberation Sans, sans-serif" font-size="13.9px" fill="#000"><text x="182.9" y="562.2" text-anchor="middle">2016</text><text x="333.9" y="562.2" text-anchor="middle">2018</text><text x="483.9" y="562.2" text-anchor="middle">2020</text><text x="634.9" y="562.2" text-anchor="middle">2022</text><text x="784.9" y="562.2" text-anchor="middle">2024</text><text x="935.9" y="562.2" text-anchor="middle">2026</text><text x="69.5" y="439.1" text-anchor="end">800</text><text x="69.5" y="327.1" text-anchor="end">1000</text><text x="69.5" y="215.1" text-anchor="end">1200</text><text x="69.5" y="103.1" text-anchor="end">1400</text>
<text x="532.6" y="582" text-anchor="middle">ds</text>
<text transform="translate(25.8,279.5) rotate(-90)" text-anchor="middle">y</text>
</g>
</svg></body></html>
